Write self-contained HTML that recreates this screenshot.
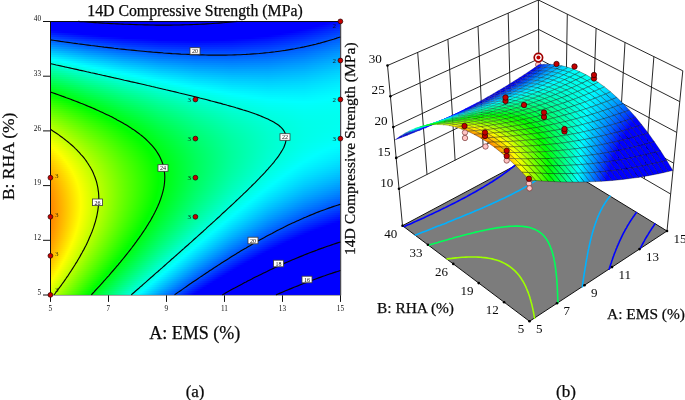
<!DOCTYPE html>
<html><head><meta charset="utf-8"><title>Figure</title>
<style>html,body{margin:0;padding:0;background:#fff}svg{display:block;will-change:transform}text{font-family:"Liberation Serif",serif;fill:#0a0a0a}.b{stroke:#0a0a0a;stroke-width:.25px}</style>
</head><body>
<svg width="685" height="400" viewBox="0 0 685 400">
<defs><linearGradient id="r0" gradientUnits="userSpaceOnUse" x1="50.4" x2="340.4" y1="0" y2="0"><stop offset="0" stop-color="#00f"/><stop offset="0.9675" stop-color="#00f"/><stop offset="1" stop-color="#0010ff"/></linearGradient><linearGradient id="r1" gradientUnits="userSpaceOnUse" x1="50.4" x2="340.4" y1="0" y2="0"><stop offset="0" stop-color="#00f"/><stop offset="0.9442" stop-color="#00f"/><stop offset="1" stop-color="#001aff"/></linearGradient><linearGradient id="r2" gradientUnits="userSpaceOnUse" x1="50.4" x2="340.4" y1="0" y2="0"><stop offset="0" stop-color="#00f"/><stop offset="0.9194" stop-color="#00f"/><stop offset="1" stop-color="#0024ff"/></linearGradient><linearGradient id="r3" gradientUnits="userSpaceOnUse" x1="50.4" x2="340.4" y1="0" y2="0"><stop offset="0" stop-color="#00f"/><stop offset="0.8925" stop-color="#00f"/><stop offset="1" stop-color="#002eff"/></linearGradient><linearGradient id="r4" gradientUnits="userSpaceOnUse" x1="50.4" x2="340.4" y1="0" y2="0"><stop offset="0" stop-color="#00f"/><stop offset="0.863" stop-color="#00f"/><stop offset="0.875" stop-color="#0004ff"/><stop offset="1" stop-color="#0038ff"/></linearGradient><linearGradient id="r5" gradientUnits="userSpaceOnUse" x1="50.4" x2="340.4" y1="0" y2="0"><stop offset="0" stop-color="#000fff"/><stop offset="0.0455" stop-color="#00f"/><stop offset="0.8302" stop-color="#00f"/><stop offset="0.875" stop-color="#000fff"/><stop offset="1" stop-color="#0041ff"/></linearGradient><linearGradient id="r6" gradientUnits="userSpaceOnUse" x1="50.4" x2="340.4" y1="0" y2="0"><stop offset="0" stop-color="#02f"/><stop offset="0.1077" stop-color="#00f"/><stop offset="0.7927" stop-color="#00f"/><stop offset="0.875" stop-color="#0019ff"/><stop offset="1" stop-color="#004aff"/></linearGradient><linearGradient id="r7" gradientUnits="userSpaceOnUse" x1="50.4" x2="340.4" y1="0" y2="0"><stop offset="0" stop-color="#0035ff"/><stop offset="0.125" stop-color="#000dff"/><stop offset="0.177" stop-color="#00f"/><stop offset="0.75" stop-color="#00f"/><stop offset="0.875" stop-color="#0024ff"/><stop offset="1" stop-color="#0053ff"/></linearGradient><linearGradient id="r8" gradientUnits="userSpaceOnUse" x1="50.4" x2="340.4" y1="0" y2="0"><stop offset="0" stop-color="#0048ff"/><stop offset="0.125" stop-color="#001eff"/><stop offset="0.25" stop-color="#0002ff"/><stop offset="0.2592" stop-color="#00f"/><stop offset="0.6905" stop-color="#00f"/><stop offset="0.75" stop-color="#000cff"/><stop offset="0.875" stop-color="#002eff"/><stop offset="1" stop-color="#005cff"/></linearGradient><linearGradient id="r9" gradientUnits="userSpaceOnUse" x1="50.4" x2="340.4" y1="0" y2="0"><stop offset="0" stop-color="#005aff"/><stop offset="0.125" stop-color="#0030ff"/><stop offset="0.25" stop-color="#0012ff"/><stop offset="0.375" stop-color="#00f"/><stop offset="0.5983" stop-color="#00f"/><stop offset="0.625" stop-color="#0003ff"/><stop offset="0.75" stop-color="#0017ff"/><stop offset="0.875" stop-color="#0037ff"/><stop offset="1" stop-color="#0065ff"/></linearGradient><linearGradient id="r10" gradientUnits="userSpaceOnUse" x1="50.4" x2="340.4" y1="0" y2="0"><stop offset="0" stop-color="#006cff"/><stop offset="0.125" stop-color="#0041ff"/><stop offset="0.25" stop-color="#0021ff"/><stop offset="0.375" stop-color="#000fff"/><stop offset="0.5" stop-color="#0008ff"/><stop offset="0.625" stop-color="#000fff"/><stop offset="0.75" stop-color="#02f"/><stop offset="0.875" stop-color="#0041ff"/><stop offset="1" stop-color="#006dff"/></linearGradient><linearGradient id="r11" gradientUnits="userSpaceOnUse" x1="50.4" x2="340.4" y1="0" y2="0"><stop offset="0" stop-color="#007fff"/><stop offset="0.125" stop-color="#0051ff"/><stop offset="0.25" stop-color="#0031ff"/><stop offset="0.375" stop-color="#001dff"/><stop offset="0.5" stop-color="#0016ff"/><stop offset="0.625" stop-color="#001bff"/><stop offset="0.75" stop-color="#002cff"/><stop offset="0.875" stop-color="#004aff"/><stop offset="1" stop-color="#0075ff"/></linearGradient><linearGradient id="r12" gradientUnits="userSpaceOnUse" x1="50.4" x2="340.4" y1="0" y2="0"><stop offset="0" stop-color="#0090ff"/><stop offset="0.125" stop-color="#0062ff"/><stop offset="0.25" stop-color="#0040ff"/><stop offset="0.375" stop-color="#002bff"/><stop offset="0.5" stop-color="#02f"/><stop offset="0.625" stop-color="#0026ff"/><stop offset="0.75" stop-color="#0037ff"/><stop offset="0.875" stop-color="#0054ff"/><stop offset="1" stop-color="#007dff"/></linearGradient><linearGradient id="r13" gradientUnits="userSpaceOnUse" x1="50.4" x2="340.4" y1="0" y2="0"><stop offset="0" stop-color="#00a2ff"/><stop offset="0.125" stop-color="#0072ff"/><stop offset="0.25" stop-color="#004fff"/><stop offset="0.375" stop-color="#0039ff"/><stop offset="0.5" stop-color="#002fff"/><stop offset="0.625" stop-color="#0032ff"/><stop offset="0.75" stop-color="#0041ff"/><stop offset="0.875" stop-color="#005cff"/><stop offset="1" stop-color="#0085ff"/></linearGradient><linearGradient id="r14" gradientUnits="userSpaceOnUse" x1="50.4" x2="340.4" y1="0" y2="0"><stop offset="0" stop-color="#00b3ff"/><stop offset="0.125" stop-color="#0083ff"/><stop offset="0.25" stop-color="#005eff"/><stop offset="0.375" stop-color="#0047ff"/><stop offset="0.5" stop-color="#003cff"/><stop offset="0.625" stop-color="#003dff"/><stop offset="0.75" stop-color="#004bff"/><stop offset="0.875" stop-color="#0065ff"/><stop offset="1" stop-color="#008cff"/></linearGradient><linearGradient id="r15" gradientUnits="userSpaceOnUse" x1="50.4" x2="340.4" y1="0" y2="0"><stop offset="0" stop-color="#00c5ff"/><stop offset="0.125" stop-color="#0093ff"/><stop offset="0.25" stop-color="#006dff"/><stop offset="0.375" stop-color="#0054ff"/><stop offset="0.5" stop-color="#0048ff"/><stop offset="0.625" stop-color="#0048ff"/><stop offset="0.75" stop-color="#05f"/><stop offset="0.875" stop-color="#006eff"/><stop offset="1" stop-color="#0094ff"/></linearGradient><linearGradient id="r16" gradientUnits="userSpaceOnUse" x1="50.4" x2="340.4" y1="0" y2="0"><stop offset="0" stop-color="#00d6ff"/><stop offset="0.125" stop-color="#00a2ff"/><stop offset="0.25" stop-color="#007cff"/><stop offset="0.375" stop-color="#0061ff"/><stop offset="0.5" stop-color="#0054ff"/><stop offset="0.625" stop-color="#0053ff"/><stop offset="0.75" stop-color="#005eff"/><stop offset="0.875" stop-color="#0076ff"/><stop offset="1" stop-color="#009bff"/></linearGradient><linearGradient id="r17" gradientUnits="userSpaceOnUse" x1="50.4" x2="340.4" y1="0" y2="0"><stop offset="0" stop-color="#00e6ff"/><stop offset="0.125" stop-color="#00b2ff"/><stop offset="0.25" stop-color="#008aff"/><stop offset="0.375" stop-color="#006fff"/><stop offset="0.5" stop-color="#0060ff"/><stop offset="0.625" stop-color="#005dff"/><stop offset="0.75" stop-color="#0067ff"/><stop offset="0.875" stop-color="#007eff"/><stop offset="1" stop-color="#00a1ff"/></linearGradient><linearGradient id="r18" gradientUnits="userSpaceOnUse" x1="50.4" x2="340.4" y1="0" y2="0"><stop offset="0" stop-color="#00f7ff"/><stop offset="0.125" stop-color="#00c1ff"/><stop offset="0.25" stop-color="#0098ff"/><stop offset="0.375" stop-color="#007bff"/><stop offset="0.5" stop-color="#006bff"/><stop offset="0.625" stop-color="#0068ff"/><stop offset="0.75" stop-color="#0071ff"/><stop offset="0.875" stop-color="#0086ff"/><stop offset="1" stop-color="#00a8ff"/></linearGradient><linearGradient id="r19" gradientUnits="userSpaceOnUse" x1="50.4" x2="340.4" y1="0" y2="0"><stop offset="0" stop-color="#00fff7"/><stop offset="0.0171" stop-color="#0ff"/><stop offset="0.125" stop-color="#00d0ff"/><stop offset="0.25" stop-color="#00a6ff"/><stop offset="0.375" stop-color="#08f"/><stop offset="0.5" stop-color="#07f"/><stop offset="0.625" stop-color="#0072ff"/><stop offset="0.75" stop-color="#007aff"/><stop offset="0.875" stop-color="#008eff"/><stop offset="1" stop-color="#00afff"/></linearGradient><linearGradient id="r20" gradientUnits="userSpaceOnUse" x1="50.4" x2="340.4" y1="0" y2="0"><stop offset="0" stop-color="#00ffe7"/><stop offset="0.0509" stop-color="#0ff"/><stop offset="0.125" stop-color="#00dfff"/><stop offset="0.25" stop-color="#00b4ff"/><stop offset="0.375" stop-color="#0094ff"/><stop offset="0.5" stop-color="#0082ff"/><stop offset="0.625" stop-color="#007cff"/><stop offset="0.75" stop-color="#0082ff"/><stop offset="0.875" stop-color="#0095ff"/><stop offset="1" stop-color="#00b5ff"/></linearGradient><linearGradient id="r21" gradientUnits="userSpaceOnUse" x1="50.4" x2="340.4" y1="0" y2="0"><stop offset="0" stop-color="#00ffd7"/><stop offset="0.0848" stop-color="#0ff"/><stop offset="0.125" stop-color="#0ef"/><stop offset="0.25" stop-color="#00c1ff"/><stop offset="0.375" stop-color="#00a1ff"/><stop offset="0.5" stop-color="#008dff"/><stop offset="0.625" stop-color="#0086ff"/><stop offset="0.75" stop-color="#008bff"/><stop offset="0.875" stop-color="#009dff"/><stop offset="1" stop-color="#0bf"/></linearGradient><linearGradient id="r22" gradientUnits="userSpaceOnUse" x1="50.4" x2="340.4" y1="0" y2="0"><stop offset="0" stop-color="#00ffc7"/><stop offset="0.1188" stop-color="#0ff"/><stop offset="0.125" stop-color="#00fcff"/><stop offset="0.25" stop-color="#00ceff"/><stop offset="0.375" stop-color="#00adff"/><stop offset="0.5" stop-color="#0098ff"/><stop offset="0.625" stop-color="#008fff"/><stop offset="0.75" stop-color="#0093ff"/><stop offset="0.875" stop-color="#00a4ff"/><stop offset="1" stop-color="#00c1ff"/></linearGradient><linearGradient id="r23" gradientUnits="userSpaceOnUse" x1="50.4" x2="340.4" y1="0" y2="0"><stop offset="0" stop-color="#00ffb7"/><stop offset="0.125" stop-color="#00fff3"/><stop offset="0.1529" stop-color="#0ff"/><stop offset="0.25" stop-color="#00dbff"/><stop offset="0.375" stop-color="#00b8ff"/><stop offset="0.5" stop-color="#00a2ff"/><stop offset="0.625" stop-color="#0098ff"/><stop offset="0.75" stop-color="#009bff"/><stop offset="0.875" stop-color="#0af"/><stop offset="1" stop-color="#00c6ff"/></linearGradient><linearGradient id="r24" gradientUnits="userSpaceOnUse" x1="50.4" x2="340.4" y1="0" y2="0"><stop offset="0" stop-color="#00ffa8"/><stop offset="0.125" stop-color="#00ffe5"/><stop offset="0.1871" stop-color="#0ff"/><stop offset="0.25" stop-color="#00e8ff"/><stop offset="0.375" stop-color="#00c4ff"/><stop offset="0.5" stop-color="#00acff"/><stop offset="0.625" stop-color="#00a2ff"/><stop offset="0.75" stop-color="#00a3ff"/><stop offset="0.875" stop-color="#00b1ff"/><stop offset="1" stop-color="#0cf"/></linearGradient><linearGradient id="r25" gradientUnits="userSpaceOnUse" x1="50.4" x2="340.4" y1="0" y2="0"><stop offset="0" stop-color="#0f9"/><stop offset="0.125" stop-color="#00ffd7"/><stop offset="0.2214" stop-color="#0ff"/><stop offset="0.25" stop-color="#00f5ff"/><stop offset="0.375" stop-color="#00cfff"/><stop offset="0.5" stop-color="#00b7ff"/><stop offset="0.625" stop-color="#0af"/><stop offset="0.75" stop-color="#00abff"/><stop offset="0.875" stop-color="#00b8ff"/><stop offset="1" stop-color="#00d1ff"/></linearGradient><linearGradient id="r26" gradientUnits="userSpaceOnUse" x1="50.4" x2="340.4" y1="0" y2="0"><stop offset="0" stop-color="#00ff8a"/><stop offset="0.125" stop-color="#00ffca"/><stop offset="0.25" stop-color="#00fffd"/><stop offset="0.256" stop-color="#0ff"/><stop offset="0.375" stop-color="#00dbff"/><stop offset="0.5" stop-color="#00c1ff"/><stop offset="0.625" stop-color="#00b3ff"/><stop offset="0.75" stop-color="#00b2ff"/><stop offset="0.875" stop-color="#00beff"/><stop offset="1" stop-color="#00d6ff"/></linearGradient><linearGradient id="r27" gradientUnits="userSpaceOnUse" x1="50.4" x2="340.4" y1="0" y2="0"><stop offset="0" stop-color="#00ff7c"/><stop offset="0.125" stop-color="#00ffbc"/><stop offset="0.25" stop-color="#00fff1"/><stop offset="0.2906" stop-color="#0ff"/><stop offset="0.375" stop-color="#00e6ff"/><stop offset="0.5" stop-color="#00caff"/><stop offset="0.625" stop-color="#00bcff"/><stop offset="0.75" stop-color="#00b9ff"/><stop offset="0.875" stop-color="#00c4ff"/><stop offset="1" stop-color="#00dbff"/></linearGradient><linearGradient id="r28" gradientUnits="userSpaceOnUse" x1="50.4" x2="340.4" y1="0" y2="0"><stop offset="0" stop-color="#00ff6d"/><stop offset="0.125" stop-color="#00ffaf"/><stop offset="0.25" stop-color="#00ffe5"/><stop offset="0.3256" stop-color="#0ff"/><stop offset="0.375" stop-color="#00f0ff"/><stop offset="0.5" stop-color="#00d4ff"/><stop offset="0.625" stop-color="#00c4ff"/><stop offset="0.75" stop-color="#00c0ff"/><stop offset="0.875" stop-color="#00caff"/><stop offset="1" stop-color="#00dfff"/></linearGradient><linearGradient id="r29" gradientUnits="userSpaceOnUse" x1="50.4" x2="340.4" y1="0" y2="0"><stop offset="0" stop-color="#00ff5f"/><stop offset="0.125" stop-color="#00ffa2"/><stop offset="0.25" stop-color="#00ffd9"/><stop offset="0.3607" stop-color="#0ff"/><stop offset="0.375" stop-color="#00fbff"/><stop offset="0.5" stop-color="#0df"/><stop offset="0.625" stop-color="#0cf"/><stop offset="0.75" stop-color="#00c7ff"/><stop offset="0.875" stop-color="#00cfff"/><stop offset="1" stop-color="#00e4ff"/></linearGradient><linearGradient id="r30" gradientUnits="userSpaceOnUse" x1="50.4" x2="340.4" y1="0" y2="0"><stop offset="0" stop-color="#00ff51"/><stop offset="0.125" stop-color="#00ff95"/><stop offset="0.25" stop-color="#00ffcd"/><stop offset="0.375" stop-color="#00fff9"/><stop offset="0.3962" stop-color="#0ff"/><stop offset="0.5" stop-color="#00e6ff"/><stop offset="0.625" stop-color="#00d4ff"/><stop offset="0.75" stop-color="#00ceff"/><stop offset="0.875" stop-color="#00d5ff"/><stop offset="1" stop-color="#00e8ff"/></linearGradient><linearGradient id="r31" gradientUnits="userSpaceOnUse" x1="50.4" x2="340.4" y1="0" y2="0"><stop offset="0" stop-color="#00ff43"/><stop offset="0.125" stop-color="#00ff89"/><stop offset="0.25" stop-color="#00ffc2"/><stop offset="0.375" stop-color="#00ffef"/><stop offset="0.432" stop-color="#0ff"/><stop offset="0.5" stop-color="#00efff"/><stop offset="0.625" stop-color="#00dbff"/><stop offset="0.75" stop-color="#00d4ff"/><stop offset="0.875" stop-color="#00daff"/><stop offset="1" stop-color="#00ecff"/></linearGradient><linearGradient id="r32" gradientUnits="userSpaceOnUse" x1="50.4" x2="340.4" y1="0" y2="0"><stop offset="0" stop-color="#00ff35"/><stop offset="0.125" stop-color="#00ff7c"/><stop offset="0.25" stop-color="#00ffb7"/><stop offset="0.375" stop-color="#00ffe5"/><stop offset="0.4683" stop-color="#0ff"/><stop offset="0.5" stop-color="#00f8ff"/><stop offset="0.625" stop-color="#00e3ff"/><stop offset="0.75" stop-color="#00daff"/><stop offset="0.875" stop-color="#00dfff"/><stop offset="1" stop-color="#00efff"/></linearGradient><linearGradient id="r33" gradientUnits="userSpaceOnUse" x1="50.4" x2="340.4" y1="0" y2="0"><stop offset="0" stop-color="#00ff28"/><stop offset="0.125" stop-color="#00ff70"/><stop offset="0.25" stop-color="#00ffac"/><stop offset="0.375" stop-color="#00ffdb"/><stop offset="0.5" stop-color="#00fffe"/><stop offset="0.5051" stop-color="#0ff"/><stop offset="0.625" stop-color="#00eaff"/><stop offset="0.75" stop-color="#00e0ff"/><stop offset="0.875" stop-color="#00e3ff"/><stop offset="1" stop-color="#00f3ff"/></linearGradient><linearGradient id="r34" gradientUnits="userSpaceOnUse" x1="50.4" x2="340.4" y1="0" y2="0"><stop offset="0" stop-color="#00ff1b"/><stop offset="0.125" stop-color="#00ff64"/><stop offset="0.25" stop-color="#00ffa1"/><stop offset="0.375" stop-color="#00ffd2"/><stop offset="0.5" stop-color="#00fff6"/><stop offset="0.5427" stop-color="#0ff"/><stop offset="0.625" stop-color="#00f1ff"/><stop offset="0.75" stop-color="#00e6ff"/><stop offset="0.875" stop-color="#00e8ff"/><stop offset="1" stop-color="#00f6ff"/></linearGradient><linearGradient id="r35" gradientUnits="userSpaceOnUse" x1="50.4" x2="340.4" y1="0" y2="0"><stop offset="0" stop-color="#00ff0e"/><stop offset="0.125" stop-color="#00ff59"/><stop offset="0.25" stop-color="#00ff97"/><stop offset="0.375" stop-color="#00ffc8"/><stop offset="0.5" stop-color="#0fe"/><stop offset="0.5813" stop-color="#0ff"/><stop offset="0.625" stop-color="#00f8ff"/><stop offset="0.75" stop-color="#00ecff"/><stop offset="0.875" stop-color="#00ecff"/><stop offset="1" stop-color="#00f9ff"/></linearGradient><linearGradient id="r36" gradientUnits="userSpaceOnUse" x1="50.4" x2="340.4" y1="0" y2="0"><stop offset="0" stop-color="#00ff01"/><stop offset="0.125" stop-color="#00ff4d"/><stop offset="0.25" stop-color="#00ff8c"/><stop offset="0.375" stop-color="#00ffbf"/><stop offset="0.5" stop-color="#00ffe6"/><stop offset="0.6212" stop-color="#0ff"/><stop offset="0.625" stop-color="#00feff"/><stop offset="0.75" stop-color="#00f1ff"/><stop offset="0.875" stop-color="#00f0ff"/><stop offset="1" stop-color="#00fcff"/></linearGradient><linearGradient id="r37" gradientUnits="userSpaceOnUse" x1="50.4" x2="340.4" y1="0" y2="0"><stop offset="0" stop-color="#0cff00"/><stop offset="0.0174" stop-color="#0f0"/><stop offset="0.125" stop-color="#00ff42"/><stop offset="0.25" stop-color="#00ff82"/><stop offset="0.375" stop-color="#00ffb7"/><stop offset="0.5" stop-color="#00ffde"/><stop offset="0.625" stop-color="#00fff9"/><stop offset="0.6632" stop-color="#0ff"/><stop offset="0.75" stop-color="#00f6ff"/><stop offset="0.875" stop-color="#00f4ff"/><stop offset="1" stop-color="#0ff"/></linearGradient><linearGradient id="r38" gradientUnits="userSpaceOnUse" x1="50.4" x2="340.4" y1="0" y2="0"><stop offset="0" stop-color="#18ff00"/><stop offset="0.036" stop-color="#0f0"/><stop offset="0.125" stop-color="#00ff37"/><stop offset="0.25" stop-color="#00ff79"/><stop offset="0.375" stop-color="#00ffae"/><stop offset="0.5" stop-color="#00ffd7"/><stop offset="0.625" stop-color="#00fff3"/><stop offset="0.7085" stop-color="#0ff"/><stop offset="0.75" stop-color="#00fbff"/><stop offset="0.875" stop-color="#00f8ff"/><stop offset="0.9812" stop-color="#0ff"/><stop offset="1" stop-color="#00fffd"/></linearGradient><linearGradient id="r39" gradientUnits="userSpaceOnUse" x1="50.4" x2="340.4" y1="0" y2="0"><stop offset="0" stop-color="#24ff00"/><stop offset="0.0541" stop-color="#0f0"/><stop offset="0.125" stop-color="#00ff2c"/><stop offset="0.25" stop-color="#00ff6f"/><stop offset="0.375" stop-color="#00ffa5"/><stop offset="0.5" stop-color="#00ffd0"/><stop offset="0.625" stop-color="#00ffed"/><stop offset="0.75" stop-color="#00fffe"/><stop offset="0.7606" stop-color="#0ff"/><stop offset="0.875" stop-color="#00fbff"/><stop offset="0.9538" stop-color="#0ff"/><stop offset="1" stop-color="#00fffb"/></linearGradient><linearGradient id="r40" gradientUnits="userSpaceOnUse" x1="50.4" x2="340.4" y1="0" y2="0"><stop offset="0" stop-color="#30ff00"/><stop offset="0.0717" stop-color="#0f0"/><stop offset="0.125" stop-color="#00ff21"/><stop offset="0.25" stop-color="#00ff65"/><stop offset="0.375" stop-color="#00ff9d"/><stop offset="0.5" stop-color="#00ffc9"/><stop offset="0.625" stop-color="#00ffe7"/><stop offset="0.75" stop-color="#00fffa"/><stop offset="0.8394" stop-color="#0ff"/><stop offset="0.8997" stop-color="#0ff"/><stop offset="1" stop-color="#00fff9"/></linearGradient><linearGradient id="r41" gradientUnits="userSpaceOnUse" x1="50.4" x2="340.4" y1="0" y2="0"><stop offset="0" stop-color="#3cff00"/><stop offset="0.0888" stop-color="#0f0"/><stop offset="0.125" stop-color="#00ff17"/><stop offset="0.25" stop-color="#00ff5c"/><stop offset="0.375" stop-color="#00ff95"/><stop offset="0.5" stop-color="#00ffc2"/><stop offset="0.625" stop-color="#00ffe2"/><stop offset="0.75" stop-color="#00fff5"/><stop offset="0.875" stop-color="#00fffc"/><stop offset="1" stop-color="#00fff7"/></linearGradient><linearGradient id="r42" gradientUnits="userSpaceOnUse" x1="50.4" x2="340.4" y1="0" y2="0"><stop offset="0" stop-color="#47ff00"/><stop offset="0.1054" stop-color="#0f0"/><stop offset="0.125" stop-color="#00ff0c"/><stop offset="0.25" stop-color="#00ff53"/><stop offset="0.375" stop-color="#00ff8d"/><stop offset="0.5" stop-color="#0fb"/><stop offset="0.625" stop-color="#0fd"/><stop offset="0.75" stop-color="#00fff1"/><stop offset="0.875" stop-color="#00fff9"/><stop offset="1" stop-color="#00fff5"/></linearGradient><linearGradient id="r43" gradientUnits="userSpaceOnUse" x1="50.4" x2="340.4" y1="0" y2="0"><stop offset="0" stop-color="#52ff00"/><stop offset="0.1215" stop-color="#0f0"/><stop offset="0.125" stop-color="#00ff02"/><stop offset="0.25" stop-color="#00ff4a"/><stop offset="0.375" stop-color="#00ff86"/><stop offset="0.5" stop-color="#00ffb5"/><stop offset="0.625" stop-color="#00ffd7"/><stop offset="0.75" stop-color="#00ffed"/><stop offset="0.875" stop-color="#00fff7"/><stop offset="1" stop-color="#00fff4"/></linearGradient><linearGradient id="r44" gradientUnits="userSpaceOnUse" x1="50.4" x2="340.4" y1="0" y2="0"><stop offset="0" stop-color="#5eff00"/><stop offset="0.125" stop-color="#08ff00"/><stop offset="0.1371" stop-color="#0f0"/><stop offset="0.25" stop-color="#00ff42"/><stop offset="0.375" stop-color="#00ff7f"/><stop offset="0.5" stop-color="#00ffaf"/><stop offset="0.625" stop-color="#00ffd3"/><stop offset="0.75" stop-color="#00ffea"/><stop offset="0.875" stop-color="#00fff4"/><stop offset="1" stop-color="#00fff3"/></linearGradient><linearGradient id="r45" gradientUnits="userSpaceOnUse" x1="50.4" x2="340.4" y1="0" y2="0"><stop offset="0" stop-color="#68ff00"/><stop offset="0.125" stop-color="#1f0"/><stop offset="0.1521" stop-color="#0f0"/><stop offset="0.25" stop-color="#00ff39"/><stop offset="0.375" stop-color="#0f7"/><stop offset="0.5" stop-color="#00ffa9"/><stop offset="0.625" stop-color="#00ffce"/><stop offset="0.75" stop-color="#00ffe6"/><stop offset="0.875" stop-color="#00fff2"/><stop offset="1" stop-color="#00fff2"/></linearGradient><linearGradient id="r46" gradientUnits="userSpaceOnUse" x1="50.4" x2="340.4" y1="0" y2="0"><stop offset="0" stop-color="#73ff00"/><stop offset="0.125" stop-color="#1bff00"/><stop offset="0.1667" stop-color="#0f0"/><stop offset="0.25" stop-color="#00ff31"/><stop offset="0.375" stop-color="#00ff70"/><stop offset="0.5" stop-color="#00ffa3"/><stop offset="0.625" stop-color="#00ffc9"/><stop offset="0.75" stop-color="#00ffe3"/><stop offset="0.875" stop-color="#00fff0"/><stop offset="1" stop-color="#00fff1"/></linearGradient><linearGradient id="r47" gradientUnits="userSpaceOnUse" x1="50.4" x2="340.4" y1="0" y2="0"><stop offset="0" stop-color="#7dff00"/><stop offset="0.125" stop-color="#24ff00"/><stop offset="0.1807" stop-color="#0f0"/><stop offset="0.25" stop-color="#00ff29"/><stop offset="0.375" stop-color="#00ff6a"/><stop offset="0.5" stop-color="#00ff9e"/><stop offset="0.625" stop-color="#00ffc5"/><stop offset="0.75" stop-color="#00ffe0"/><stop offset="0.875" stop-color="#0fe"/><stop offset="1" stop-color="#00fff0"/></linearGradient><linearGradient id="r48" gradientUnits="userSpaceOnUse" x1="50.4" x2="340.4" y1="0" y2="0"><stop offset="0" stop-color="#8f0"/><stop offset="0.125" stop-color="#2dff00"/><stop offset="0.1942" stop-color="#0f0"/><stop offset="0.25" stop-color="#00ff21"/><stop offset="0.375" stop-color="#00ff63"/><stop offset="0.5" stop-color="#00ff98"/><stop offset="0.625" stop-color="#00ffc1"/><stop offset="0.75" stop-color="#0fd"/><stop offset="0.875" stop-color="#00ffed"/><stop offset="1" stop-color="#00fff0"/></linearGradient><linearGradient id="r49" gradientUnits="userSpaceOnUse" x1="50.4" x2="340.4" y1="0" y2="0"><stop offset="0" stop-color="#92ff00"/><stop offset="0.125" stop-color="#36ff00"/><stop offset="0.2071" stop-color="#0f0"/><stop offset="0.25" stop-color="#00ff1a"/><stop offset="0.375" stop-color="#00ff5d"/><stop offset="0.5" stop-color="#00ff93"/><stop offset="0.625" stop-color="#00ffbd"/><stop offset="0.75" stop-color="#00ffdb"/><stop offset="0.875" stop-color="#00ffeb"/><stop offset="1" stop-color="#00fff0"/></linearGradient><linearGradient id="r50" gradientUnits="userSpaceOnUse" x1="50.4" x2="340.4" y1="0" y2="0"><stop offset="0" stop-color="#9cff00"/><stop offset="0.125" stop-color="#3eff00"/><stop offset="0.2196" stop-color="#0f0"/><stop offset="0.25" stop-color="#00ff13"/><stop offset="0.375" stop-color="#00ff57"/><stop offset="0.5" stop-color="#00ff8e"/><stop offset="0.625" stop-color="#00ffba"/><stop offset="0.75" stop-color="#00ffd8"/><stop offset="0.875" stop-color="#00ffea"/><stop offset="1" stop-color="#00fff0"/></linearGradient><linearGradient id="r51" gradientUnits="userSpaceOnUse" x1="50.4" x2="340.4" y1="0" y2="0"><stop offset="0" stop-color="#a5ff00"/><stop offset="0.125" stop-color="#47ff00"/><stop offset="0.2314" stop-color="#0f0"/><stop offset="0.25" stop-color="#00ff0b"/><stop offset="0.375" stop-color="#00ff51"/><stop offset="0.5" stop-color="#00ff8a"/><stop offset="0.625" stop-color="#00ffb6"/><stop offset="0.75" stop-color="#00ffd6"/><stop offset="0.875" stop-color="#00ffe9"/><stop offset="1" stop-color="#00fff0"/></linearGradient><linearGradient id="r52" gradientUnits="userSpaceOnUse" x1="50.4" x2="340.4" y1="0" y2="0"><stop offset="0" stop-color="#afff00"/><stop offset="0.125" stop-color="#4fff00"/><stop offset="0.2428" stop-color="#0f0"/><stop offset="0.25" stop-color="#00ff04"/><stop offset="0.375" stop-color="#00ff4b"/><stop offset="0.5" stop-color="#00ff85"/><stop offset="0.625" stop-color="#00ffb3"/><stop offset="0.75" stop-color="#00ffd4"/><stop offset="0.875" stop-color="#00ffe9"/><stop offset="1" stop-color="#00fff1"/></linearGradient><linearGradient id="r53" gradientUnits="userSpaceOnUse" x1="50.4" x2="340.4" y1="0" y2="0"><stop offset="0" stop-color="#b8ff00"/><stop offset="0.125" stop-color="#57ff00"/><stop offset="0.25" stop-color="#02ff00"/><stop offset="0.2536" stop-color="#0f0"/><stop offset="0.375" stop-color="#00ff46"/><stop offset="0.5" stop-color="#00ff81"/><stop offset="0.625" stop-color="#00ffb0"/><stop offset="0.75" stop-color="#00ffd2"/><stop offset="0.875" stop-color="#00ffe8"/><stop offset="1" stop-color="#00fff1"/></linearGradient><linearGradient id="r54" gradientUnits="userSpaceOnUse" x1="50.4" x2="340.4" y1="0" y2="0"><stop offset="0" stop-color="#c1ff00"/><stop offset="0.125" stop-color="#5eff00"/><stop offset="0.25" stop-color="#09ff00"/><stop offset="0.2639" stop-color="#0f0"/><stop offset="0.375" stop-color="#00ff40"/><stop offset="0.5" stop-color="#00ff7d"/><stop offset="0.625" stop-color="#00ffad"/><stop offset="0.75" stop-color="#00ffd1"/><stop offset="0.875" stop-color="#00ffe8"/><stop offset="1" stop-color="#00fff2"/></linearGradient><linearGradient id="r55" gradientUnits="userSpaceOnUse" x1="50.4" x2="340.4" y1="0" y2="0"><stop offset="0" stop-color="#c9ff00"/><stop offset="0.125" stop-color="#6f0"/><stop offset="0.25" stop-color="#0fff00"/><stop offset="0.2736" stop-color="#0f0"/><stop offset="0.375" stop-color="#00ff3b"/><stop offset="0.5" stop-color="#00ff79"/><stop offset="0.625" stop-color="#00ffab"/><stop offset="0.75" stop-color="#00ffcf"/><stop offset="0.875" stop-color="#00ffe8"/><stop offset="1" stop-color="#00fff3"/></linearGradient><linearGradient id="r56" gradientUnits="userSpaceOnUse" x1="50.4" x2="340.4" y1="0" y2="0"><stop offset="0" stop-color="#d2ff00"/><stop offset="0.125" stop-color="#6dff00"/><stop offset="0.25" stop-color="#15ff00"/><stop offset="0.2828" stop-color="#0f0"/><stop offset="0.375" stop-color="#00ff37"/><stop offset="0.5" stop-color="#00ff76"/><stop offset="0.625" stop-color="#00ffa8"/><stop offset="0.75" stop-color="#00ffce"/><stop offset="0.875" stop-color="#00ffe8"/><stop offset="1" stop-color="#00fff5"/></linearGradient><linearGradient id="r57" gradientUnits="userSpaceOnUse" x1="50.4" x2="340.4" y1="0" y2="0"><stop offset="0" stop-color="#daff00"/><stop offset="0.125" stop-color="#74ff00"/><stop offset="0.25" stop-color="#1bff00"/><stop offset="0.2916" stop-color="#0f0"/><stop offset="0.375" stop-color="#00ff32"/><stop offset="0.5" stop-color="#00ff72"/><stop offset="0.625" stop-color="#00ffa6"/><stop offset="0.75" stop-color="#00ffcd"/><stop offset="0.875" stop-color="#00ffe8"/><stop offset="1" stop-color="#00fff6"/></linearGradient><linearGradient id="r58" gradientUnits="userSpaceOnUse" x1="50.4" x2="340.4" y1="0" y2="0"><stop offset="0" stop-color="#e2ff00"/><stop offset="0.125" stop-color="#7bff00"/><stop offset="0.25" stop-color="#21ff00"/><stop offset="0.2998" stop-color="#0f0"/><stop offset="0.375" stop-color="#00ff2e"/><stop offset="0.5" stop-color="#00ff6f"/><stop offset="0.625" stop-color="#00ffa4"/><stop offset="0.75" stop-color="#00ffcd"/><stop offset="0.875" stop-color="#00ffe9"/><stop offset="1" stop-color="#00fff8"/></linearGradient><linearGradient id="r59" gradientUnits="userSpaceOnUse" x1="50.4" x2="340.4" y1="0" y2="0"><stop offset="0" stop-color="#eaff00"/><stop offset="0.125" stop-color="#82ff00"/><stop offset="0.25" stop-color="#26ff00"/><stop offset="0.3075" stop-color="#0f0"/><stop offset="0.375" stop-color="#00ff29"/><stop offset="0.5" stop-color="#00ff6c"/><stop offset="0.625" stop-color="#00ffa2"/><stop offset="0.75" stop-color="#0fc"/><stop offset="0.875" stop-color="#00ffe9"/><stop offset="1" stop-color="#00fffa"/></linearGradient><linearGradient id="r60" gradientUnits="userSpaceOnUse" x1="50.4" x2="340.4" y1="0" y2="0"><stop offset="0" stop-color="#f2ff00"/><stop offset="0.125" stop-color="#8f0"/><stop offset="0.25" stop-color="#2bff00"/><stop offset="0.3147" stop-color="#0f0"/><stop offset="0.375" stop-color="#00ff25"/><stop offset="0.5" stop-color="#00ff69"/><stop offset="0.625" stop-color="#00ffa1"/><stop offset="0.75" stop-color="#0fc"/><stop offset="0.875" stop-color="#00ffea"/><stop offset="1" stop-color="#00fffc"/></linearGradient><linearGradient id="r61" gradientUnits="userSpaceOnUse" x1="50.4" x2="340.4" y1="0" y2="0"><stop offset="0" stop-color="#faff00"/><stop offset="0.125" stop-color="#8fff00"/><stop offset="0.25" stop-color="#30ff00"/><stop offset="0.3214" stop-color="#0f0"/><stop offset="0.375" stop-color="#0f2"/><stop offset="0.5" stop-color="#00ff67"/><stop offset="0.625" stop-color="#00ffa0"/><stop offset="0.75" stop-color="#0fc"/><stop offset="0.875" stop-color="#00ffec"/><stop offset="1" stop-color="#0ff"/></linearGradient><linearGradient id="r62" gradientUnits="userSpaceOnUse" x1="50.4" x2="340.4" y1="0" y2="0"><stop offset="0" stop-color="#fffd00"/><stop offset="0.002" stop-color="#ff0"/><stop offset="0.125" stop-color="#95ff00"/><stop offset="0.25" stop-color="#35ff00"/><stop offset="0.3277" stop-color="#0f0"/><stop offset="0.375" stop-color="#00ff1e"/><stop offset="0.5" stop-color="#00ff65"/><stop offset="0.625" stop-color="#00ff9f"/><stop offset="0.75" stop-color="#0fc"/><stop offset="0.875" stop-color="#00ffed"/><stop offset="0.981" stop-color="#0ff"/><stop offset="1" stop-color="#00fdff"/></linearGradient><linearGradient id="r63" gradientUnits="userSpaceOnUse" x1="50.4" x2="340.4" y1="0" y2="0"><stop offset="0" stop-color="#fff600"/><stop offset="0.0097" stop-color="#ff0"/><stop offset="0.125" stop-color="#9bff00"/><stop offset="0.25" stop-color="#3aff00"/><stop offset="0.3335" stop-color="#0f0"/><stop offset="0.375" stop-color="#00ff1b"/><stop offset="0.5" stop-color="#00ff62"/><stop offset="0.625" stop-color="#00ff9e"/><stop offset="0.75" stop-color="#0fc"/><stop offset="0.875" stop-color="#0fe"/><stop offset="0.9629" stop-color="#0ff"/><stop offset="1" stop-color="#00faff"/></linearGradient><linearGradient id="r64" gradientUnits="userSpaceOnUse" x1="50.4" x2="340.4" y1="0" y2="0"><stop offset="0" stop-color="#ffef00"/><stop offset="0.017" stop-color="#ff0"/><stop offset="0.125" stop-color="#a0ff00"/><stop offset="0.25" stop-color="#3eff00"/><stop offset="0.3388" stop-color="#0f0"/><stop offset="0.375" stop-color="#00ff17"/><stop offset="0.5" stop-color="#00ff60"/><stop offset="0.625" stop-color="#00ff9d"/><stop offset="0.75" stop-color="#00ffcd"/><stop offset="0.875" stop-color="#00fff0"/><stop offset="0.9471" stop-color="#0ff"/><stop offset="1" stop-color="#00f7ff"/></linearGradient><linearGradient id="r65" gradientUnits="userSpaceOnUse" x1="50.4" x2="340.4" y1="0" y2="0"><stop offset="0" stop-color="#ffe900"/><stop offset="0.024" stop-color="#ff0"/><stop offset="0.125" stop-color="#a6ff00"/><stop offset="0.25" stop-color="#42ff00"/><stop offset="0.3438" stop-color="#0f0"/><stop offset="0.375" stop-color="#00ff15"/><stop offset="0.5" stop-color="#00ff5f"/><stop offset="0.625" stop-color="#00ff9c"/><stop offset="0.75" stop-color="#00ffce"/><stop offset="0.875" stop-color="#00fff2"/><stop offset="0.9328" stop-color="#0ff"/><stop offset="1" stop-color="#00f4ff"/></linearGradient><linearGradient id="r66" gradientUnits="userSpaceOnUse" x1="50.4" x2="340.4" y1="0" y2="0"><stop offset="0" stop-color="#ffe200"/><stop offset="0.0306" stop-color="#ff0"/><stop offset="0.125" stop-color="#abff00"/><stop offset="0.25" stop-color="#46ff00"/><stop offset="0.3482" stop-color="#0f0"/><stop offset="0.375" stop-color="#00ff12"/><stop offset="0.5" stop-color="#00ff5d"/><stop offset="0.625" stop-color="#00ff9c"/><stop offset="0.75" stop-color="#00ffcf"/><stop offset="0.875" stop-color="#00fff5"/><stop offset="0.9196" stop-color="#0ff"/><stop offset="1" stop-color="#00f0ff"/></linearGradient><linearGradient id="r67" gradientUnits="userSpaceOnUse" x1="50.4" x2="340.4" y1="0" y2="0"><stop offset="0" stop-color="#ffdc00"/><stop offset="0.037" stop-color="#ff0"/><stop offset="0.125" stop-color="#b0ff00"/><stop offset="0.25" stop-color="#4aff00"/><stop offset="0.3523" stop-color="#0f0"/><stop offset="0.375" stop-color="#00ff0f"/><stop offset="0.5" stop-color="#00ff5c"/><stop offset="0.625" stop-color="#00ff9c"/><stop offset="0.75" stop-color="#00ffd0"/><stop offset="0.875" stop-color="#00fff7"/><stop offset="0.9072" stop-color="#0ff"/><stop offset="1" stop-color="#00ecff"/></linearGradient><linearGradient id="r68" gradientUnits="userSpaceOnUse" x1="50.4" x2="340.4" y1="0" y2="0"><stop offset="0" stop-color="#ffd600"/><stop offset="0.043" stop-color="#ff0"/><stop offset="0.125" stop-color="#b5ff00"/><stop offset="0.25" stop-color="#4eff00"/><stop offset="0.356" stop-color="#0f0"/><stop offset="0.375" stop-color="#00ff0d"/><stop offset="0.5" stop-color="#00ff5b"/><stop offset="0.625" stop-color="#00ff9c"/><stop offset="0.75" stop-color="#00ffd1"/><stop offset="0.875" stop-color="#00fffa"/><stop offset="0.8955" stop-color="#0ff"/><stop offset="1" stop-color="#00e9ff"/></linearGradient><linearGradient id="r69" gradientUnits="userSpaceOnUse" x1="50.4" x2="340.4" y1="0" y2="0"><stop offset="0" stop-color="#ffd000"/><stop offset="0.0486" stop-color="#ff0"/><stop offset="0.125" stop-color="#b9ff00"/><stop offset="0.25" stop-color="#51ff00"/><stop offset="0.3592" stop-color="#0f0"/><stop offset="0.375" stop-color="#00ff0b"/><stop offset="0.5" stop-color="#00ff5a"/><stop offset="0.625" stop-color="#00ff9d"/><stop offset="0.75" stop-color="#00ffd3"/><stop offset="0.875" stop-color="#00fffc"/><stop offset="0.8842" stop-color="#0ff"/><stop offset="1" stop-color="#00e5ff"/></linearGradient><linearGradient id="r70" gradientUnits="userSpaceOnUse" x1="50.4" x2="340.4" y1="0" y2="0"><stop offset="0" stop-color="#ffca00"/><stop offset="0.054" stop-color="#ff0"/><stop offset="0.125" stop-color="#bdff00"/><stop offset="0.25" stop-color="#54ff00"/><stop offset="0.3621" stop-color="#0f0"/><stop offset="0.375" stop-color="#00ff09"/><stop offset="0.5" stop-color="#00ff59"/><stop offset="0.625" stop-color="#00ff9d"/><stop offset="0.75" stop-color="#00ffd5"/><stop offset="0.8733" stop-color="#0ff"/><stop offset="0.875" stop-color="#0ff"/><stop offset="1" stop-color="#00e0ff"/></linearGradient><linearGradient id="r71" gradientUnits="userSpaceOnUse" x1="50.4" x2="340.4" y1="0" y2="0"><stop offset="0" stop-color="#ffc500"/><stop offset="0.0591" stop-color="#ff0"/><stop offset="0.125" stop-color="#c2ff00"/><stop offset="0.25" stop-color="#57ff00"/><stop offset="0.3647" stop-color="#0f0"/><stop offset="0.375" stop-color="#00ff07"/><stop offset="0.5" stop-color="#00ff59"/><stop offset="0.625" stop-color="#00ff9e"/><stop offset="0.75" stop-color="#00ffd7"/><stop offset="0.8627" stop-color="#0ff"/><stop offset="0.875" stop-color="#00fbff"/><stop offset="1" stop-color="#00dcff"/></linearGradient><linearGradient id="r72" gradientUnits="userSpaceOnUse" x1="50.4" x2="340.4" y1="0" y2="0"><stop offset="0" stop-color="#ffc000"/><stop offset="0.0638" stop-color="#ff0"/><stop offset="0.125" stop-color="#c6ff00"/><stop offset="0.25" stop-color="#5aff00"/><stop offset="0.3668" stop-color="#0f0"/><stop offset="0.375" stop-color="#00ff06"/><stop offset="0.5" stop-color="#00ff59"/><stop offset="0.625" stop-color="#00ff9f"/><stop offset="0.75" stop-color="#00ffd9"/><stop offset="0.8524" stop-color="#0ff"/><stop offset="0.875" stop-color="#00f8ff"/><stop offset="1" stop-color="#00d7ff"/></linearGradient><linearGradient id="r73" gradientUnits="userSpaceOnUse" x1="50.4" x2="340.4" y1="0" y2="0"><stop offset="0" stop-color="#fb0"/><stop offset="0.0683" stop-color="#ff0"/><stop offset="0.125" stop-color="#c9ff00"/><stop offset="0.25" stop-color="#5cff00"/><stop offset="0.3687" stop-color="#0f0"/><stop offset="0.375" stop-color="#00ff05"/><stop offset="0.5" stop-color="#00ff59"/><stop offset="0.625" stop-color="#00ffa0"/><stop offset="0.75" stop-color="#00ffdb"/><stop offset="0.8423" stop-color="#0ff"/><stop offset="0.875" stop-color="#00f4ff"/><stop offset="1" stop-color="#00d2ff"/></linearGradient><linearGradient id="r74" gradientUnits="userSpaceOnUse" x1="50.4" x2="340.4" y1="0" y2="0"><stop offset="0" stop-color="#ffb600"/><stop offset="0.0724" stop-color="#ff0"/><stop offset="0.125" stop-color="#cdff00"/><stop offset="0.25" stop-color="#5eff00"/><stop offset="0.3702" stop-color="#0f0"/><stop offset="0.375" stop-color="#00ff04"/><stop offset="0.5" stop-color="#00ff59"/><stop offset="0.625" stop-color="#00ffa2"/><stop offset="0.75" stop-color="#00ffde"/><stop offset="0.8324" stop-color="#0ff"/><stop offset="0.875" stop-color="#00f0ff"/><stop offset="1" stop-color="#00cdff"/></linearGradient><linearGradient id="r75" gradientUnits="userSpaceOnUse" x1="50.4" x2="340.4" y1="0" y2="0"><stop offset="0" stop-color="#ffb200"/><stop offset="0.0763" stop-color="#ff0"/><stop offset="0.125" stop-color="#d0ff00"/><stop offset="0.25" stop-color="#60ff00"/><stop offset="0.3713" stop-color="#0f0"/><stop offset="0.375" stop-color="#00ff03"/><stop offset="0.5" stop-color="#00ff59"/><stop offset="0.625" stop-color="#00ffa3"/><stop offset="0.75" stop-color="#00ffe1"/><stop offset="0.8227" stop-color="#0ff"/><stop offset="0.875" stop-color="#00ecff"/><stop offset="1" stop-color="#00c8ff"/></linearGradient><linearGradient id="r76" gradientUnits="userSpaceOnUse" x1="50.4" x2="340.4" y1="0" y2="0"><stop offset="0" stop-color="#ffad00"/><stop offset="0.0799" stop-color="#ff0"/><stop offset="0.125" stop-color="#d3ff00"/><stop offset="0.25" stop-color="#62ff00"/><stop offset="0.3722" stop-color="#0f0"/><stop offset="0.375" stop-color="#00ff02"/><stop offset="0.5" stop-color="#00ff5a"/><stop offset="0.625" stop-color="#00ffa5"/><stop offset="0.75" stop-color="#00ffe4"/><stop offset="0.8131" stop-color="#0ff"/><stop offset="0.875" stop-color="#00e8ff"/><stop offset="1" stop-color="#00c2ff"/></linearGradient><linearGradient id="r77" gradientUnits="userSpaceOnUse" x1="50.4" x2="340.4" y1="0" y2="0"><stop offset="0" stop-color="#ffa900"/><stop offset="0.0833" stop-color="#ff0"/><stop offset="0.125" stop-color="#d6ff00"/><stop offset="0.25" stop-color="#64ff00"/><stop offset="0.3728" stop-color="#0f0"/><stop offset="0.375" stop-color="#00ff02"/><stop offset="0.5" stop-color="#00ff5b"/><stop offset="0.625" stop-color="#00ffa7"/><stop offset="0.75" stop-color="#00ffe7"/><stop offset="0.8037" stop-color="#0ff"/><stop offset="0.875" stop-color="#00e3ff"/><stop offset="1" stop-color="#00bcff"/></linearGradient><linearGradient id="r78" gradientUnits="userSpaceOnUse" x1="50.4" x2="340.4" y1="0" y2="0"><stop offset="0" stop-color="#ffa500"/><stop offset="0.0863" stop-color="#ff0"/><stop offset="0.125" stop-color="#d9ff00"/><stop offset="0.25" stop-color="#65ff00"/><stop offset="0.3731" stop-color="#0f0"/><stop offset="0.375" stop-color="#00ff02"/><stop offset="0.5" stop-color="#00ff5c"/><stop offset="0.625" stop-color="#0fa"/><stop offset="0.75" stop-color="#00ffeb"/><stop offset="0.7943" stop-color="#0ff"/><stop offset="0.875" stop-color="#00deff"/><stop offset="1" stop-color="#00b6ff"/></linearGradient><linearGradient id="r79" gradientUnits="userSpaceOnUse" x1="50.4" x2="340.4" y1="0" y2="0"><stop offset="0" stop-color="#ffa200"/><stop offset="0.0891" stop-color="#ff0"/><stop offset="0.125" stop-color="#dbff00"/><stop offset="0.25" stop-color="#67ff00"/><stop offset="0.3731" stop-color="#0f0"/><stop offset="0.375" stop-color="#00ff02"/><stop offset="0.5" stop-color="#00ff5d"/><stop offset="0.625" stop-color="#00ffac"/><stop offset="0.75" stop-color="#00ffef"/><stop offset="0.7851" stop-color="#0ff"/><stop offset="0.875" stop-color="#00d9ff"/><stop offset="1" stop-color="#00b0ff"/></linearGradient><linearGradient id="r80" gradientUnits="userSpaceOnUse" x1="50.4" x2="340.4" y1="0" y2="0"><stop offset="0" stop-color="#ff9e00"/><stop offset="0.0917" stop-color="#ff0"/><stop offset="0.125" stop-color="#df0"/><stop offset="0.25" stop-color="#68ff00"/><stop offset="0.3728" stop-color="#0f0"/><stop offset="0.375" stop-color="#00ff02"/><stop offset="0.5" stop-color="#00ff5f"/><stop offset="0.625" stop-color="#00ffaf"/><stop offset="0.75" stop-color="#00fff3"/><stop offset="0.7759" stop-color="#0ff"/><stop offset="0.875" stop-color="#00d4ff"/><stop offset="1" stop-color="#0af"/></linearGradient><linearGradient id="r81" gradientUnits="userSpaceOnUse" x1="50.4" x2="340.4" y1="0" y2="0"><stop offset="0" stop-color="#ff9b00"/><stop offset="0.094" stop-color="#ff0"/><stop offset="0.125" stop-color="#e0ff00"/><stop offset="0.25" stop-color="#68ff00"/><stop offset="0.3723" stop-color="#0f0"/><stop offset="0.375" stop-color="#00ff02"/><stop offset="0.5" stop-color="#00ff60"/><stop offset="0.625" stop-color="#00ffb2"/><stop offset="0.75" stop-color="#00fff7"/><stop offset="0.7668" stop-color="#0ff"/><stop offset="0.875" stop-color="#00cfff"/><stop offset="1" stop-color="#00a3ff"/></linearGradient><linearGradient id="r82" gradientUnits="userSpaceOnUse" x1="50.4" x2="340.4" y1="0" y2="0"><stop offset="0" stop-color="#ff9800"/><stop offset="0.096" stop-color="#ff0"/><stop offset="0.125" stop-color="#e1ff00"/><stop offset="0.25" stop-color="#69ff00"/><stop offset="0.3715" stop-color="#0f0"/><stop offset="0.375" stop-color="#00ff03"/><stop offset="0.5" stop-color="#00ff62"/><stop offset="0.625" stop-color="#00ffb5"/><stop offset="0.75" stop-color="#00fffb"/><stop offset="0.7578" stop-color="#0ff"/><stop offset="0.875" stop-color="#00c9ff"/><stop offset="1" stop-color="#009cff"/></linearGradient><linearGradient id="r83" gradientUnits="userSpaceOnUse" x1="50.4" x2="340.4" y1="0" y2="0"><stop offset="0" stop-color="#ff9500"/><stop offset="0.0979" stop-color="#ff0"/><stop offset="0.125" stop-color="#e3ff00"/><stop offset="0.25" stop-color="#69ff00"/><stop offset="0.3705" stop-color="#0f0"/><stop offset="0.375" stop-color="#00ff04"/><stop offset="0.5" stop-color="#00ff64"/><stop offset="0.625" stop-color="#00ffb8"/><stop offset="0.7488" stop-color="#0ff"/><stop offset="0.75" stop-color="#00feff"/><stop offset="0.875" stop-color="#00c3ff"/><stop offset="1" stop-color="#0095ff"/></linearGradient><linearGradient id="r84" gradientUnits="userSpaceOnUse" x1="50.4" x2="340.4" y1="0" y2="0"><stop offset="0" stop-color="#ff9200"/><stop offset="0.0995" stop-color="#ff0"/><stop offset="0.125" stop-color="#e4ff00"/><stop offset="0.25" stop-color="#6aff00"/><stop offset="0.3693" stop-color="#0f0"/><stop offset="0.375" stop-color="#00ff05"/><stop offset="0.5" stop-color="#0f6"/><stop offset="0.625" stop-color="#00ffbc"/><stop offset="0.7399" stop-color="#0ff"/><stop offset="0.75" stop-color="#00faff"/><stop offset="0.875" stop-color="#00bdff"/><stop offset="1" stop-color="#008eff"/></linearGradient><linearGradient id="r85" gradientUnits="userSpaceOnUse" x1="50.4" x2="340.4" y1="0" y2="0"><stop offset="0" stop-color="#ff9000"/><stop offset="0.1008" stop-color="#ff0"/><stop offset="0.125" stop-color="#e6ff00"/><stop offset="0.25" stop-color="#69ff00"/><stop offset="0.3679" stop-color="#0f0"/><stop offset="0.375" stop-color="#00ff06"/><stop offset="0.5" stop-color="#00ff69"/><stop offset="0.625" stop-color="#00ffbf"/><stop offset="0.7311" stop-color="#0ff"/><stop offset="0.75" stop-color="#00f5ff"/><stop offset="0.875" stop-color="#00b7ff"/><stop offset="1" stop-color="#0086ff"/></linearGradient><linearGradient id="r86" gradientUnits="userSpaceOnUse" x1="50.4" x2="340.4" y1="0" y2="0"><stop offset="0" stop-color="#ff8e00"/><stop offset="0.102" stop-color="#ff0"/><stop offset="0.125" stop-color="#e7ff00"/><stop offset="0.25" stop-color="#69ff00"/><stop offset="0.3662" stop-color="#0f0"/><stop offset="0.375" stop-color="#00ff08"/><stop offset="0.5" stop-color="#00ff6c"/><stop offset="0.625" stop-color="#00ffc3"/><stop offset="0.7223" stop-color="#0ff"/><stop offset="0.75" stop-color="#00efff"/><stop offset="0.875" stop-color="#00b1ff"/><stop offset="1" stop-color="#007fff"/></linearGradient><linearGradient id="r87" gradientUnits="userSpaceOnUse" x1="50.4" x2="340.4" y1="0" y2="0"><stop offset="0" stop-color="#ff8c00"/><stop offset="0.1029" stop-color="#ff0"/><stop offset="0.125" stop-color="#e7ff00"/><stop offset="0.25" stop-color="#69ff00"/><stop offset="0.3644" stop-color="#0f0"/><stop offset="0.375" stop-color="#00ff09"/><stop offset="0.5" stop-color="#00ff6f"/><stop offset="0.625" stop-color="#00ffc8"/><stop offset="0.7135" stop-color="#0ff"/><stop offset="0.75" stop-color="#00eaff"/><stop offset="0.875" stop-color="#0af"/><stop offset="1" stop-color="#07f"/></linearGradient><linearGradient id="r88" gradientUnits="userSpaceOnUse" x1="50.4" x2="340.4" y1="0" y2="0"><stop offset="0" stop-color="#ff8a00"/><stop offset="0.1036" stop-color="#ff0"/><stop offset="0.125" stop-color="#e8ff00"/><stop offset="0.25" stop-color="#68ff00"/><stop offset="0.3623" stop-color="#0f0"/><stop offset="0.375" stop-color="#00ff0b"/><stop offset="0.5" stop-color="#00ff72"/><stop offset="0.625" stop-color="#0fc"/><stop offset="0.7048" stop-color="#0ff"/><stop offset="0.75" stop-color="#00e4ff"/><stop offset="0.875" stop-color="#00a3ff"/><stop offset="1" stop-color="#006fff"/></linearGradient><linearGradient id="r89" gradientUnits="userSpaceOnUse" x1="50.4" x2="340.4" y1="0" y2="0"><stop offset="0" stop-color="#f80"/><stop offset="0.1041" stop-color="#ff0"/><stop offset="0.125" stop-color="#e8ff00"/><stop offset="0.25" stop-color="#67ff00"/><stop offset="0.3601" stop-color="#0f0"/><stop offset="0.375" stop-color="#00ff0d"/><stop offset="0.5" stop-color="#00ff75"/><stop offset="0.625" stop-color="#00ffd1"/><stop offset="0.6961" stop-color="#0ff"/><stop offset="0.75" stop-color="#00dfff"/><stop offset="0.875" stop-color="#009cff"/><stop offset="1" stop-color="#06f"/></linearGradient><linearGradient id="r90" gradientUnits="userSpaceOnUse" x1="50.4" x2="340.4" y1="0" y2="0"><stop offset="0" stop-color="#ff8700"/><stop offset="0.1044" stop-color="#ff0"/><stop offset="0.125" stop-color="#e8ff00"/><stop offset="0.25" stop-color="#6f0"/><stop offset="0.3577" stop-color="#0f0"/><stop offset="0.375" stop-color="#00ff10"/><stop offset="0.5" stop-color="#00ff79"/><stop offset="0.625" stop-color="#00ffd5"/><stop offset="0.6875" stop-color="#0ff"/><stop offset="0.75" stop-color="#00d9ff"/><stop offset="0.875" stop-color="#0095ff"/><stop offset="1" stop-color="#005eff"/></linearGradient><linearGradient id="r91" gradientUnits="userSpaceOnUse" x1="50.4" x2="340.4" y1="0" y2="0"><stop offset="0" stop-color="#ff8600"/><stop offset="0.1045" stop-color="#ff0"/><stop offset="0.125" stop-color="#e8ff00"/><stop offset="0.25" stop-color="#65ff00"/><stop offset="0.3551" stop-color="#0f0"/><stop offset="0.375" stop-color="#00ff12"/><stop offset="0.5" stop-color="#00ff7d"/><stop offset="0.625" stop-color="#00ffda"/><stop offset="0.6789" stop-color="#0ff"/><stop offset="0.75" stop-color="#00d2ff"/><stop offset="0.875" stop-color="#008dff"/><stop offset="1" stop-color="#05f"/></linearGradient><linearGradient id="r92" gradientUnits="userSpaceOnUse" x1="50.4" x2="340.4" y1="0" y2="0"><stop offset="0" stop-color="#ff8500"/><stop offset="0.1045" stop-color="#ff0"/><stop offset="0.125" stop-color="#e8ff00"/><stop offset="0.25" stop-color="#63ff00"/><stop offset="0.3523" stop-color="#0f0"/><stop offset="0.375" stop-color="#00ff15"/><stop offset="0.5" stop-color="#00ff81"/><stop offset="0.625" stop-color="#00ffe0"/><stop offset="0.6703" stop-color="#0ff"/><stop offset="0.75" stop-color="#0cf"/><stop offset="0.875" stop-color="#0086ff"/><stop offset="1" stop-color="#004cff"/></linearGradient><linearGradient id="r93" gradientUnits="userSpaceOnUse" x1="50.4" x2="340.4" y1="0" y2="0"><stop offset="0" stop-color="#ff8400"/><stop offset="0.1042" stop-color="#ff0"/><stop offset="0.125" stop-color="#e8ff00"/><stop offset="0.25" stop-color="#62ff00"/><stop offset="0.3494" stop-color="#0f0"/><stop offset="0.375" stop-color="#00ff18"/><stop offset="0.5" stop-color="#00ff85"/><stop offset="0.625" stop-color="#00ffe5"/><stop offset="0.6617" stop-color="#0ff"/><stop offset="0.75" stop-color="#00c5ff"/><stop offset="0.875" stop-color="#007eff"/><stop offset="1" stop-color="#0043ff"/></linearGradient><linearGradient id="r94" gradientUnits="userSpaceOnUse" x1="50.4" x2="340.4" y1="0" y2="0"><stop offset="0" stop-color="#ff8300"/><stop offset="0.1038" stop-color="#ff0"/><stop offset="0.125" stop-color="#e7ff00"/><stop offset="0.25" stop-color="#60ff00"/><stop offset="0.3463" stop-color="#0f0"/><stop offset="0.375" stop-color="#00ff1b"/><stop offset="0.5" stop-color="#00ff89"/><stop offset="0.625" stop-color="#00ffeb"/><stop offset="0.6532" stop-color="#0ff"/><stop offset="0.75" stop-color="#00beff"/><stop offset="0.875" stop-color="#0076ff"/><stop offset="1" stop-color="#003aff"/></linearGradient><linearGradient id="r95" gradientUnits="userSpaceOnUse" x1="50.4" x2="340.4" y1="0" y2="0"><stop offset="0" stop-color="#ff8300"/><stop offset="0.1032" stop-color="#ff0"/><stop offset="0.125" stop-color="#e6ff00"/><stop offset="0.25" stop-color="#5dff00"/><stop offset="0.3431" stop-color="#0f0"/><stop offset="0.375" stop-color="#00ff1e"/><stop offset="0.5" stop-color="#00ff8e"/><stop offset="0.625" stop-color="#00fff1"/><stop offset="0.6447" stop-color="#0ff"/><stop offset="0.75" stop-color="#00b7ff"/><stop offset="0.875" stop-color="#006dff"/><stop offset="1" stop-color="#0030ff"/></linearGradient><linearGradient id="r96" gradientUnits="userSpaceOnUse" x1="50.4" x2="340.4" y1="0" y2="0"><stop offset="0" stop-color="#ff8300"/><stop offset="0.1024" stop-color="#ff0"/><stop offset="0.125" stop-color="#e5ff00"/><stop offset="0.25" stop-color="#5bff00"/><stop offset="0.3397" stop-color="#0f0"/><stop offset="0.375" stop-color="#0f2"/><stop offset="0.5" stop-color="#00ff93"/><stop offset="0.625" stop-color="#00fff7"/><stop offset="0.6362" stop-color="#0ff"/><stop offset="0.75" stop-color="#00b0ff"/><stop offset="0.875" stop-color="#0065ff"/><stop offset="1" stop-color="#0026ff"/></linearGradient><linearGradient id="r97" gradientUnits="userSpaceOnUse" x1="50.4" x2="340.4" y1="0" y2="0"><stop offset="0" stop-color="#ff8300"/><stop offset="0.1015" stop-color="#ff0"/><stop offset="0.125" stop-color="#e3ff00"/><stop offset="0.25" stop-color="#59ff00"/><stop offset="0.3363" stop-color="#0f0"/><stop offset="0.375" stop-color="#00ff26"/><stop offset="0.5" stop-color="#00ff98"/><stop offset="0.625" stop-color="#00fffd"/><stop offset="0.6277" stop-color="#0ff"/><stop offset="0.75" stop-color="#00a8ff"/><stop offset="0.875" stop-color="#005cff"/><stop offset="1" stop-color="#001cff"/></linearGradient><linearGradient id="r98" gradientUnits="userSpaceOnUse" x1="50.4" x2="340.4" y1="0" y2="0"><stop offset="0" stop-color="#ff8300"/><stop offset="0.1004" stop-color="#ff0"/><stop offset="0.125" stop-color="#e2ff00"/><stop offset="0.25" stop-color="#56ff00"/><stop offset="0.3326" stop-color="#0f0"/><stop offset="0.375" stop-color="#00ff2a"/><stop offset="0.5" stop-color="#00ff9d"/><stop offset="0.6192" stop-color="#0ff"/><stop offset="0.625" stop-color="#00fbff"/><stop offset="0.75" stop-color="#00a1ff"/><stop offset="0.875" stop-color="#0053ff"/><stop offset="1" stop-color="#0012ff"/></linearGradient><linearGradient id="r99" gradientUnits="userSpaceOnUse" x1="50.4" x2="340.4" y1="0" y2="0"><stop offset="0" stop-color="#ff8400"/><stop offset="0.0991" stop-color="#ff0"/><stop offset="0.125" stop-color="#e0ff00"/><stop offset="0.25" stop-color="#53ff00"/><stop offset="0.3289" stop-color="#0f0"/><stop offset="0.375" stop-color="#00ff2e"/><stop offset="0.5" stop-color="#00ffa2"/><stop offset="0.6108" stop-color="#0ff"/><stop offset="0.625" stop-color="#00f4ff"/><stop offset="0.75" stop-color="#09f"/><stop offset="0.875" stop-color="#004aff"/><stop offset="1" stop-color="#0008ff"/></linearGradient><linearGradient id="r100" gradientUnits="userSpaceOnUse" x1="50.4" x2="340.4" y1="0" y2="0"><stop offset="0" stop-color="#ff8500"/><stop offset="0.0977" stop-color="#ff0"/><stop offset="0.125" stop-color="#deff00"/><stop offset="0.25" stop-color="#50ff00"/><stop offset="0.325" stop-color="#0f0"/><stop offset="0.375" stop-color="#0f3"/><stop offset="0.5" stop-color="#00ffa8"/><stop offset="0.6024" stop-color="#0ff"/><stop offset="0.625" stop-color="#00edff"/><stop offset="0.75" stop-color="#0090ff"/><stop offset="0.875" stop-color="#0041ff"/><stop offset="0.9942" stop-color="#00f"/><stop offset="1" stop-color="#00f"/></linearGradient><linearGradient id="r101" gradientUnits="userSpaceOnUse" x1="50.4" x2="340.4" y1="0" y2="0"><stop offset="0" stop-color="#ff8600"/><stop offset="0.0961" stop-color="#ff0"/><stop offset="0.125" stop-color="#dcff00"/><stop offset="0.25" stop-color="#4cff00"/><stop offset="0.321" stop-color="#0f0"/><stop offset="0.375" stop-color="#00ff37"/><stop offset="0.5" stop-color="#00ffae"/><stop offset="0.594" stop-color="#0ff"/><stop offset="0.625" stop-color="#00e6ff"/><stop offset="0.75" stop-color="#08f"/><stop offset="0.875" stop-color="#0037ff"/><stop offset="0.9731" stop-color="#00f"/><stop offset="1" stop-color="#00f"/></linearGradient><linearGradient id="r102" gradientUnits="userSpaceOnUse" x1="50.4" x2="340.4" y1="0" y2="0"><stop offset="0" stop-color="#ff8700"/><stop offset="0.0944" stop-color="#ff0"/><stop offset="0.125" stop-color="#daff00"/><stop offset="0.25" stop-color="#49ff00"/><stop offset="0.3169" stop-color="#0f0"/><stop offset="0.375" stop-color="#00ff3c"/><stop offset="0.5" stop-color="#00ffb4"/><stop offset="0.5856" stop-color="#0ff"/><stop offset="0.625" stop-color="#00deff"/><stop offset="0.75" stop-color="#0080ff"/><stop offset="0.875" stop-color="#002dff"/><stop offset="0.9531" stop-color="#00f"/><stop offset="1" stop-color="#00f"/></linearGradient><linearGradient id="r103" gradientUnits="userSpaceOnUse" x1="50.4" x2="340.4" y1="0" y2="0"><stop offset="0" stop-color="#f80"/><stop offset="0.0926" stop-color="#ff0"/><stop offset="0.125" stop-color="#d7ff00"/><stop offset="0.25" stop-color="#45ff00"/><stop offset="0.3127" stop-color="#0f0"/><stop offset="0.375" stop-color="#00ff41"/><stop offset="0.5" stop-color="#00ffba"/><stop offset="0.5772" stop-color="#0ff"/><stop offset="0.625" stop-color="#00d7ff"/><stop offset="0.75" stop-color="#07f"/><stop offset="0.875" stop-color="#0023ff"/><stop offset="0.9339" stop-color="#00f"/><stop offset="1" stop-color="#00f"/></linearGradient><linearGradient id="r104" gradientUnits="userSpaceOnUse" x1="50.4" x2="340.4" y1="0" y2="0"><stop offset="0" stop-color="#ff8a00"/><stop offset="0.0906" stop-color="#ff0"/><stop offset="0.125" stop-color="#d4ff00"/><stop offset="0.25" stop-color="#41ff00"/><stop offset="0.3084" stop-color="#0f0"/><stop offset="0.375" stop-color="#00ff46"/><stop offset="0.5" stop-color="#00ffc1"/><stop offset="0.5688" stop-color="#0ff"/><stop offset="0.625" stop-color="#00cfff"/><stop offset="0.75" stop-color="#006eff"/><stop offset="0.875" stop-color="#0019ff"/><stop offset="0.9156" stop-color="#00f"/><stop offset="1" stop-color="#00f"/></linearGradient><linearGradient id="r105" gradientUnits="userSpaceOnUse" x1="50.4" x2="340.4" y1="0" y2="0"><stop offset="0" stop-color="#ff8c00"/><stop offset="0.0885" stop-color="#ff0"/><stop offset="0.125" stop-color="#d1ff00"/><stop offset="0.25" stop-color="#3cff00"/><stop offset="0.304" stop-color="#0f0"/><stop offset="0.375" stop-color="#00ff4c"/><stop offset="0.5" stop-color="#00ffc8"/><stop offset="0.5605" stop-color="#0ff"/><stop offset="0.625" stop-color="#00c7ff"/><stop offset="0.75" stop-color="#0065ff"/><stop offset="0.875" stop-color="#000eff"/><stop offset="0.8979" stop-color="#00f"/><stop offset="1" stop-color="#00f"/></linearGradient><linearGradient id="r106" gradientUnits="userSpaceOnUse" x1="50.4" x2="340.4" y1="0" y2="0"><stop offset="0" stop-color="#ff8e00"/><stop offset="0.0862" stop-color="#ff0"/><stop offset="0.125" stop-color="#ceff00"/><stop offset="0.25" stop-color="#38ff00"/><stop offset="0.2994" stop-color="#0f0"/><stop offset="0.375" stop-color="#00ff52"/><stop offset="0.5" stop-color="#00ffcf"/><stop offset="0.5521" stop-color="#0ff"/><stop offset="0.625" stop-color="#00bfff"/><stop offset="0.75" stop-color="#005bff"/><stop offset="0.875" stop-color="#0004ff"/><stop offset="0.8808" stop-color="#00f"/><stop offset="1" stop-color="#00f"/></linearGradient><linearGradient id="r107" gradientUnits="userSpaceOnUse" x1="50.4" x2="340.4" y1="0" y2="0"><stop offset="0" stop-color="#ff9000"/><stop offset="0.0839" stop-color="#ff0"/><stop offset="0.125" stop-color="#caff00"/><stop offset="0.25" stop-color="#3f0"/><stop offset="0.2948" stop-color="#0f0"/><stop offset="0.375" stop-color="#00ff58"/><stop offset="0.5" stop-color="#00ffd6"/><stop offset="0.5438" stop-color="#0ff"/><stop offset="0.625" stop-color="#00b7ff"/><stop offset="0.75" stop-color="#0051ff"/><stop offset="0.8643" stop-color="#00f"/><stop offset="1" stop-color="#00f"/></linearGradient><linearGradient id="r108" gradientUnits="userSpaceOnUse" x1="50.4" x2="340.4" y1="0" y2="0"><stop offset="0" stop-color="#ff9200"/><stop offset="0.0814" stop-color="#ff0"/><stop offset="0.125" stop-color="#c7ff00"/><stop offset="0.25" stop-color="#2eff00"/><stop offset="0.2901" stop-color="#0f0"/><stop offset="0.375" stop-color="#00ff5e"/><stop offset="0.5" stop-color="#0fd"/><stop offset="0.5355" stop-color="#0ff"/><stop offset="0.625" stop-color="#00aeff"/><stop offset="0.75" stop-color="#0048ff"/><stop offset="0.8482" stop-color="#00f"/><stop offset="1" stop-color="#00f"/></linearGradient><linearGradient id="r109" gradientUnits="userSpaceOnUse" x1="50.4" x2="340.4" y1="0" y2="0"><stop offset="0" stop-color="#ff9500"/><stop offset="0.0788" stop-color="#ff0"/><stop offset="0.125" stop-color="#c3ff00"/><stop offset="0.25" stop-color="#29ff00"/><stop offset="0.2853" stop-color="#0f0"/><stop offset="0.375" stop-color="#00ff64"/><stop offset="0.5" stop-color="#00ffe5"/><stop offset="0.5272" stop-color="#0ff"/><stop offset="0.625" stop-color="#00a5ff"/><stop offset="0.75" stop-color="#003eff"/><stop offset="0.8326" stop-color="#00f"/><stop offset="1" stop-color="#00f"/></linearGradient><linearGradient id="r110" gradientUnits="userSpaceOnUse" x1="50.4" x2="340.4" y1="0" y2="0"><stop offset="0" stop-color="#ff9800"/><stop offset="0.076" stop-color="#ff0"/><stop offset="0.125" stop-color="#bfff00"/><stop offset="0.25" stop-color="#24ff00"/><stop offset="0.2805" stop-color="#0f0"/><stop offset="0.375" stop-color="#00ff6b"/><stop offset="0.5" stop-color="#00ffec"/><stop offset="0.5189" stop-color="#0ff"/><stop offset="0.625" stop-color="#009cff"/><stop offset="0.75" stop-color="#03f"/><stop offset="0.8174" stop-color="#00f"/><stop offset="1" stop-color="#00f"/></linearGradient><linearGradient id="r111" gradientUnits="userSpaceOnUse" x1="50.4" x2="340.4" y1="0" y2="0"><stop offset="0" stop-color="#ff9b00"/><stop offset="0.0732" stop-color="#ff0"/><stop offset="0.125" stop-color="#bf0"/><stop offset="0.25" stop-color="#1eff00"/><stop offset="0.2755" stop-color="#0f0"/><stop offset="0.375" stop-color="#00ff71"/><stop offset="0.5" stop-color="#00fff4"/><stop offset="0.5106" stop-color="#0ff"/><stop offset="0.625" stop-color="#0093ff"/><stop offset="0.75" stop-color="#0029ff"/><stop offset="0.8025" stop-color="#00f"/><stop offset="1" stop-color="#00f"/></linearGradient><linearGradient id="r112" gradientUnits="userSpaceOnUse" x1="50.4" x2="340.4" y1="0" y2="0"><stop offset="0" stop-color="#ff9e00"/><stop offset="0.0702" stop-color="#ff0"/><stop offset="0.125" stop-color="#b6ff00"/><stop offset="0.25" stop-color="#19ff00"/><stop offset="0.2705" stop-color="#0f0"/><stop offset="0.375" stop-color="#00ff78"/><stop offset="0.5" stop-color="#00fffd"/><stop offset="0.5023" stop-color="#0ff"/><stop offset="0.625" stop-color="#0089ff"/><stop offset="0.75" stop-color="#001eff"/><stop offset="0.788" stop-color="#00f"/><stop offset="1" stop-color="#00f"/></linearGradient><linearGradient id="r113" gradientUnits="userSpaceOnUse" x1="50.4" x2="340.4" y1="0" y2="0"><stop offset="0" stop-color="#ffa100"/><stop offset="0.0672" stop-color="#ff0"/><stop offset="0.125" stop-color="#b1ff00"/><stop offset="0.25" stop-color="#13ff00"/><stop offset="0.2654" stop-color="#0f0"/><stop offset="0.375" stop-color="#00ff7f"/><stop offset="0.494" stop-color="#0ff"/><stop offset="0.5" stop-color="#00f9ff"/><stop offset="0.625" stop-color="#0080ff"/><stop offset="0.75" stop-color="#0013ff"/><stop offset="0.7738" stop-color="#00f"/><stop offset="1" stop-color="#00f"/></linearGradient><linearGradient id="r114" gradientUnits="userSpaceOnUse" x1="50.4" x2="340.4" y1="0" y2="0"><stop offset="0" stop-color="#ffa500"/><stop offset="0.064" stop-color="#ff0"/><stop offset="0.125" stop-color="#acff00"/><stop offset="0.25" stop-color="#0dff00"/><stop offset="0.2602" stop-color="#0f0"/><stop offset="0.375" stop-color="#00ff87"/><stop offset="0.4858" stop-color="#0ff"/><stop offset="0.5" stop-color="#00f0ff"/><stop offset="0.625" stop-color="#0076ff"/><stop offset="0.75" stop-color="#0008ff"/><stop offset="0.7599" stop-color="#00f"/><stop offset="1" stop-color="#00f"/></linearGradient><linearGradient id="r115" gradientUnits="userSpaceOnUse" x1="50.4" x2="340.4" y1="0" y2="0"><stop offset="0" stop-color="#ffa900"/><stop offset="0.0608" stop-color="#ff0"/><stop offset="0.125" stop-color="#a7ff00"/><stop offset="0.25" stop-color="#06ff00"/><stop offset="0.255" stop-color="#0f0"/><stop offset="0.375" stop-color="#00ff8e"/><stop offset="0.4775" stop-color="#0ff"/><stop offset="0.5" stop-color="#00e7ff"/><stop offset="0.625" stop-color="#006cff"/><stop offset="0.7462" stop-color="#00f"/><stop offset="1" stop-color="#00f"/></linearGradient><linearGradient id="r116" gradientUnits="userSpaceOnUse" x1="50.4" x2="340.4" y1="0" y2="0"><stop offset="0" stop-color="#ffad00"/><stop offset="0.0574" stop-color="#ff0"/><stop offset="0.125" stop-color="#a2ff00"/><stop offset="0.2497" stop-color="#0f0"/><stop offset="0.25" stop-color="#0f0"/><stop offset="0.375" stop-color="#00ff96"/><stop offset="0.4692" stop-color="#0ff"/><stop offset="0.5" stop-color="#00deff"/><stop offset="0.625" stop-color="#0062ff"/><stop offset="0.7328" stop-color="#00f"/><stop offset="1" stop-color="#00f"/></linearGradient><linearGradient id="r117" gradientUnits="userSpaceOnUse" x1="50.4" x2="340.4" y1="0" y2="0"><stop offset="0" stop-color="#ffb100"/><stop offset="0.054" stop-color="#ff0"/><stop offset="0.125" stop-color="#9cff00"/><stop offset="0.2443" stop-color="#0f0"/><stop offset="0.25" stop-color="#00ff07"/><stop offset="0.375" stop-color="#00ff9e"/><stop offset="0.461" stop-color="#0ff"/><stop offset="0.5" stop-color="#00d5ff"/><stop offset="0.625" stop-color="#0057ff"/><stop offset="0.7196" stop-color="#00f"/><stop offset="1" stop-color="#00f"/></linearGradient><linearGradient id="r118" gradientUnits="userSpaceOnUse" x1="50.4" x2="340.4" y1="0" y2="0"><stop offset="0" stop-color="#ffb600"/><stop offset="0.0504" stop-color="#ff0"/><stop offset="0.125" stop-color="#97ff00"/><stop offset="0.2388" stop-color="#0f0"/><stop offset="0.25" stop-color="#00ff0e"/><stop offset="0.375" stop-color="#00ffa7"/><stop offset="0.4528" stop-color="#0ff"/><stop offset="0.5" stop-color="#0cf"/><stop offset="0.625" stop-color="#004cff"/><stop offset="0.7066" stop-color="#00f"/><stop offset="1" stop-color="#00f"/></linearGradient><linearGradient id="r119" gradientUnits="userSpaceOnUse" x1="50.4" x2="340.4" y1="0" y2="0"><stop offset="0" stop-color="#fb0"/><stop offset="0.0468" stop-color="#ff0"/><stop offset="0.125" stop-color="#91ff00"/><stop offset="0.2333" stop-color="#0f0"/><stop offset="0.25" stop-color="#00ff15"/><stop offset="0.375" stop-color="#00ffaf"/><stop offset="0.4445" stop-color="#0ff"/><stop offset="0.5" stop-color="#00c2ff"/><stop offset="0.625" stop-color="#0041ff"/><stop offset="0.6939" stop-color="#00f"/><stop offset="1" stop-color="#00f"/></linearGradient><linearGradient id="r120" gradientUnits="userSpaceOnUse" x1="50.4" x2="340.4" y1="0" y2="0"><stop offset="0" stop-color="#ffc000"/><stop offset="0.043" stop-color="#ff0"/><stop offset="0.125" stop-color="#8aff00"/><stop offset="0.2278" stop-color="#0f0"/><stop offset="0.25" stop-color="#00ff1d"/><stop offset="0.375" stop-color="#00ffb8"/><stop offset="0.4363" stop-color="#0ff"/><stop offset="0.5" stop-color="#00b8ff"/><stop offset="0.625" stop-color="#0036ff"/><stop offset="0.6813" stop-color="#00f"/><stop offset="1" stop-color="#00f"/></linearGradient><linearGradient id="r121" gradientUnits="userSpaceOnUse" x1="50.4" x2="340.4" y1="0" y2="0"><stop offset="0" stop-color="#ffc500"/><stop offset="0.0392" stop-color="#ff0"/><stop offset="0.125" stop-color="#84ff00"/><stop offset="0.2221" stop-color="#0f0"/><stop offset="0.25" stop-color="#00ff25"/><stop offset="0.375" stop-color="#00ffc1"/><stop offset="0.4281" stop-color="#0ff"/><stop offset="0.5" stop-color="#00aeff"/><stop offset="0.625" stop-color="#002bff"/><stop offset="0.6688" stop-color="#00f"/><stop offset="1" stop-color="#00f"/></linearGradient><linearGradient id="r122" gradientUnits="userSpaceOnUse" x1="50.4" x2="340.4" y1="0" y2="0"><stop offset="0" stop-color="#ffca00"/><stop offset="0.0353" stop-color="#ff0"/><stop offset="0.125" stop-color="#7dff00"/><stop offset="0.2165" stop-color="#0f0"/><stop offset="0.25" stop-color="#00ff2c"/><stop offset="0.375" stop-color="#00ffca"/><stop offset="0.4198" stop-color="#0ff"/><stop offset="0.5" stop-color="#00a4ff"/><stop offset="0.625" stop-color="#001fff"/><stop offset="0.6566" stop-color="#00f"/><stop offset="1" stop-color="#00f"/></linearGradient><linearGradient id="r123" gradientUnits="userSpaceOnUse" x1="50.4" x2="340.4" y1="0" y2="0"><stop offset="0" stop-color="#ffd000"/><stop offset="0.0314" stop-color="#ff0"/><stop offset="0.125" stop-color="#7f0"/><stop offset="0.2107" stop-color="#0f0"/><stop offset="0.25" stop-color="#00ff34"/><stop offset="0.375" stop-color="#00ffd3"/><stop offset="0.4116" stop-color="#0ff"/><stop offset="0.5" stop-color="#09f"/><stop offset="0.625" stop-color="#0014ff"/><stop offset="0.6444" stop-color="#00f"/><stop offset="1" stop-color="#00f"/></linearGradient><linearGradient id="r124" gradientUnits="userSpaceOnUse" x1="50.4" x2="340.4" y1="0" y2="0"><stop offset="0" stop-color="#ffd600"/><stop offset="0.0273" stop-color="#ff0"/><stop offset="0.125" stop-color="#70ff00"/><stop offset="0.2049" stop-color="#0f0"/><stop offset="0.25" stop-color="#00ff3d"/><stop offset="0.375" stop-color="#00ffdc"/><stop offset="0.4034" stop-color="#0ff"/><stop offset="0.5" stop-color="#008eff"/><stop offset="0.625" stop-color="#0008ff"/><stop offset="0.6325" stop-color="#00f"/><stop offset="1" stop-color="#00f"/></linearGradient><linearGradient id="r125" gradientUnits="userSpaceOnUse" x1="50.4" x2="340.4" y1="0" y2="0"><stop offset="0" stop-color="#ffdc00"/><stop offset="0.0232" stop-color="#ff0"/><stop offset="0.125" stop-color="#68ff00"/><stop offset="0.1991" stop-color="#0f0"/><stop offset="0.25" stop-color="#00ff45"/><stop offset="0.375" stop-color="#00ffe6"/><stop offset="0.3952" stop-color="#0ff"/><stop offset="0.5" stop-color="#0083ff"/><stop offset="0.6206" stop-color="#00f"/><stop offset="1" stop-color="#00f"/></linearGradient><linearGradient id="r126" gradientUnits="userSpaceOnUse" x1="50.4" x2="340.4" y1="0" y2="0"><stop offset="0" stop-color="#ffe200"/><stop offset="0.019" stop-color="#ff0"/><stop offset="0.125" stop-color="#61ff00"/><stop offset="0.1932" stop-color="#0f0"/><stop offset="0.25" stop-color="#00ff4e"/><stop offset="0.375" stop-color="#00fff0"/><stop offset="0.387" stop-color="#0ff"/><stop offset="0.5" stop-color="#0078ff"/><stop offset="0.6089" stop-color="#00f"/><stop offset="1" stop-color="#00f"/></linearGradient><linearGradient id="r127" gradientUnits="userSpaceOnUse" x1="50.4" x2="340.4" y1="0" y2="0"><stop offset="0" stop-color="#ffe800"/><stop offset="0.0147" stop-color="#ff0"/><stop offset="0.125" stop-color="#59ff00"/><stop offset="0.1873" stop-color="#0f0"/><stop offset="0.25" stop-color="#00ff57"/><stop offset="0.375" stop-color="#00fffa"/><stop offset="0.3788" stop-color="#0ff"/><stop offset="0.5" stop-color="#006dff"/><stop offset="0.5973" stop-color="#00f"/><stop offset="1" stop-color="#00f"/></linearGradient><linearGradient id="r128" gradientUnits="userSpaceOnUse" x1="50.4" x2="340.4" y1="0" y2="0"><stop offset="0" stop-color="#ffef00"/><stop offset="0.0103" stop-color="#ff0"/><stop offset="0.125" stop-color="#51ff00"/><stop offset="0.1813" stop-color="#0f0"/><stop offset="0.25" stop-color="#00ff60"/><stop offset="0.3706" stop-color="#0ff"/><stop offset="0.375" stop-color="#00f9ff"/><stop offset="0.5" stop-color="#0061ff"/><stop offset="0.5859" stop-color="#00f"/><stop offset="1" stop-color="#00f"/></linearGradient><linearGradient id="r129" gradientUnits="userSpaceOnUse" x1="50.4" x2="340.4" y1="0" y2="0"><stop offset="0" stop-color="#fff600"/><stop offset="0.0059" stop-color="#ff0"/><stop offset="0.125" stop-color="#49ff00"/><stop offset="0.1753" stop-color="#0f0"/><stop offset="0.25" stop-color="#00ff69"/><stop offset="0.3624" stop-color="#0ff"/><stop offset="0.375" stop-color="#00efff"/><stop offset="0.5" stop-color="#05f"/><stop offset="0.5745" stop-color="#00f"/><stop offset="1" stop-color="#00f"/></linearGradient><linearGradient id="r130" gradientUnits="userSpaceOnUse" x1="50.4" x2="340.4" y1="0" y2="0"><stop offset="0" stop-color="#fffd00"/><stop offset="0.0014" stop-color="#ff0"/><stop offset="0.125" stop-color="#41ff00"/><stop offset="0.1692" stop-color="#0f0"/><stop offset="0.25" stop-color="#00ff73"/><stop offset="0.3542" stop-color="#0ff"/><stop offset="0.375" stop-color="#00e4ff"/><stop offset="0.5" stop-color="#0049ff"/><stop offset="0.5632" stop-color="#00f"/><stop offset="1" stop-color="#00f"/></linearGradient><linearGradient id="r131" gradientUnits="userSpaceOnUse" x1="50.4" x2="340.4" y1="0" y2="0"><stop offset="0" stop-color="#faff00"/><stop offset="0.125" stop-color="#38ff00"/><stop offset="0.1631" stop-color="#0f0"/><stop offset="0.25" stop-color="#00ff7c"/><stop offset="0.3461" stop-color="#0ff"/><stop offset="0.375" stop-color="#00d9ff"/><stop offset="0.5" stop-color="#003dff"/><stop offset="0.5521" stop-color="#00f"/><stop offset="1" stop-color="#00f"/></linearGradient><linearGradient id="r132" gradientUnits="userSpaceOnUse" x1="50.4" x2="340.4" y1="0" y2="0"><stop offset="0" stop-color="#f3ff00"/><stop offset="0.125" stop-color="#30ff00"/><stop offset="0.157" stop-color="#0f0"/><stop offset="0.25" stop-color="#00ff86"/><stop offset="0.3379" stop-color="#0ff"/><stop offset="0.375" stop-color="#00ceff"/><stop offset="0.5" stop-color="#0031ff"/><stop offset="0.541" stop-color="#00f"/><stop offset="1" stop-color="#00f"/></linearGradient><linearGradient id="r133" gradientUnits="userSpaceOnUse" x1="50.4" x2="340.4" y1="0" y2="0"><stop offset="0" stop-color="#ebff00"/><stop offset="0.125" stop-color="#27ff00"/><stop offset="0.1508" stop-color="#0f0"/><stop offset="0.25" stop-color="#00ff91"/><stop offset="0.3297" stop-color="#0ff"/><stop offset="0.375" stop-color="#00c3ff"/><stop offset="0.5" stop-color="#0024ff"/><stop offset="0.53" stop-color="#00f"/><stop offset="1" stop-color="#00f"/></linearGradient><linearGradient id="r134" gradientUnits="userSpaceOnUse" x1="50.4" x2="340.4" y1="0" y2="0"><stop offset="0" stop-color="#e3ff00"/><stop offset="0.125" stop-color="#1eff00"/><stop offset="0.1445" stop-color="#0f0"/><stop offset="0.25" stop-color="#00ff9b"/><stop offset="0.3215" stop-color="#0ff"/><stop offset="0.375" stop-color="#00b7ff"/><stop offset="0.5" stop-color="#0017ff"/><stop offset="0.5191" stop-color="#00f"/><stop offset="1" stop-color="#00f"/></linearGradient><linearGradient id="r135" gradientUnits="userSpaceOnUse" x1="50.4" x2="340.4" y1="0" y2="0"><stop offset="0" stop-color="#dbff00"/><stop offset="0.125" stop-color="#14ff00"/><stop offset="0.1383" stop-color="#0f0"/><stop offset="0.25" stop-color="#00ffa6"/><stop offset="0.3134" stop-color="#0ff"/><stop offset="0.375" stop-color="#00abff"/><stop offset="0.5" stop-color="#000aff"/><stop offset="0.5083" stop-color="#00f"/><stop offset="1" stop-color="#00f"/></linearGradient><linearGradient id="r136" gradientUnits="userSpaceOnUse" x1="50.4" x2="340.4" y1="0" y2="0"><stop offset="0" stop-color="#d2ff00"/><stop offset="0.125" stop-color="#0bff00"/><stop offset="0.132" stop-color="#0f0"/><stop offset="0.25" stop-color="#00ffb0"/><stop offset="0.3052" stop-color="#0ff"/><stop offset="0.375" stop-color="#009fff"/><stop offset="0.4976" stop-color="#00f"/><stop offset="1" stop-color="#00f"/></linearGradient><linearGradient id="s0" gradientUnits="userSpaceOnUse" x1="537.7" y1="64.4" x2="540.9" y2="67.7"><stop offset="0" stop-color="#00f"/><stop offset="0.103" stop-color="#00f"/><stop offset="1" stop-color="#0048ff"/></linearGradient><linearGradient id="s1" gradientUnits="userSpaceOnUse" x1="532.8" y1="67.9" x2="535.6" y2="71.0"><stop offset="0" stop-color="#00f"/><stop offset="0.319" stop-color="#00f"/><stop offset="1" stop-color="#0037ff"/></linearGradient><linearGradient id="s2" gradientUnits="userSpaceOnUse" x1="527.9" y1="71.4" x2="530.3" y2="74.3"><stop offset="0" stop-color="#00f"/><stop offset="0.515" stop-color="#00f"/><stop offset="1" stop-color="#0028ff"/></linearGradient><linearGradient id="s3" gradientUnits="userSpaceOnUse" x1="543.2" y1="64.0" x2="546.7" y2="67.7"><stop offset="0" stop-color="#0037ff"/><stop offset="1" stop-color="#007cff"/></linearGradient><linearGradient id="s4" gradientUnits="userSpaceOnUse" x1="522.9" y1="74.8" x2="525.0" y2="77.5"><stop offset="0" stop-color="#00f"/><stop offset="0.691" stop-color="#00f"/><stop offset="1" stop-color="#001aff"/></linearGradient><linearGradient id="s5" gradientUnits="userSpaceOnUse" x1="538.3" y1="67.4" x2="541.4" y2="70.9"><stop offset="0" stop-color="#0028ff"/><stop offset="1" stop-color="#006eff"/></linearGradient><linearGradient id="s6" gradientUnits="userSpaceOnUse" x1="517.9" y1="78.2" x2="519.7" y2="80.6"><stop offset="0" stop-color="#00f"/><stop offset="0.848" stop-color="#00f"/><stop offset="1" stop-color="#000dff"/></linearGradient><linearGradient id="s7" gradientUnits="userSpaceOnUse" x1="533.4" y1="70.8" x2="536.1" y2="74.0"><stop offset="0" stop-color="#001aff"/><stop offset="1" stop-color="#0061ff"/></linearGradient><linearGradient id="s8" gradientUnits="userSpaceOnUse" x1="548.8" y1="64.1" x2="552.7" y2="68.1"><stop offset="0" stop-color="#006eff"/><stop offset="1" stop-color="#00a9ff"/></linearGradient><linearGradient id="s9" gradientUnits="userSpaceOnUse" x1="512.8" y1="81.5" x2="514.3" y2="83.8"><stop offset="0" stop-color="#00f"/><stop offset="0.987" stop-color="#00f"/><stop offset="1" stop-color="#0001ff"/></linearGradient><linearGradient id="s10" gradientUnits="userSpaceOnUse" x1="528.4" y1="74.1" x2="530.7" y2="77.1"><stop offset="0" stop-color="#000dff"/><stop offset="1" stop-color="#0056ff"/></linearGradient><linearGradient id="s11" gradientUnits="userSpaceOnUse" x1="543.9" y1="67.4" x2="547.3" y2="71.2"><stop offset="0" stop-color="#0061ff"/><stop offset="1" stop-color="#009dff"/></linearGradient><linearGradient id="s12" gradientUnits="userSpaceOnUse" x1="554.4" y1="64.6" x2="558.6" y2="69.0"><stop offset="0" stop-color="#009dff"/><stop offset="1" stop-color="#00ceff"/></linearGradient><linearGradient id="s13" gradientUnits="userSpaceOnUse" x1="523.4" y1="77.4" x2="525.4" y2="80.1"><stop offset="0" stop-color="#0001ff"/><stop offset="1" stop-color="#004bff"/></linearGradient><linearGradient id="s14" gradientUnits="userSpaceOnUse" x1="539.0" y1="70.6" x2="541.9" y2="74.2"><stop offset="0" stop-color="#0056ff"/><stop offset="1" stop-color="#0093ff"/></linearGradient><linearGradient id="s15" gradientUnits="userSpaceOnUse" x1="549.6" y1="67.8" x2="553.2" y2="72.0"><stop offset="0" stop-color="#0093ff"/><stop offset="1" stop-color="#00c4ff"/></linearGradient><linearGradient id="s16" gradientUnits="userSpaceOnUse" x1="518.3" y1="80.6" x2="520.0" y2="83.1"><stop offset="0" stop-color="#00f"/><stop offset="0.126" stop-color="#00f"/><stop offset="1" stop-color="#0042ff"/></linearGradient><linearGradient id="s17" gradientUnits="userSpaceOnUse" x1="534.0" y1="73.8" x2="536.5" y2="77.2"><stop offset="0" stop-color="#004bff"/><stop offset="1" stop-color="#0089ff"/></linearGradient><linearGradient id="s18" gradientUnits="userSpaceOnUse" x1="560.1" y1="65.6" x2="564.7" y2="70.4"><stop offset="0" stop-color="#00c4ff"/><stop offset="1" stop-color="#00eaff"/></linearGradient><linearGradient id="s19" gradientUnits="userSpaceOnUse" x1="544.7" y1="70.9" x2="547.8" y2="74.9"><stop offset="0" stop-color="#0089ff"/><stop offset="1" stop-color="#00bcff"/></linearGradient><linearGradient id="s20" gradientUnits="userSpaceOnUse" x1="513.1" y1="83.8" x2="514.6" y2="86.1"><stop offset="0" stop-color="#00f"/><stop offset="0.246" stop-color="#00f"/><stop offset="1" stop-color="#003aff"/></linearGradient><linearGradient id="s21" gradientUnits="userSpaceOnUse" x1="529.0" y1="77.0" x2="531.1" y2="80.1"><stop offset="0" stop-color="#0042ff"/><stop offset="1" stop-color="#0081ff"/></linearGradient><linearGradient id="s22" gradientUnits="userSpaceOnUse" x1="555.4" y1="68.7" x2="559.2" y2="73.2"><stop offset="0" stop-color="#00bcff"/><stop offset="1" stop-color="#00e3ff"/></linearGradient><linearGradient id="s23" gradientUnits="userSpaceOnUse" x1="539.8" y1="74.0" x2="542.4" y2="77.7"><stop offset="0" stop-color="#0081ff"/><stop offset="1" stop-color="#00b5ff"/></linearGradient><linearGradient id="s24" gradientUnits="userSpaceOnUse" x1="507.9" y1="86.9" x2="509.2" y2="89.0"><stop offset="0" stop-color="#00f"/><stop offset="0.348" stop-color="#00f"/><stop offset="1" stop-color="#03f"/></linearGradient><linearGradient id="s25" gradientUnits="userSpaceOnUse" x1="523.9" y1="80.1" x2="525.7" y2="83.0"><stop offset="0" stop-color="#003aff"/><stop offset="1" stop-color="#007aff"/></linearGradient><linearGradient id="s26" gradientUnits="userSpaceOnUse" x1="565.8" y1="67.1" x2="570.8" y2="72.2"><stop offset="0" stop-color="#00e3ff"/><stop offset="1" stop-color="#00feff"/></linearGradient><linearGradient id="s27" gradientUnits="userSpaceOnUse" x1="550.5" y1="71.7" x2="553.7" y2="76.0"><stop offset="0" stop-color="#00b5ff"/><stop offset="1" stop-color="#0df"/></linearGradient><linearGradient id="s28" gradientUnits="userSpaceOnUse" x1="534.7" y1="77.1" x2="536.9" y2="80.5"><stop offset="0" stop-color="#007aff"/><stop offset="1" stop-color="#00afff"/></linearGradient><linearGradient id="s29" gradientUnits="userSpaceOnUse" x1="502.7" y1="89.9" x2="503.8" y2="91.8"><stop offset="0" stop-color="#00f"/><stop offset="0.432" stop-color="#00f"/><stop offset="1" stop-color="#002dff"/></linearGradient><linearGradient id="s30" gradientUnits="userSpaceOnUse" x1="518.7" y1="83.2" x2="520.3" y2="85.8"><stop offset="0" stop-color="#03f"/><stop offset="1" stop-color="#0074ff"/></linearGradient><linearGradient id="s31" gradientUnits="userSpaceOnUse" x1="561.3" y1="70.1" x2="565.1" y2="74.9"><stop offset="0" stop-color="#0df"/><stop offset="1" stop-color="#00faff"/></linearGradient><linearGradient id="s32" gradientUnits="userSpaceOnUse" x1="545.6" y1="74.8" x2="548.2" y2="78.7"><stop offset="0" stop-color="#00afff"/><stop offset="1" stop-color="#00d9ff"/></linearGradient><linearGradient id="s33" gradientUnits="userSpaceOnUse" x1="571.6" y1="69.1" x2="576.8" y2="74.5"><stop offset="0" stop-color="#00faff"/><stop offset="0.325" stop-color="#0ff"/><stop offset="1" stop-color="#00fff4"/></linearGradient><linearGradient id="s34" gradientUnits="userSpaceOnUse" x1="529.6" y1="80.1" x2="531.5" y2="83.2"><stop offset="0" stop-color="#0074ff"/><stop offset="1" stop-color="#00abff"/></linearGradient><linearGradient id="s35" gradientUnits="userSpaceOnUse" x1="497.4" y1="93.0" x2="498.3" y2="94.7"><stop offset="0" stop-color="#00f"/><stop offset="0.498" stop-color="#00f"/><stop offset="1" stop-color="#0028ff"/></linearGradient><linearGradient id="s36" gradientUnits="userSpaceOnUse" x1="513.5" y1="86.2" x2="514.9" y2="88.6"><stop offset="0" stop-color="#002dff"/><stop offset="1" stop-color="#0070ff"/></linearGradient><linearGradient id="s37" gradientUnits="userSpaceOnUse" x1="556.5" y1="73.1" x2="559.5" y2="77.5"><stop offset="0" stop-color="#00d9ff"/><stop offset="1" stop-color="#00f6ff"/></linearGradient><linearGradient id="s38" gradientUnits="userSpaceOnUse" x1="540.6" y1="77.7" x2="542.8" y2="81.3"><stop offset="0" stop-color="#00abff"/><stop offset="1" stop-color="#00d5ff"/></linearGradient><linearGradient id="s39" gradientUnits="userSpaceOnUse" x1="567.4" y1="72.0" x2="570.9" y2="77.0"><stop offset="0" stop-color="#00f6ff"/><stop offset="0.497" stop-color="#0ff"/><stop offset="1" stop-color="#00fff6"/></linearGradient><linearGradient id="s40" gradientUnits="userSpaceOnUse" x1="524.4" y1="83.1" x2="526.1" y2="85.9"><stop offset="0" stop-color="#0070ff"/><stop offset="1" stop-color="#00a7ff"/></linearGradient><linearGradient id="s41" gradientUnits="userSpaceOnUse" x1="492.0" y1="95.9" x2="492.8" y2="97.4"><stop offset="0" stop-color="#00f"/><stop offset="0.548" stop-color="#00f"/><stop offset="1" stop-color="#0025ff"/></linearGradient><linearGradient id="s42" gradientUnits="userSpaceOnUse" x1="508.2" y1="89.1" x2="509.4" y2="91.3"><stop offset="0" stop-color="#0028ff"/><stop offset="1" stop-color="#006cff"/></linearGradient><linearGradient id="s43" gradientUnits="userSpaceOnUse" x1="577.5" y1="71.2" x2="582.5" y2="77.0"><stop offset="0" stop-color="#00fff6"/><stop offset="1" stop-color="#00fff0"/></linearGradient><linearGradient id="s44" gradientUnits="userSpaceOnUse" x1="551.6" y1="76.0" x2="554.1" y2="80.1"><stop offset="0" stop-color="#00d5ff"/><stop offset="1" stop-color="#00f4ff"/></linearGradient><linearGradient id="s45" gradientUnits="userSpaceOnUse" x1="535.5" y1="80.6" x2="537.3" y2="84.0"><stop offset="0" stop-color="#00a7ff"/><stop offset="1" stop-color="#00d3ff"/></linearGradient><linearGradient id="s46" gradientUnits="userSpaceOnUse" x1="562.7" y1="74.9" x2="565.3" y2="79.5"><stop offset="0" stop-color="#00f4ff"/><stop offset="0.583" stop-color="#0ff"/><stop offset="1" stop-color="#00fff7"/></linearGradient><linearGradient id="s47" gradientUnits="userSpaceOnUse" x1="519.2" y1="86.0" x2="520.6" y2="88.6"><stop offset="0" stop-color="#006cff"/><stop offset="1" stop-color="#00a5ff"/></linearGradient><linearGradient id="s48" gradientUnits="userSpaceOnUse" x1="486.6" y1="98.9" x2="487.3" y2="100.1"><stop offset="0" stop-color="#00f"/><stop offset="0.581" stop-color="#00f"/><stop offset="1" stop-color="#02f"/></linearGradient><linearGradient id="s49" gradientUnits="userSpaceOnUse" x1="502.9" y1="92.0" x2="503.9" y2="94.0"><stop offset="0" stop-color="#0025ff"/><stop offset="1" stop-color="#006aff"/></linearGradient><linearGradient id="s50" gradientUnits="userSpaceOnUse" x1="574.0" y1="74.6" x2="576.7" y2="80.0"><stop offset="0" stop-color="#00fff7"/><stop offset="1" stop-color="#0fe"/></linearGradient><linearGradient id="s51" gradientUnits="userSpaceOnUse" x1="546.6" y1="78.9" x2="548.6" y2="82.6"><stop offset="0" stop-color="#00d3ff"/><stop offset="1" stop-color="#00f3ff"/></linearGradient><linearGradient id="s52" gradientUnits="userSpaceOnUse" x1="591.8" y1="81.3" x2="583.6" y2="75.9"><stop offset="0" stop-color="#00fff4"/><stop offset="1" stop-color="#00fff0"/></linearGradient><linearGradient id="s53" gradientUnits="userSpaceOnUse" x1="530.3" y1="83.5" x2="531.9" y2="86.5"><stop offset="0" stop-color="#00a5ff"/><stop offset="1" stop-color="#00d2ff"/></linearGradient><linearGradient id="s54" gradientUnits="userSpaceOnUse" x1="557.8" y1="77.8" x2="559.9" y2="82.1"><stop offset="0" stop-color="#00f3ff"/><stop offset="0.57" stop-color="#0ff"/><stop offset="1" stop-color="#00fff6"/></linearGradient><linearGradient id="s55" gradientUnits="userSpaceOnUse" x1="513.9" y1="88.8" x2="515.1" y2="91.2"><stop offset="0" stop-color="#006aff"/><stop offset="1" stop-color="#00a4ff"/></linearGradient><linearGradient id="s56" gradientUnits="userSpaceOnUse" x1="481.1" y1="101.7" x2="481.7" y2="102.8"><stop offset="0" stop-color="#00f"/><stop offset="0.599" stop-color="#00f"/><stop offset="1" stop-color="#02f"/></linearGradient><linearGradient id="s57" gradientUnits="userSpaceOnUse" x1="497.5" y1="94.9" x2="498.4" y2="96.6"><stop offset="0" stop-color="#02f"/><stop offset="1" stop-color="#0069ff"/></linearGradient><linearGradient id="s58" gradientUnits="userSpaceOnUse" x1="569.3" y1="77.6" x2="571.1" y2="82.5"><stop offset="0" stop-color="#00fff7"/><stop offset="1" stop-color="#00ffec"/></linearGradient><linearGradient id="s59" gradientUnits="userSpaceOnUse" x1="541.5" y1="81.7" x2="543.2" y2="85.2"><stop offset="0" stop-color="#00d2ff"/><stop offset="1" stop-color="#00f4ff"/></linearGradient><linearGradient id="s60" gradientUnits="userSpaceOnUse" x1="584.4" y1="76.8" x2="579.3" y2="82.7"><stop offset="0" stop-color="#00fff2"/><stop offset="1" stop-color="#0fe"/></linearGradient><linearGradient id="s61" gradientUnits="userSpaceOnUse" x1="596.6" y1="84.9" x2="589.3" y2="78.7"><stop offset="0" stop-color="#00feff"/><stop offset="0.0931" stop-color="#0ff"/><stop offset="1" stop-color="#00fff2"/></linearGradient><linearGradient id="s62" gradientUnits="userSpaceOnUse" x1="525.0" y1="86.3" x2="526.4" y2="89.1"><stop offset="0" stop-color="#00a4ff"/><stop offset="1" stop-color="#00d3ff"/></linearGradient><linearGradient id="s63" gradientUnits="userSpaceOnUse" x1="552.8" y1="80.6" x2="554.5" y2="84.7"><stop offset="0" stop-color="#00f3ff"/><stop offset="0.511" stop-color="#0ff"/><stop offset="1" stop-color="#00fff3"/></linearGradient><linearGradient id="s64" gradientUnits="userSpaceOnUse" x1="508.6" y1="91.6" x2="509.6" y2="93.8"><stop offset="0" stop-color="#0069ff"/><stop offset="1" stop-color="#00a5ff"/></linearGradient><linearGradient id="s65" gradientUnits="userSpaceOnUse" x1="475.6" y1="104.5" x2="476.1" y2="105.5"><stop offset="0" stop-color="#00f"/><stop offset="0.595" stop-color="#00f"/><stop offset="1" stop-color="#0023ff"/></linearGradient><linearGradient id="s66" gradientUnits="userSpaceOnUse" x1="492.1" y1="97.7" x2="492.9" y2="99.3"><stop offset="0" stop-color="#0021ff"/><stop offset="1" stop-color="#006aff"/></linearGradient><linearGradient id="s67" gradientUnits="userSpaceOnUse" x1="564.2" y1="80.1" x2="565.7" y2="85.0"><stop offset="0" stop-color="#00fff7"/><stop offset="1" stop-color="#00ffe8"/></linearGradient><linearGradient id="s68" gradientUnits="userSpaceOnUse" x1="536.3" y1="84.4" x2="537.8" y2="87.8"><stop offset="0" stop-color="#00d2ff"/><stop offset="1" stop-color="#00f7ff"/></linearGradient><linearGradient id="s69" gradientUnits="userSpaceOnUse" x1="576.7" y1="80.8" x2="575.5" y2="85.9"><stop offset="0" stop-color="#0fe"/><stop offset="1" stop-color="#00ffe9"/></linearGradient><linearGradient id="s70" gradientUnits="userSpaceOnUse" x1="593.1" y1="86.2" x2="582.9" y2="82.0"><stop offset="0" stop-color="#00fffc"/><stop offset="1" stop-color="#0fe"/></linearGradient><linearGradient id="s71" gradientUnits="userSpaceOnUse" x1="602.8" y1="89.2" x2="595.3" y2="82.7"><stop offset="0" stop-color="#00e9ff"/><stop offset="0.865" stop-color="#0ff"/><stop offset="1" stop-color="#00fffc"/></linearGradient><linearGradient id="s72" gradientUnits="userSpaceOnUse" x1="519.7" y1="89.0" x2="521.0" y2="91.7"><stop offset="0" stop-color="#00a4ff"/><stop offset="1" stop-color="#00d6ff"/></linearGradient><linearGradient id="s73" gradientUnits="userSpaceOnUse" x1="547.6" y1="83.1" x2="549.1" y2="87.2"><stop offset="0" stop-color="#00f3ff"/><stop offset="0.442" stop-color="#0ff"/><stop offset="1" stop-color="#00fff0"/></linearGradient><linearGradient id="s74" gradientUnits="userSpaceOnUse" x1="503.2" y1="94.3" x2="504.1" y2="96.4"><stop offset="0" stop-color="#0069ff"/><stop offset="1" stop-color="#00a8ff"/></linearGradient><linearGradient id="s75" gradientUnits="userSpaceOnUse" x1="470.1" y1="107.3" x2="470.4" y2="108.1"><stop offset="0" stop-color="#00f"/><stop offset="0.578" stop-color="#00f"/><stop offset="1" stop-color="#0025ff"/></linearGradient><linearGradient id="s76" gradientUnits="userSpaceOnUse" x1="486.6" y1="100.4" x2="487.3" y2="101.9"><stop offset="0" stop-color="#0021ff"/><stop offset="1" stop-color="#006dff"/></linearGradient><linearGradient id="s77" gradientUnits="userSpaceOnUse" x1="559.1" y1="82.5" x2="560.3" y2="87.3"><stop offset="0" stop-color="#00fff6"/><stop offset="1" stop-color="#00ffe4"/></linearGradient><linearGradient id="s78" gradientUnits="userSpaceOnUse" x1="530.9" y1="87.0" x2="532.3" y2="90.3"><stop offset="0" stop-color="#00d2ff"/><stop offset="1" stop-color="#00faff"/></linearGradient><linearGradient id="s79" gradientUnits="userSpaceOnUse" x1="571.3" y1="82.9" x2="570.7" y2="88.2"><stop offset="0" stop-color="#00ffec"/><stop offset="1" stop-color="#00ffe3"/></linearGradient><linearGradient id="s80" gradientUnits="userSpaceOnUse" x1="609.1" y1="94.0" x2="601.3" y2="87.2"><stop offset="0" stop-color="#0cf"/><stop offset="1" stop-color="#00f0ff"/></linearGradient><linearGradient id="s81" gradientUnits="userSpaceOnUse" x1="588.5" y1="85.7" x2="577.3" y2="86.7"><stop offset="0" stop-color="#00fff6"/><stop offset="1" stop-color="#00ffe9"/></linearGradient><linearGradient id="s82" gradientUnits="userSpaceOnUse" x1="514.3" y1="91.6" x2="515.5" y2="94.2"><stop offset="0" stop-color="#00a4ff"/><stop offset="1" stop-color="#00d9ff"/></linearGradient><linearGradient id="s83" gradientUnits="userSpaceOnUse" x1="598.5" y1="91.0" x2="589.4" y2="85.3"><stop offset="0" stop-color="#00f0ff"/><stop offset="0.61" stop-color="#0ff"/><stop offset="1" stop-color="#00fff6"/></linearGradient><linearGradient id="s84" gradientUnits="userSpaceOnUse" x1="542.3" y1="85.6" x2="543.7" y2="89.6"><stop offset="0" stop-color="#00f4ff"/><stop offset="0.35" stop-color="#0ff"/><stop offset="1" stop-color="#00ffeb"/></linearGradient><linearGradient id="s85" gradientUnits="userSpaceOnUse" x1="497.7" y1="97.0" x2="498.5" y2="98.9"><stop offset="0" stop-color="#0069ff"/><stop offset="1" stop-color="#00abff"/></linearGradient><linearGradient id="s86" gradientUnits="userSpaceOnUse" x1="464.5" y1="110.0" x2="464.7" y2="110.6"><stop offset="0" stop-color="#00f"/><stop offset="0.554" stop-color="#00f"/><stop offset="1" stop-color="#0029ff"/></linearGradient><linearGradient id="s87" gradientUnits="userSpaceOnUse" x1="481.1" y1="103.1" x2="481.6" y2="104.4"><stop offset="0" stop-color="#02f"/><stop offset="1" stop-color="#0071ff"/></linearGradient><linearGradient id="s88" gradientUnits="userSpaceOnUse" x1="553.8" y1="85.0" x2="554.9" y2="89.6"><stop offset="0" stop-color="#00fff3"/><stop offset="1" stop-color="#00ffde"/></linearGradient><linearGradient id="s89" gradientUnits="userSpaceOnUse" x1="525.6" y1="89.5" x2="526.8" y2="92.7"><stop offset="0" stop-color="#00d3ff"/><stop offset="0.998" stop-color="#0ff"/><stop offset="1" stop-color="#0ff"/></linearGradient><linearGradient id="s90" gradientUnits="userSpaceOnUse" x1="615.5" y1="99.4" x2="607.3" y2="92.3"><stop offset="0" stop-color="#00a8ff"/><stop offset="1" stop-color="#00d6ff"/></linearGradient><linearGradient id="s91" gradientUnits="userSpaceOnUse" x1="565.9" y1="85.1" x2="565.6" y2="90.4"><stop offset="0" stop-color="#00ffe8"/><stop offset="1" stop-color="#00ffdc"/></linearGradient><linearGradient id="s92" gradientUnits="userSpaceOnUse" x1="508.9" y1="94.2" x2="509.9" y2="96.6"><stop offset="0" stop-color="#00a5ff"/><stop offset="1" stop-color="#00deff"/></linearGradient><linearGradient id="s93" gradientUnits="userSpaceOnUse" x1="604.6" y1="95.9" x2="595.6" y2="89.7"><stop offset="0" stop-color="#00d6ff"/><stop offset="1" stop-color="#00f9ff"/></linearGradient><linearGradient id="s94" gradientUnits="userSpaceOnUse" x1="581.3" y1="85.9" x2="573.9" y2="90.7"><stop offset="0" stop-color="#0fe"/><stop offset="1" stop-color="#00ffe3"/></linearGradient><linearGradient id="s95" gradientUnits="userSpaceOnUse" x1="594.2" y1="92.3" x2="583.5" y2="88.4"><stop offset="0" stop-color="#00f9ff"/><stop offset="0.277" stop-color="#0ff"/><stop offset="1" stop-color="#0fe"/></linearGradient><linearGradient id="s96" gradientUnits="userSpaceOnUse" x1="537.0" y1="88.1" x2="538.2" y2="91.9"><stop offset="0" stop-color="#00f7ff"/><stop offset="0.243" stop-color="#0ff"/><stop offset="1" stop-color="#00ffe5"/></linearGradient><linearGradient id="s97" gradientUnits="userSpaceOnUse" x1="492.2" y1="99.6" x2="492.9" y2="101.4"><stop offset="0" stop-color="#006aff"/><stop offset="1" stop-color="#00b0ff"/></linearGradient><linearGradient id="s98" gradientUnits="userSpaceOnUse" x1="475.5" y1="105.8" x2="476.0" y2="106.9"><stop offset="0" stop-color="#0023ff"/><stop offset="1" stop-color="#0075ff"/></linearGradient><linearGradient id="s99" gradientUnits="userSpaceOnUse" x1="548.5" y1="87.4" x2="549.5" y2="91.9"><stop offset="0" stop-color="#00fff0"/><stop offset="1" stop-color="#00ffd6"/></linearGradient><linearGradient id="s100" gradientUnits="userSpaceOnUse" x1="621.9" y1="105.3" x2="613.3" y2="98.0"><stop offset="0" stop-color="#007bff"/><stop offset="1" stop-color="#00b4ff"/></linearGradient><linearGradient id="s101" gradientUnits="userSpaceOnUse" x1="520.2" y1="92.0" x2="521.3" y2="95.1"><stop offset="0" stop-color="#00d6ff"/><stop offset="0.872" stop-color="#0ff"/><stop offset="1" stop-color="#00fff9"/></linearGradient><linearGradient id="s102" gradientUnits="userSpaceOnUse" x1="560.5" y1="87.4" x2="560.4" y2="92.5"><stop offset="0" stop-color="#00ffe4"/><stop offset="1" stop-color="#00ffd4"/></linearGradient><linearGradient id="s103" gradientUnits="userSpaceOnUse" x1="610.8" y1="101.2" x2="601.8" y2="94.6"><stop offset="0" stop-color="#00b4ff"/><stop offset="1" stop-color="#00e1ff"/></linearGradient><linearGradient id="s104" gradientUnits="userSpaceOnUse" x1="503.4" y1="96.7" x2="504.3" y2="99.0"><stop offset="0" stop-color="#00a8ff"/><stop offset="1" stop-color="#00e4ff"/></linearGradient><linearGradient id="s105" gradientUnits="userSpaceOnUse" x1="574.0" y1="88.1" x2="570.3" y2="92.8"><stop offset="0" stop-color="#00ffe6"/><stop offset="1" stop-color="#00ffdc"/></linearGradient><linearGradient id="s106" gradientUnits="userSpaceOnUse" x1="600.0" y1="97.5" x2="589.9" y2="92.2"><stop offset="0" stop-color="#00e1ff"/><stop offset="0.905" stop-color="#0ff"/><stop offset="1" stop-color="#00fffc"/></linearGradient><linearGradient id="s107" gradientUnits="userSpaceOnUse" x1="589.4" y1="92.9" x2="577.9" y2="92.0"><stop offset="0" stop-color="#00fffc"/><stop offset="1" stop-color="#00ffe6"/></linearGradient><linearGradient id="s108" gradientUnits="userSpaceOnUse" x1="531.6" y1="90.5" x2="532.7" y2="94.2"><stop offset="0" stop-color="#00faff"/><stop offset="0.125" stop-color="#0ff"/><stop offset="1" stop-color="#00ffde"/></linearGradient><linearGradient id="s109" gradientUnits="userSpaceOnUse" x1="486.6" y1="102.1" x2="487.3" y2="103.8"><stop offset="0" stop-color="#006dff"/><stop offset="1" stop-color="#00b6ff"/></linearGradient><linearGradient id="s110" gradientUnits="userSpaceOnUse" x1="469.8" y1="108.3" x2="470.2" y2="109.3"><stop offset="0" stop-color="#0025ff"/><stop offset="1" stop-color="#007cff"/></linearGradient><linearGradient id="s111" gradientUnits="userSpaceOnUse" x1="628.3" y1="111.6" x2="619.4" y2="104.1"><stop offset="0" stop-color="#0046ff"/><stop offset="1" stop-color="#0089ff"/></linearGradient><linearGradient id="s112" gradientUnits="userSpaceOnUse" x1="543.2" y1="89.7" x2="544.1" y2="94.1"><stop offset="0" stop-color="#00ffeb"/><stop offset="1" stop-color="#00ffce"/></linearGradient><linearGradient id="s113" gradientUnits="userSpaceOnUse" x1="514.7" y1="94.5" x2="515.8" y2="97.4"><stop offset="0" stop-color="#00d9ff"/><stop offset="0.739" stop-color="#0ff"/><stop offset="1" stop-color="#00fff2"/></linearGradient><linearGradient id="s114" gradientUnits="userSpaceOnUse" x1="617.2" y1="107.0" x2="607.9" y2="100.1"><stop offset="0" stop-color="#0089ff"/><stop offset="1" stop-color="#00c1ff"/></linearGradient><linearGradient id="s115" gradientUnits="userSpaceOnUse" x1="555.1" y1="89.7" x2="555.1" y2="94.7"><stop offset="0" stop-color="#00ffde"/><stop offset="1" stop-color="#00ffca"/></linearGradient><linearGradient id="s116" gradientUnits="userSpaceOnUse" x1="634.8" y1="118.5" x2="625.4" y2="110.9"><stop offset="0" stop-color="#0008ff"/><stop offset="1" stop-color="#0056ff"/></linearGradient><linearGradient id="s117" gradientUnits="userSpaceOnUse" x1="606.1" y1="102.8" x2="596.2" y2="96.9"><stop offset="0" stop-color="#00c1ff"/><stop offset="1" stop-color="#00edff"/></linearGradient><linearGradient id="s118" gradientUnits="userSpaceOnUse" x1="497.9" y1="99.2" x2="498.7" y2="101.3"><stop offset="0" stop-color="#00abff"/><stop offset="1" stop-color="#00ebff"/></linearGradient><linearGradient id="s119" gradientUnits="userSpaceOnUse" x1="567.6" y1="90.9" x2="565.5" y2="95.2"><stop offset="0" stop-color="#00ffdc"/><stop offset="1" stop-color="#00ffd2"/></linearGradient><linearGradient id="s120" gradientUnits="userSpaceOnUse" x1="595.4" y1="98.7" x2="584.2" y2="95.0"><stop offset="0" stop-color="#00edff"/><stop offset="0.569" stop-color="#0ff"/><stop offset="1" stop-color="#00fff1"/></linearGradient><linearGradient id="s121" gradientUnits="userSpaceOnUse" x1="583.7" y1="93.2" x2="573.2" y2="95.7"><stop offset="0" stop-color="#00fff1"/><stop offset="1" stop-color="#00ffdc"/></linearGradient><linearGradient id="s122" gradientUnits="userSpaceOnUse" x1="526.2" y1="92.9" x2="527.2" y2="96.4"><stop offset="0" stop-color="#0ff"/><stop offset="1" stop-color="#00ffd5"/></linearGradient><linearGradient id="s123" gradientUnits="userSpaceOnUse" x1="481.0" y1="104.7" x2="481.6" y2="106.1"><stop offset="0" stop-color="#0071ff"/><stop offset="1" stop-color="#00bdff"/></linearGradient><linearGradient id="s124" gradientUnits="userSpaceOnUse" x1="464.1" y1="110.9" x2="464.5" y2="111.7"><stop offset="0" stop-color="#0029ff"/><stop offset="1" stop-color="#0083ff"/></linearGradient><linearGradient id="s125" gradientUnits="userSpaceOnUse" x1="623.6" y1="113.3" x2="614.1" y2="106.2"><stop offset="0" stop-color="#0056ff"/><stop offset="1" stop-color="#0098ff"/></linearGradient><linearGradient id="s126" gradientUnits="userSpaceOnUse" x1="641.2" y1="125.9" x2="631.5" y2="118.1"><stop offset="0" stop-color="#00f"/><stop offset="0.692" stop-color="#00f"/><stop offset="1" stop-color="#001bff"/></linearGradient><linearGradient id="s127" gradientUnits="userSpaceOnUse" x1="537.8" y1="92.1" x2="538.6" y2="96.2"><stop offset="0" stop-color="#00ffe5"/><stop offset="1" stop-color="#00ffc4"/></linearGradient><linearGradient id="s128" gradientUnits="userSpaceOnUse" x1="509.2" y1="96.9" x2="510.2" y2="99.6"><stop offset="0" stop-color="#00deff"/><stop offset="0.602" stop-color="#0ff"/><stop offset="1" stop-color="#00ffe9"/></linearGradient><linearGradient id="s129" gradientUnits="userSpaceOnUse" x1="612.4" y1="108.6" x2="602.5" y2="102.3"><stop offset="0" stop-color="#0098ff"/><stop offset="1" stop-color="#00cfff"/></linearGradient><linearGradient id="s130" gradientUnits="userSpaceOnUse" x1="549.6" y1="91.9" x2="549.8" y2="96.7"><stop offset="0" stop-color="#00ffd6"/><stop offset="1" stop-color="#00ffbf"/></linearGradient><linearGradient id="s131" gradientUnits="userSpaceOnUse" x1="492.3" y1="101.6" x2="493.0" y2="103.6"><stop offset="0" stop-color="#00b0ff"/><stop offset="1" stop-color="#00f4ff"/></linearGradient><linearGradient id="s132" gradientUnits="userSpaceOnUse" x1="601.4" y1="104.3" x2="590.7" y2="99.3"><stop offset="0" stop-color="#00cfff"/><stop offset="1" stop-color="#00faff"/></linearGradient><linearGradient id="s133" gradientUnits="userSpaceOnUse" x1="630.0" y1="120.1" x2="620.2" y2="112.7"><stop offset="0" stop-color="#001bff"/><stop offset="1" stop-color="#0068ff"/></linearGradient><linearGradient id="s134" gradientUnits="userSpaceOnUse" x1="562.0" y1="93.0" x2="560.4" y2="97.5"><stop offset="0" stop-color="#00ffd4"/><stop offset="1" stop-color="#00ffc6"/></linearGradient><linearGradient id="s135" gradientUnits="userSpaceOnUse" x1="590.4" y1="99.6" x2="578.8" y2="98.0"><stop offset="0" stop-color="#00faff"/><stop offset="0.17" stop-color="#0ff"/><stop offset="1" stop-color="#00ffe5"/></linearGradient><linearGradient id="s136" gradientUnits="userSpaceOnUse" x1="520.7" y1="95.3" x2="521.6" y2="98.6"><stop offset="0" stop-color="#00fff9"/><stop offset="1" stop-color="#0fc"/></linearGradient><linearGradient id="s137" gradientUnits="userSpaceOnUse" x1="475.3" y1="107.1" x2="475.8" y2="108.4"><stop offset="0" stop-color="#0075ff"/><stop offset="1" stop-color="#00c6ff"/></linearGradient><linearGradient id="s138" gradientUnits="userSpaceOnUse" x1="577.1" y1="94.2" x2="569.0" y2="98.7"><stop offset="0" stop-color="#00ffe5"/><stop offset="1" stop-color="#00ffd2"/></linearGradient><linearGradient id="s139" gradientUnits="userSpaceOnUse" x1="458.4" y1="113.4" x2="458.6" y2="114.0"><stop offset="0" stop-color="#002eff"/><stop offset="1" stop-color="#008bff"/></linearGradient><linearGradient id="s140" gradientUnits="userSpaceOnUse" x1="618.7" y1="114.8" x2="608.7" y2="108.2"><stop offset="0" stop-color="#0068ff"/><stop offset="1" stop-color="#00a9ff"/></linearGradient><linearGradient id="s141" gradientUnits="userSpaceOnUse" x1="636.4" y1="127.4" x2="626.3" y2="119.9"><stop offset="0" stop-color="#00f"/><stop offset="0.456" stop-color="#00f"/><stop offset="1" stop-color="#002fff"/></linearGradient><linearGradient id="s142" gradientUnits="userSpaceOnUse" x1="532.3" y1="94.3" x2="533.1" y2="98.4"><stop offset="0" stop-color="#00ffde"/><stop offset="1" stop-color="#00ffba"/></linearGradient><linearGradient id="s143" gradientUnits="userSpaceOnUse" x1="503.7" y1="99.3" x2="504.5" y2="101.8"><stop offset="0" stop-color="#00e4ff"/><stop offset="0.462" stop-color="#0ff"/><stop offset="1" stop-color="#00ffe0"/></linearGradient><linearGradient id="s144" gradientUnits="userSpaceOnUse" x1="607.6" y1="110.1" x2="597.0" y2="104.4"><stop offset="0" stop-color="#00a9ff"/><stop offset="1" stop-color="#00deff"/></linearGradient><linearGradient id="s145" gradientUnits="userSpaceOnUse" x1="544.2" y1="94.1" x2="544.4" y2="98.8"><stop offset="0" stop-color="#00ffce"/><stop offset="1" stop-color="#00ffb3"/></linearGradient><linearGradient id="s146" gradientUnits="userSpaceOnUse" x1="486.6" y1="104.0" x2="487.3" y2="105.8"><stop offset="0" stop-color="#00b6ff"/><stop offset="1" stop-color="#00fdff"/></linearGradient><linearGradient id="s147" gradientUnits="userSpaceOnUse" x1="596.5" y1="105.5" x2="585.1" y2="101.9"><stop offset="0" stop-color="#00deff"/><stop offset="0.784" stop-color="#0ff"/><stop offset="1" stop-color="#00fff6"/></linearGradient><linearGradient id="s148" gradientUnits="userSpaceOnUse" x1="556.4" y1="94.9" x2="555.2" y2="99.6"><stop offset="0" stop-color="#00ffca"/><stop offset="1" stop-color="#00ffb9"/></linearGradient><linearGradient id="s149" gradientUnits="userSpaceOnUse" x1="625.1" y1="121.5" x2="614.9" y2="114.6"><stop offset="0" stop-color="#002fff"/><stop offset="1" stop-color="#007bff"/></linearGradient><linearGradient id="s150" gradientUnits="userSpaceOnUse" x1="469.6" y1="109.5" x2="470.0" y2="110.7"><stop offset="0" stop-color="#007cff"/><stop offset="1" stop-color="#00d0ff"/></linearGradient><linearGradient id="s151" gradientUnits="userSpaceOnUse" x1="515.2" y1="97.6" x2="516.0" y2="100.8"><stop offset="0" stop-color="#00fff2"/><stop offset="1" stop-color="#00ffc1"/></linearGradient><linearGradient id="s152" gradientUnits="userSpaceOnUse" x1="585.0" y1="100.3" x2="573.6" y2="101.1"><stop offset="0" stop-color="#00fff6"/><stop offset="1" stop-color="#00ffd8"/></linearGradient><linearGradient id="s153" gradientUnits="userSpaceOnUse" x1="570.4" y1="95.9" x2="564.9" y2="100.9"><stop offset="0" stop-color="#00ffd8"/><stop offset="1" stop-color="#00ffc6"/></linearGradient><linearGradient id="s154" gradientUnits="userSpaceOnUse" x1="613.9" y1="116.3" x2="603.3" y2="110.2"><stop offset="0" stop-color="#007bff"/><stop offset="1" stop-color="#0bf"/></linearGradient><linearGradient id="s155" gradientUnits="userSpaceOnUse" x1="526.8" y1="96.6" x2="527.5" y2="100.4"><stop offset="0" stop-color="#00ffd5"/><stop offset="1" stop-color="#00ffae"/></linearGradient><linearGradient id="s156" gradientUnits="userSpaceOnUse" x1="498.0" y1="101.6" x2="498.8" y2="104.0"><stop offset="0" stop-color="#00ebff"/><stop offset="0.318" stop-color="#0ff"/><stop offset="1" stop-color="#00ffd5"/></linearGradient><linearGradient id="s157" gradientUnits="userSpaceOnUse" x1="631.6" y1="128.8" x2="621.1" y2="121.6"><stop offset="0" stop-color="#00f"/><stop offset="0.2" stop-color="#00f"/><stop offset="1" stop-color="#0045ff"/></linearGradient><linearGradient id="s158" gradientUnits="userSpaceOnUse" x1="602.7" y1="111.4" x2="591.5" y2="106.7"><stop offset="0" stop-color="#0bf"/><stop offset="1" stop-color="#00efff"/></linearGradient><linearGradient id="s159" gradientUnits="userSpaceOnUse" x1="538.7" y1="96.3" x2="538.9" y2="100.7"><stop offset="0" stop-color="#00ffc4"/><stop offset="1" stop-color="#00ffa6"/></linearGradient><linearGradient id="s160" gradientUnits="userSpaceOnUse" x1="480.9" y1="106.3" x2="481.5" y2="108.0"><stop offset="0" stop-color="#00bdff"/><stop offset="0.878" stop-color="#0ff"/><stop offset="1" stop-color="#00fff6"/></linearGradient><linearGradient id="s161" gradientUnits="userSpaceOnUse" x1="412.7" y1="133.1" x2="412.3" y2="132.0"><stop offset="0" stop-color="#00f"/><stop offset="0.971" stop-color="#00f"/><stop offset="1" stop-color="#0004ff"/></linearGradient><linearGradient id="s162" gradientUnits="userSpaceOnUse" x1="591.4" y1="106.5" x2="579.6" y2="104.5"><stop offset="0" stop-color="#00efff"/><stop offset="0.395" stop-color="#0ff"/><stop offset="1" stop-color="#00ffe7"/></linearGradient><linearGradient id="s163" gradientUnits="userSpaceOnUse" x1="550.9" y1="96.9" x2="549.9" y2="101.6"><stop offset="0" stop-color="#00ffbf"/><stop offset="1" stop-color="#0fa"/></linearGradient><linearGradient id="s164" gradientUnits="userSpaceOnUse" x1="463.8" y1="111.9" x2="464.2" y2="112.8"><stop offset="0" stop-color="#0083ff"/><stop offset="1" stop-color="#00daff"/></linearGradient><linearGradient id="s165" gradientUnits="userSpaceOnUse" x1="638.0" y1="136.5" x2="627.2" y2="129.1"><stop offset="0" stop-color="#00f"/><stop offset="0.933" stop-color="#00f"/><stop offset="1" stop-color="#0006ff"/></linearGradient><linearGradient id="s166" gradientUnits="userSpaceOnUse" x1="509.6" y1="99.8" x2="510.4" y2="102.8"><stop offset="0" stop-color="#00ffe9"/><stop offset="1" stop-color="#00ffb5"/></linearGradient><linearGradient id="s167" gradientUnits="userSpaceOnUse" x1="429.7" y1="125.3" x2="429.5" y2="124.8"><stop offset="0" stop-color="#00f"/><stop offset="0.223" stop-color="#00f"/><stop offset="1" stop-color="#0058ff"/></linearGradient><linearGradient id="s168" gradientUnits="userSpaceOnUse" x1="620.2" y1="122.9" x2="609.5" y2="116.5"><stop offset="0" stop-color="#0045ff"/><stop offset="1" stop-color="#008fff"/></linearGradient><linearGradient id="s169" gradientUnits="userSpaceOnUse" x1="579.0" y1="101.1" x2="568.9" y2="104.0"><stop offset="0" stop-color="#00ffe7"/><stop offset="1" stop-color="#00ffca"/></linearGradient><linearGradient id="s170" gradientUnits="userSpaceOnUse" x1="564.0" y1="98.1" x2="560.4" y2="102.7"><stop offset="0" stop-color="#00ffca"/><stop offset="1" stop-color="#00ffb9"/></linearGradient><linearGradient id="s171" gradientUnits="userSpaceOnUse" x1="521.3" y1="98.7" x2="521.9" y2="102.4"><stop offset="0" stop-color="#0fc"/><stop offset="1" stop-color="#00ffa1"/></linearGradient><linearGradient id="s172" gradientUnits="userSpaceOnUse" x1="492.4" y1="103.8" x2="493.1" y2="106.1"><stop offset="0" stop-color="#00f4ff"/><stop offset="0.172" stop-color="#0ff"/><stop offset="1" stop-color="#00ffc9"/></linearGradient><linearGradient id="s173" gradientUnits="userSpaceOnUse" x1="609.0" y1="117.6" x2="597.8" y2="112.2"><stop offset="0" stop-color="#008fff"/><stop offset="1" stop-color="#00ceff"/></linearGradient><linearGradient id="s174" gradientUnits="userSpaceOnUse" x1="626.7" y1="130.1" x2="615.8" y2="123.3"><stop offset="0" stop-color="#0006ff"/><stop offset="1" stop-color="#005bff"/></linearGradient><linearGradient id="s175" gradientUnits="userSpaceOnUse" x1="475.2" y1="108.6" x2="475.7" y2="110.1"><stop offset="0" stop-color="#00c6ff"/><stop offset="0.73" stop-color="#0ff"/><stop offset="1" stop-color="#00ffea"/></linearGradient><linearGradient id="s176" gradientUnits="userSpaceOnUse" x1="533.1" y1="98.4" x2="533.4" y2="102.7"><stop offset="0" stop-color="#00ffba"/><stop offset="1" stop-color="#00ff98"/></linearGradient><linearGradient id="s177" gradientUnits="userSpaceOnUse" x1="597.7" y1="112.5" x2="586.0" y2="108.9"><stop offset="0" stop-color="#00ceff"/><stop offset="0.964" stop-color="#0ff"/><stop offset="1" stop-color="#00fffd"/></linearGradient><linearGradient id="s178" gradientUnits="userSpaceOnUse" x1="406.7" y1="135.5" x2="406.2" y2="134.2"><stop offset="0" stop-color="#00f"/><stop offset="0.879" stop-color="#00f"/><stop offset="1" stop-color="#0010ff"/></linearGradient><linearGradient id="s179" gradientUnits="userSpaceOnUse" x1="458.0" y1="114.2" x2="458.3" y2="115.0"><stop offset="0" stop-color="#008bff"/><stop offset="1" stop-color="#00e6ff"/></linearGradient><linearGradient id="s180" gradientUnits="userSpaceOnUse" x1="545.3" y1="98.9" x2="544.6" y2="103.5"><stop offset="0" stop-color="#00ffb3"/><stop offset="1" stop-color="#00ff9b"/></linearGradient><linearGradient id="s181" gradientUnits="userSpaceOnUse" x1="504.0" y1="102.0" x2="504.7" y2="104.9"><stop offset="0" stop-color="#00ffe0"/><stop offset="1" stop-color="#00ffa8"/></linearGradient><linearGradient id="s182" gradientUnits="userSpaceOnUse" x1="586.1" y1="107.3" x2="574.4" y2="107.1"><stop offset="0" stop-color="#00fffd"/><stop offset="1" stop-color="#00ffd6"/></linearGradient><linearGradient id="s183" gradientUnits="userSpaceOnUse" x1="423.7" y1="127.7" x2="423.5" y2="127.0"><stop offset="0" stop-color="#00f"/><stop offset="0.144" stop-color="#00f"/><stop offset="1" stop-color="#0064ff"/></linearGradient><linearGradient id="s184" gradientUnits="userSpaceOnUse" x1="557.9" y1="100.3" x2="555.5" y2="104.4"><stop offset="0" stop-color="#00ffba"/><stop offset="1" stop-color="#0fa"/></linearGradient><linearGradient id="s185" gradientUnits="userSpaceOnUse" x1="572.7" y1="102.3" x2="564.4" y2="106.5"><stop offset="0" stop-color="#00ffd6"/><stop offset="1" stop-color="#00ffba"/></linearGradient><linearGradient id="s186" gradientUnits="userSpaceOnUse" x1="633.1" y1="137.7" x2="622.0" y2="130.8"><stop offset="0" stop-color="#00f"/><stop offset="0.671" stop-color="#00f"/><stop offset="1" stop-color="#001fff"/></linearGradient><linearGradient id="s187" gradientUnits="userSpaceOnUse" x1="615.3" y1="124.2" x2="604.1" y2="118.3"><stop offset="0" stop-color="#005bff"/><stop offset="1" stop-color="#00a5ff"/></linearGradient><linearGradient id="s188" gradientUnits="userSpaceOnUse" x1="486.7" y1="106.0" x2="487.3" y2="108.1"><stop offset="0" stop-color="#00fdff"/><stop offset="0.024" stop-color="#0ff"/><stop offset="1" stop-color="#00ffbc"/></linearGradient><linearGradient id="s189" gradientUnits="userSpaceOnUse" x1="515.7" y1="100.8" x2="516.3" y2="104.3"><stop offset="0" stop-color="#00ffc1"/><stop offset="1" stop-color="#00ff92"/></linearGradient><linearGradient id="s190" gradientUnits="userSpaceOnUse" x1="603.9" y1="118.7" x2="592.4" y2="114.2"><stop offset="0" stop-color="#00a5ff"/><stop offset="1" stop-color="#00e2ff"/></linearGradient><linearGradient id="s191" gradientUnits="userSpaceOnUse" x1="621.7" y1="131.3" x2="610.4" y2="125.0"><stop offset="0" stop-color="#001fff"/><stop offset="1" stop-color="#0073ff"/></linearGradient><linearGradient id="s192" gradientUnits="userSpaceOnUse" x1="469.4" y1="110.9" x2="469.8" y2="112.2"><stop offset="0" stop-color="#00d0ff"/><stop offset="0.581" stop-color="#0ff"/><stop offset="1" stop-color="#0fd"/></linearGradient><linearGradient id="s193" gradientUnits="userSpaceOnUse" x1="527.5" y1="100.4" x2="527.8" y2="104.5"><stop offset="0" stop-color="#00ffae"/><stop offset="1" stop-color="#0f8"/></linearGradient><linearGradient id="s194" gradientUnits="userSpaceOnUse" x1="400.6" y1="137.9" x2="400.0" y2="136.4"><stop offset="0" stop-color="#00f"/><stop offset="0.784" stop-color="#00f"/><stop offset="1" stop-color="#001dff"/></linearGradient><linearGradient id="s195" gradientUnits="userSpaceOnUse" x1="592.5" y1="113.5" x2="580.5" y2="111.2"><stop offset="0" stop-color="#00e2ff"/><stop offset="0.581" stop-color="#0ff"/><stop offset="1" stop-color="#00ffea"/></linearGradient><linearGradient id="s196" gradientUnits="userSpaceOnUse" x1="452.1" y1="116.5" x2="452.3" y2="117.1"><stop offset="0" stop-color="#0095ff"/><stop offset="1" stop-color="#00f3ff"/></linearGradient><linearGradient id="s197" gradientUnits="userSpaceOnUse" x1="498.3" y1="104.1" x2="498.9" y2="106.8"><stop offset="0" stop-color="#00ffd5"/><stop offset="1" stop-color="#0f9"/></linearGradient><linearGradient id="s198" gradientUnits="userSpaceOnUse" x1="417.7" y1="130.0" x2="417.3" y2="129.2"><stop offset="0" stop-color="#00f"/><stop offset="0.0596" stop-color="#00f"/><stop offset="1" stop-color="#0071ff"/></linearGradient><linearGradient id="s199" gradientUnits="userSpaceOnUse" x1="539.7" y1="100.8" x2="539.1" y2="105.4"><stop offset="0" stop-color="#00ffa6"/><stop offset="1" stop-color="#00ff8a"/></linearGradient><linearGradient id="s200" gradientUnits="userSpaceOnUse" x1="580.4" y1="108.1" x2="569.3" y2="109.7"><stop offset="0" stop-color="#00ffea"/><stop offset="1" stop-color="#00ffc4"/></linearGradient><linearGradient id="s201" gradientUnits="userSpaceOnUse" x1="552.1" y1="102.4" x2="550.2" y2="106.4"><stop offset="0" stop-color="#0fa"/><stop offset="1" stop-color="#00ff98"/></linearGradient><linearGradient id="s202" gradientUnits="userSpaceOnUse" x1="566.3" y1="103.7" x2="559.9" y2="108.5"><stop offset="0" stop-color="#00ffc4"/><stop offset="1" stop-color="#0fa"/></linearGradient><linearGradient id="s203" gradientUnits="userSpaceOnUse" x1="610.3" y1="125.3" x2="598.7" y2="120.2"><stop offset="0" stop-color="#0073ff"/><stop offset="1" stop-color="#0bf"/></linearGradient><linearGradient id="s204" gradientUnits="userSpaceOnUse" x1="628.1" y1="138.8" x2="616.7" y2="132.3"><stop offset="0" stop-color="#00f"/><stop offset="0.389" stop-color="#00f"/><stop offset="1" stop-color="#003aff"/></linearGradient><linearGradient id="s205" gradientUnits="userSpaceOnUse" x1="480.9" y1="108.2" x2="481.4" y2="110.1"><stop offset="0" stop-color="#00fff6"/><stop offset="1" stop-color="#00ffad"/></linearGradient><linearGradient id="s206" gradientUnits="userSpaceOnUse" x1="510.0" y1="102.9" x2="510.6" y2="106.2"><stop offset="0" stop-color="#00ffb5"/><stop offset="1" stop-color="#00ff83"/></linearGradient><linearGradient id="s207" gradientUnits="userSpaceOnUse" x1="598.8" y1="119.8" x2="586.9" y2="116.3"><stop offset="0" stop-color="#0bf"/><stop offset="1" stop-color="#00f7ff"/></linearGradient><linearGradient id="s208" gradientUnits="userSpaceOnUse" x1="463.5" y1="113.1" x2="463.9" y2="114.2"><stop offset="0" stop-color="#00daff"/><stop offset="0.43" stop-color="#0ff"/><stop offset="1" stop-color="#00ffce"/></linearGradient><linearGradient id="s209" gradientUnits="userSpaceOnUse" x1="521.9" y1="102.4" x2="522.2" y2="106.4"><stop offset="0" stop-color="#00ffa1"/><stop offset="1" stop-color="#00ff78"/></linearGradient><linearGradient id="s210" gradientUnits="userSpaceOnUse" x1="616.7" y1="132.4" x2="605.1" y2="126.7"><stop offset="0" stop-color="#003aff"/><stop offset="1" stop-color="#008cff"/></linearGradient><linearGradient id="s211" gradientUnits="userSpaceOnUse" x1="587.1" y1="114.4" x2="575.2" y2="113.6"><stop offset="0" stop-color="#00f7ff"/><stop offset="0.155" stop-color="#0ff"/><stop offset="1" stop-color="#00ffd6"/></linearGradient><linearGradient id="s212" gradientUnits="userSpaceOnUse" x1="492.5" y1="106.2" x2="493.1" y2="108.7"><stop offset="0" stop-color="#00ffc9"/><stop offset="1" stop-color="#00ff8a"/></linearGradient><linearGradient id="s213" gradientUnits="userSpaceOnUse" x1="411.5" y1="132.3" x2="411.2" y2="131.3"><stop offset="0" stop-color="#0004ff"/><stop offset="1" stop-color="#0080ff"/></linearGradient><linearGradient id="s214" gradientUnits="userSpaceOnUse" x1="534.0" y1="102.7" x2="533.6" y2="107.1"><stop offset="0" stop-color="#00ff98"/><stop offset="1" stop-color="#00ff78"/></linearGradient><linearGradient id="s215" gradientUnits="userSpaceOnUse" x1="574.4" y1="109.0" x2="564.5" y2="112.1"><stop offset="0" stop-color="#00ffd6"/><stop offset="1" stop-color="#00ffb1"/></linearGradient><linearGradient id="s216" gradientUnits="userSpaceOnUse" x1="546.4" y1="104.1" x2="544.8" y2="108.3"><stop offset="0" stop-color="#00ff9b"/><stop offset="1" stop-color="#00ff85"/></linearGradient><linearGradient id="s217" gradientUnits="userSpaceOnUse" x1="560.0" y1="105.5" x2="555.2" y2="110.3"><stop offset="0" stop-color="#00ffb1"/><stop offset="1" stop-color="#00ff98"/></linearGradient><linearGradient id="s218" gradientUnits="userSpaceOnUse" x1="605.2" y1="126.4" x2="593.3" y2="122.0"><stop offset="0" stop-color="#008cff"/><stop offset="1" stop-color="#00d3ff"/></linearGradient><linearGradient id="s219" gradientUnits="userSpaceOnUse" x1="623.1" y1="139.9" x2="611.4" y2="133.9"><stop offset="0" stop-color="#00f"/><stop offset="0.0882" stop-color="#00f"/><stop offset="1" stop-color="#05f"/></linearGradient><linearGradient id="s220" gradientUnits="userSpaceOnUse" x1="475.0" y1="110.3" x2="475.5" y2="112.0"><stop offset="0" stop-color="#00ffea"/><stop offset="1" stop-color="#00ff9e"/></linearGradient><linearGradient id="s221" gradientUnits="userSpaceOnUse" x1="504.3" y1="104.9" x2="504.8" y2="108.1"><stop offset="0" stop-color="#00ffa8"/><stop offset="1" stop-color="#00ff72"/></linearGradient><linearGradient id="s222" gradientUnits="userSpaceOnUse" x1="593.6" y1="120.7" x2="581.5" y2="118.3"><stop offset="0" stop-color="#00d3ff"/><stop offset="0.746" stop-color="#0ff"/><stop offset="1" stop-color="#00fff0"/></linearGradient><linearGradient id="s223" gradientUnits="userSpaceOnUse" x1="457.6" y1="115.2" x2="457.9" y2="116.2"><stop offset="0" stop-color="#00e6ff"/><stop offset="0.278" stop-color="#0ff"/><stop offset="1" stop-color="#00ffbf"/></linearGradient><linearGradient id="s224" gradientUnits="userSpaceOnUse" x1="516.2" y1="104.4" x2="516.5" y2="108.1"><stop offset="0" stop-color="#00ff92"/><stop offset="1" stop-color="#0f6"/></linearGradient><linearGradient id="s225" gradientUnits="userSpaceOnUse" x1="629.6" y1="147.9" x2="617.7" y2="141.6"><stop offset="0" stop-color="#00f"/><stop offset="0.793" stop-color="#00f"/><stop offset="1" stop-color="#0015ff"/></linearGradient><linearGradient id="s226" gradientUnits="userSpaceOnUse" x1="611.6" y1="133.4" x2="599.7" y2="128.4"><stop offset="0" stop-color="#05f"/><stop offset="1" stop-color="#00a6ff"/></linearGradient><linearGradient id="s227" gradientUnits="userSpaceOnUse" x1="405.4" y1="134.5" x2="404.9" y2="133.3"><stop offset="0" stop-color="#0010ff"/><stop offset="1" stop-color="#008fff"/></linearGradient><linearGradient id="s228" gradientUnits="userSpaceOnUse" x1="581.6" y1="115.2" x2="570.0" y2="115.8"><stop offset="0" stop-color="#00fff0"/><stop offset="1" stop-color="#00ffc1"/></linearGradient><linearGradient id="s229" gradientUnits="userSpaceOnUse" x1="486.7" y1="108.3" x2="487.2" y2="110.6"><stop offset="0" stop-color="#00ffbc"/><stop offset="1" stop-color="#00ff79"/></linearGradient><linearGradient id="s230" gradientUnits="userSpaceOnUse" x1="422.7" y1="127.3" x2="422.5" y2="126.8"><stop offset="0" stop-color="#0064ff"/><stop offset="1" stop-color="#00d7ff"/></linearGradient><linearGradient id="s231" gradientUnits="userSpaceOnUse" x1="528.3" y1="104.6" x2="528.0" y2="108.8"><stop offset="0" stop-color="#0f8"/><stop offset="1" stop-color="#00ff65"/></linearGradient><linearGradient id="s232" gradientUnits="userSpaceOnUse" x1="568.2" y1="110.1" x2="559.7" y2="114.2"><stop offset="0" stop-color="#00ffc1"/><stop offset="1" stop-color="#00ff9d"/></linearGradient><linearGradient id="s233" gradientUnits="userSpaceOnUse" x1="540.7" y1="105.7" x2="539.3" y2="110.0"><stop offset="0" stop-color="#00ff8a"/><stop offset="1" stop-color="#00ff70"/></linearGradient><linearGradient id="s234" gradientUnits="userSpaceOnUse" x1="553.8" y1="107.3" x2="550.3" y2="111.7"><stop offset="0" stop-color="#00ff9d"/><stop offset="1" stop-color="#00ff85"/></linearGradient><linearGradient id="s235" gradientUnits="userSpaceOnUse" x1="600.0" y1="127.3" x2="587.8" y2="123.8"><stop offset="0" stop-color="#00a6ff"/><stop offset="1" stop-color="#00ecff"/></linearGradient><linearGradient id="s236" gradientUnits="userSpaceOnUse" x1="469.1" y1="112.4" x2="469.6" y2="113.9"><stop offset="0" stop-color="#0fd"/><stop offset="1" stop-color="#00ff8d"/></linearGradient><linearGradient id="s237" gradientUnits="userSpaceOnUse" x1="498.5" y1="106.9" x2="499.0" y2="109.9"><stop offset="0" stop-color="#0f9"/><stop offset="1" stop-color="#00ff60"/></linearGradient><linearGradient id="s238" gradientUnits="userSpaceOnUse" x1="618.1" y1="140.9" x2="606.0" y2="135.4"><stop offset="0" stop-color="#0015ff"/><stop offset="1" stop-color="#0071ff"/></linearGradient><linearGradient id="s239" gradientUnits="userSpaceOnUse" x1="451.6" y1="117.3" x2="451.8" y2="118.1"><stop offset="0" stop-color="#00f3ff"/><stop offset="0.125" stop-color="#0ff"/><stop offset="1" stop-color="#00ffae"/></linearGradient><linearGradient id="s240" gradientUnits="userSpaceOnUse" x1="588.2" y1="121.5" x2="576.1" y2="120.3"><stop offset="0" stop-color="#00ecff"/><stop offset="0.33" stop-color="#0ff"/><stop offset="1" stop-color="#00ffd8"/></linearGradient><linearGradient id="s241" gradientUnits="userSpaceOnUse" x1="510.5" y1="106.3" x2="510.7" y2="109.8"><stop offset="0" stop-color="#00ff83"/><stop offset="1" stop-color="#00ff53"/></linearGradient><linearGradient id="s242" gradientUnits="userSpaceOnUse" x1="624.6" y1="148.8" x2="612.4" y2="143.0"><stop offset="0" stop-color="#00f"/><stop offset="0.489" stop-color="#00f"/><stop offset="1" stop-color="#0034ff"/></linearGradient><linearGradient id="s243" gradientUnits="userSpaceOnUse" x1="480.8" y1="110.3" x2="481.3" y2="112.4"><stop offset="0" stop-color="#00ffad"/><stop offset="1" stop-color="#00ff67"/></linearGradient><linearGradient id="s244" gradientUnits="userSpaceOnUse" x1="416.6" y1="129.5" x2="416.3" y2="128.7"><stop offset="0" stop-color="#0071ff"/><stop offset="1" stop-color="#00e7ff"/></linearGradient><linearGradient id="s245" gradientUnits="userSpaceOnUse" x1="575.7" y1="116.0" x2="564.9" y2="118.0"><stop offset="0" stop-color="#00ffd8"/><stop offset="1" stop-color="#0fa"/></linearGradient><linearGradient id="s246" gradientUnits="userSpaceOnUse" x1="606.5" y1="134.3" x2="594.2" y2="130.0"><stop offset="0" stop-color="#0071ff"/><stop offset="1" stop-color="#00c2ff"/></linearGradient><linearGradient id="s247" gradientUnits="userSpaceOnUse" x1="522.6" y1="106.4" x2="522.4" y2="110.5"><stop offset="0" stop-color="#00ff78"/><stop offset="1" stop-color="#00ff51"/></linearGradient><linearGradient id="s248" gradientUnits="userSpaceOnUse" x1="561.9" y1="111.4" x2="554.9" y2="116.0"><stop offset="0" stop-color="#0fa"/><stop offset="1" stop-color="#00ff87"/></linearGradient><linearGradient id="s249" gradientUnits="userSpaceOnUse" x1="535.0" y1="107.4" x2="533.8" y2="111.7"><stop offset="0" stop-color="#00ff78"/><stop offset="1" stop-color="#00ff5b"/></linearGradient><linearGradient id="s250" gradientUnits="userSpaceOnUse" x1="547.7" y1="109.2" x2="545.1" y2="113.1"><stop offset="0" stop-color="#00ff87"/><stop offset="1" stop-color="#00ff70"/></linearGradient><linearGradient id="s251" gradientUnits="userSpaceOnUse" x1="463.2" y1="114.4" x2="463.5" y2="115.7"><stop offset="0" stop-color="#00ffce"/><stop offset="1" stop-color="#00ff7b"/></linearGradient><linearGradient id="s252" gradientUnits="userSpaceOnUse" x1="492.7" y1="108.8" x2="493.1" y2="111.6"><stop offset="0" stop-color="#00ff8a"/><stop offset="1" stop-color="#00ff4d"/></linearGradient><linearGradient id="s253" gradientUnits="userSpaceOnUse" x1="594.7" y1="128.2" x2="582.4" y2="125.6"><stop offset="0" stop-color="#00c2ff"/><stop offset="0.898" stop-color="#0ff"/><stop offset="1" stop-color="#00fff8"/></linearGradient><linearGradient id="s254" gradientUnits="userSpaceOnUse" x1="612.9" y1="141.7" x2="600.7" y2="136.9"><stop offset="0" stop-color="#0034ff"/><stop offset="1" stop-color="#008fff"/></linearGradient><linearGradient id="s255" gradientUnits="userSpaceOnUse" x1="445.5" y1="119.3" x2="445.7" y2="119.9"><stop offset="0" stop-color="#00fffc"/><stop offset="1" stop-color="#00ff9c"/></linearGradient><linearGradient id="s256" gradientUnits="userSpaceOnUse" x1="504.7" y1="108.1" x2="504.9" y2="111.5"><stop offset="0" stop-color="#00ff72"/><stop offset="1" stop-color="#00ff3e"/></linearGradient><linearGradient id="s257" gradientUnits="userSpaceOnUse" x1="582.7" y1="122.3" x2="570.8" y2="122.3"><stop offset="0" stop-color="#00fff8"/><stop offset="1" stop-color="#00ffbf"/></linearGradient><linearGradient id="s258" gradientUnits="userSpaceOnUse" x1="474.9" y1="112.2" x2="475.4" y2="114.1"><stop offset="0" stop-color="#00ff9e"/><stop offset="1" stop-color="#00ff54"/></linearGradient><linearGradient id="s259" gradientUnits="userSpaceOnUse" x1="410.3" y1="131.6" x2="410.0" y2="130.6"><stop offset="0" stop-color="#0080ff"/><stop offset="1" stop-color="#00f9ff"/></linearGradient><linearGradient id="s260" gradientUnits="userSpaceOnUse" x1="516.8" y1="108.1" x2="516.6" y2="112.1"><stop offset="0" stop-color="#0f6"/><stop offset="1" stop-color="#00ff3c"/></linearGradient><linearGradient id="s261" gradientUnits="userSpaceOnUse" x1="619.4" y1="149.6" x2="607.1" y2="144.3"><stop offset="0" stop-color="#00f"/><stop offset="0.166" stop-color="#00f"/><stop offset="1" stop-color="#0054ff"/></linearGradient><linearGradient id="s262" gradientUnits="userSpaceOnUse" x1="569.7" y1="116.8" x2="559.9" y2="120.0"><stop offset="0" stop-color="#00ffbf"/><stop offset="1" stop-color="#00ff92"/></linearGradient><linearGradient id="s263" gradientUnits="userSpaceOnUse" x1="601.2" y1="135.2" x2="588.8" y2="131.7"><stop offset="0" stop-color="#008fff"/><stop offset="1" stop-color="#00deff"/></linearGradient><linearGradient id="s264" gradientUnits="userSpaceOnUse" x1="529.2" y1="109.0" x2="528.2" y2="113.3"><stop offset="0" stop-color="#00ff65"/><stop offset="1" stop-color="#0f4"/></linearGradient><linearGradient id="s265" gradientUnits="userSpaceOnUse" x1="555.6" y1="112.8" x2="550.0" y2="117.6"><stop offset="0" stop-color="#00ff92"/><stop offset="1" stop-color="#00ff71"/></linearGradient><linearGradient id="s266" gradientUnits="userSpaceOnUse" x1="541.7" y1="111.0" x2="539.6" y2="114.8"><stop offset="0" stop-color="#00ff71"/><stop offset="1" stop-color="#00ff59"/></linearGradient><linearGradient id="s267" gradientUnits="userSpaceOnUse" x1="457.2" y1="116.4" x2="457.5" y2="117.5"><stop offset="0" stop-color="#00ffbf"/><stop offset="1" stop-color="#00ff68"/></linearGradient><linearGradient id="s268" gradientUnits="userSpaceOnUse" x1="486.8" y1="110.7" x2="487.2" y2="113.3"><stop offset="0" stop-color="#00ff79"/><stop offset="1" stop-color="#00ff39"/></linearGradient><linearGradient id="s269" gradientUnits="userSpaceOnUse" x1="626.0" y1="158.0" x2="613.4" y2="152.3"><stop offset="0" stop-color="#00f"/><stop offset="0.843" stop-color="#00f"/><stop offset="1" stop-color="#0012ff"/></linearGradient><linearGradient id="s270" gradientUnits="userSpaceOnUse" x1="589.3" y1="128.9" x2="577.0" y2="127.4"><stop offset="0" stop-color="#00deff"/><stop offset="0.49" stop-color="#0ff"/><stop offset="1" stop-color="#0fd"/></linearGradient><linearGradient id="s271" gradientUnits="userSpaceOnUse" x1="607.7" y1="142.5" x2="595.2" y2="138.3"><stop offset="0" stop-color="#0054ff"/><stop offset="1" stop-color="#00aeff"/></linearGradient><linearGradient id="s272" gradientUnits="userSpaceOnUse" x1="498.8" y1="109.9" x2="499.1" y2="113.1"><stop offset="0" stop-color="#00ff60"/><stop offset="1" stop-color="#00ff29"/></linearGradient><linearGradient id="s273" gradientUnits="userSpaceOnUse" x1="576.9" y1="123.0" x2="565.5" y2="124.2"><stop offset="0" stop-color="#0fd"/><stop offset="1" stop-color="#00ffa5"/></linearGradient><linearGradient id="s274" gradientUnits="userSpaceOnUse" x1="468.9" y1="114.1" x2="469.3" y2="115.8"><stop offset="0" stop-color="#00ff8d"/><stop offset="1" stop-color="#00ff40"/></linearGradient><linearGradient id="s275" gradientUnits="userSpaceOnUse" x1="511.0" y1="109.8" x2="510.9" y2="113.6"><stop offset="0" stop-color="#00ff53"/><stop offset="1" stop-color="#00ff25"/></linearGradient><linearGradient id="s276" gradientUnits="userSpaceOnUse" x1="563.5" y1="117.8" x2="554.9" y2="121.7"><stop offset="0" stop-color="#00ffa5"/><stop offset="1" stop-color="#00ff79"/></linearGradient><linearGradient id="s277" gradientUnits="userSpaceOnUse" x1="614.3" y1="150.4" x2="601.7" y2="145.6"><stop offset="0" stop-color="#0012ff"/><stop offset="1" stop-color="#0076ff"/></linearGradient><linearGradient id="s278" gradientUnits="userSpaceOnUse" x1="595.9" y1="135.9" x2="583.4" y2="133.3"><stop offset="0" stop-color="#00aeff"/><stop offset="1" stop-color="#00fcff"/></linearGradient><linearGradient id="s279" gradientUnits="userSpaceOnUse" x1="523.3" y1="110.6" x2="522.5" y2="114.8"><stop offset="0" stop-color="#00ff51"/><stop offset="1" stop-color="#00ff2d"/></linearGradient><linearGradient id="s280" gradientUnits="userSpaceOnUse" x1="549.4" y1="114.3" x2="544.9" y2="118.9"><stop offset="0" stop-color="#00ff79"/><stop offset="1" stop-color="#00ff59"/></linearGradient><linearGradient id="s281" gradientUnits="userSpaceOnUse" x1="535.9" y1="112.5" x2="534.1" y2="116.3"><stop offset="0" stop-color="#00ff5b"/><stop offset="1" stop-color="#00ff40"/></linearGradient><linearGradient id="s282" gradientUnits="userSpaceOnUse" x1="451.1" y1="118.3" x2="451.3" y2="119.2"><stop offset="0" stop-color="#00ffae"/><stop offset="1" stop-color="#00ff54"/></linearGradient><linearGradient id="s283" gradientUnits="userSpaceOnUse" x1="480.8" y1="112.5" x2="481.2" y2="114.9"><stop offset="0" stop-color="#00ff67"/><stop offset="1" stop-color="#00ff23"/></linearGradient><linearGradient id="s284" gradientUnits="userSpaceOnUse" x1="620.8" y1="158.6" x2="608.1" y2="153.5"><stop offset="0" stop-color="#00f"/><stop offset="0.519" stop-color="#00f"/><stop offset="1" stop-color="#0035ff"/></linearGradient><linearGradient id="s285" gradientUnits="userSpaceOnUse" x1="583.7" y1="129.6" x2="571.6" y2="129.2"><stop offset="0" stop-color="#00fcff"/><stop offset="0.0501" stop-color="#0ff"/><stop offset="1" stop-color="#00ffc0"/></linearGradient><linearGradient id="s286" gradientUnits="userSpaceOnUse" x1="602.4" y1="143.2" x2="589.8" y2="139.8"><stop offset="0" stop-color="#0076ff"/><stop offset="1" stop-color="#00ceff"/></linearGradient><linearGradient id="s287" gradientUnits="userSpaceOnUse" x1="492.9" y1="111.6" x2="493.1" y2="114.6"><stop offset="0" stop-color="#00ff4d"/><stop offset="1" stop-color="#00ff12"/></linearGradient><linearGradient id="s288" gradientUnits="userSpaceOnUse" x1="415.4" y1="129.0" x2="415.3" y2="128.4"><stop offset="0" stop-color="#00e7ff"/><stop offset="0.203" stop-color="#0ff"/><stop offset="1" stop-color="#00ffa3"/></linearGradient><linearGradient id="s289" gradientUnits="userSpaceOnUse" x1="462.9" y1="115.9" x2="463.2" y2="117.5"><stop offset="0" stop-color="#00ff7b"/><stop offset="1" stop-color="#00ff2a"/></linearGradient><linearGradient id="s290" gradientUnits="userSpaceOnUse" x1="571.0" y1="123.7" x2="560.3" y2="126.0"><stop offset="0" stop-color="#00ffc0"/><stop offset="1" stop-color="#00ff8a"/></linearGradient><linearGradient id="s291" gradientUnits="userSpaceOnUse" x1="505.1" y1="111.5" x2="505.0" y2="115.1"><stop offset="0" stop-color="#00ff3e"/><stop offset="1" stop-color="#00ff0d"/></linearGradient><linearGradient id="s292" gradientUnits="userSpaceOnUse" x1="557.3" y1="118.9" x2="549.9" y2="123.3"><stop offset="0" stop-color="#00ff8a"/><stop offset="1" stop-color="#00ff5f"/></linearGradient><linearGradient id="s293" gradientUnits="userSpaceOnUse" x1="517.5" y1="112.2" x2="516.8" y2="116.2"><stop offset="0" stop-color="#00ff3c"/><stop offset="1" stop-color="#00ff14"/></linearGradient><linearGradient id="s294" gradientUnits="userSpaceOnUse" x1="609.0" y1="151.0" x2="596.2" y2="146.9"><stop offset="0" stop-color="#0035ff"/><stop offset="1" stop-color="#0098ff"/></linearGradient><linearGradient id="s295" gradientUnits="userSpaceOnUse" x1="590.4" y1="136.6" x2="577.9" y2="134.8"><stop offset="0" stop-color="#00ceff"/><stop offset="0.64" stop-color="#0ff"/><stop offset="1" stop-color="#00ffe3"/></linearGradient><linearGradient id="s296" gradientUnits="userSpaceOnUse" x1="543.2" y1="115.9" x2="539.7" y2="120.2"><stop offset="0" stop-color="#00ff5f"/><stop offset="1" stop-color="#00ff40"/></linearGradient><linearGradient id="s297" gradientUnits="userSpaceOnUse" x1="530.0" y1="113.9" x2="528.4" y2="117.8"><stop offset="0" stop-color="#0f4"/><stop offset="1" stop-color="#00ff26"/></linearGradient><linearGradient id="s298" gradientUnits="userSpaceOnUse" x1="444.9" y1="120.1" x2="445.1" y2="120.9"><stop offset="0" stop-color="#00ff9c"/><stop offset="1" stop-color="#00ff3f"/></linearGradient><linearGradient id="s299" gradientUnits="userSpaceOnUse" x1="474.8" y1="114.2" x2="475.2" y2="116.4"><stop offset="0" stop-color="#00ff54"/><stop offset="1" stop-color="#00ff0d"/></linearGradient><linearGradient id="s300" gradientUnits="userSpaceOnUse" x1="578.0" y1="130.2" x2="566.2" y2="130.8"><stop offset="0" stop-color="#00ffe3"/><stop offset="1" stop-color="#00ffa2"/></linearGradient><linearGradient id="s301" gradientUnits="userSpaceOnUse" x1="615.6" y1="159.3" x2="602.7" y2="154.7"><stop offset="0" stop-color="#00f"/><stop offset="0.177" stop-color="#00f"/><stop offset="1" stop-color="#005aff"/></linearGradient><linearGradient id="s302" gradientUnits="userSpaceOnUse" x1="486.9" y1="113.3" x2="487.2" y2="116.1"><stop offset="0" stop-color="#00ff39"/><stop offset="0.913" stop-color="#0f0"/><stop offset="1" stop-color="#05ff00"/></linearGradient><linearGradient id="s303" gradientUnits="userSpaceOnUse" x1="597.0" y1="143.9" x2="584.3" y2="141.2"><stop offset="0" stop-color="#0098ff"/><stop offset="1" stop-color="#00efff"/></linearGradient><linearGradient id="s304" gradientUnits="userSpaceOnUse" x1="456.8" y1="117.7" x2="457.1" y2="119.0"><stop offset="0" stop-color="#00ff68"/><stop offset="1" stop-color="#00ff14"/></linearGradient><linearGradient id="s305" gradientUnits="userSpaceOnUse" x1="564.9" y1="124.5" x2="555.1" y2="127.7"><stop offset="0" stop-color="#00ffa2"/><stop offset="1" stop-color="#00ff6d"/></linearGradient><linearGradient id="s306" gradientUnits="userSpaceOnUse" x1="499.1" y1="113.1" x2="499.1" y2="116.5"><stop offset="0" stop-color="#00ff29"/><stop offset="0.777" stop-color="#0f0"/><stop offset="1" stop-color="#0cff00"/></linearGradient><linearGradient id="s307" gradientUnits="userSpaceOnUse" x1="622.2" y1="168.0" x2="609.2" y2="163.0"><stop offset="0" stop-color="#00f"/><stop offset="0.835" stop-color="#00f"/><stop offset="1" stop-color="#0014ff"/></linearGradient><linearGradient id="s308" gradientUnits="userSpaceOnUse" x1="551.0" y1="120.0" x2="544.8" y2="124.7"><stop offset="0" stop-color="#00ff6d"/><stop offset="1" stop-color="#0f4"/></linearGradient><linearGradient id="s309" gradientUnits="userSpaceOnUse" x1="511.5" y1="113.7" x2="511.0" y2="117.6"><stop offset="0" stop-color="#00ff25"/><stop offset="0.851" stop-color="#0f0"/><stop offset="1" stop-color="#06ff00"/></linearGradient><linearGradient id="s310" gradientUnits="userSpaceOnUse" x1="537.0" y1="117.4" x2="534.3" y2="121.3"><stop offset="0" stop-color="#0f4"/><stop offset="1" stop-color="#00ff26"/></linearGradient><linearGradient id="s311" gradientUnits="userSpaceOnUse" x1="438.7" y1="121.9" x2="438.9" y2="122.5"><stop offset="0" stop-color="#00ff89"/><stop offset="1" stop-color="#00ff28"/></linearGradient><linearGradient id="s312" gradientUnits="userSpaceOnUse" x1="524.1" y1="115.2" x2="522.7" y2="119.2"><stop offset="0" stop-color="#00ff2d"/><stop offset="1" stop-color="#00ff0a"/></linearGradient><linearGradient id="s313" gradientUnits="userSpaceOnUse" x1="584.8" y1="137.1" x2="572.5" y2="136.3"><stop offset="0" stop-color="#00efff"/><stop offset="0.21" stop-color="#0ff"/><stop offset="1" stop-color="#00ffc3"/></linearGradient><linearGradient id="s314" gradientUnits="userSpaceOnUse" x1="603.6" y1="151.6" x2="590.8" y2="148.1"><stop offset="0" stop-color="#005aff"/><stop offset="1" stop-color="#00bcff"/></linearGradient><linearGradient id="s315" gradientUnits="userSpaceOnUse" x1="468.7" y1="115.9" x2="469.1" y2="117.9"><stop offset="0" stop-color="#00ff40"/><stop offset="0.852" stop-color="#0f0"/><stop offset="1" stop-color="#0bff00"/></linearGradient><linearGradient id="s316" gradientUnits="userSpaceOnUse" x1="572.2" y1="130.8" x2="560.9" y2="132.4"><stop offset="0" stop-color="#00ffc3"/><stop offset="1" stop-color="#00ff84"/></linearGradient><linearGradient id="s317" gradientUnits="userSpaceOnUse" x1="480.9" y1="114.9" x2="481.1" y2="117.5"><stop offset="0" stop-color="#00ff23"/><stop offset="0.538" stop-color="#0f0"/><stop offset="1" stop-color="#1eff00"/></linearGradient><linearGradient id="s318" gradientUnits="userSpaceOnUse" x1="610.3" y1="159.8" x2="597.3" y2="155.7"><stop offset="0" stop-color="#0014ff"/><stop offset="1" stop-color="#0080ff"/></linearGradient><linearGradient id="s319" gradientUnits="userSpaceOnUse" x1="450.6" y1="119.4" x2="450.8" y2="120.6"><stop offset="0" stop-color="#00ff54"/><stop offset="0.955" stop-color="#0f0"/><stop offset="1" stop-color="#04ff00"/></linearGradient><linearGradient id="s320" gradientUnits="userSpaceOnUse" x1="591.5" y1="144.4" x2="578.8" y2="142.5"><stop offset="0" stop-color="#00bcff"/><stop offset="0.784" stop-color="#0ff"/><stop offset="1" stop-color="#00ffec"/></linearGradient><linearGradient id="s321" gradientUnits="userSpaceOnUse" x1="558.7" y1="125.3" x2="550.0" y2="129.1"><stop offset="0" stop-color="#00ff84"/><stop offset="1" stop-color="#00ff50"/></linearGradient><linearGradient id="s322" gradientUnits="userSpaceOnUse" x1="493.1" y1="114.6" x2="493.1" y2="117.9"><stop offset="0" stop-color="#00ff12"/><stop offset="0.327" stop-color="#0f0"/><stop offset="1" stop-color="#26ff00"/></linearGradient><linearGradient id="s323" gradientUnits="userSpaceOnUse" x1="616.9" y1="168.4" x2="603.8" y2="163.9"><stop offset="0" stop-color="#00f"/><stop offset="0.494" stop-color="#00f"/><stop offset="1" stop-color="#003cff"/></linearGradient><linearGradient id="s324" gradientUnits="userSpaceOnUse" x1="544.7" y1="121.2" x2="539.5" y2="125.8"><stop offset="0" stop-color="#00ff50"/><stop offset="1" stop-color="#00ff27"/></linearGradient><linearGradient id="s325" gradientUnits="userSpaceOnUse" x1="505.5" y1="115.2" x2="505.1" y2="118.9"><stop offset="0" stop-color="#00ff0d"/><stop offset="0.281" stop-color="#0f0"/><stop offset="1" stop-color="#2f0"/></linearGradient><linearGradient id="s326" gradientUnits="userSpaceOnUse" x1="530.9" y1="118.8" x2="528.7" y2="122.5"><stop offset="0" stop-color="#00ff27"/><stop offset="1" stop-color="#00ff09"/></linearGradient><linearGradient id="s327" gradientUnits="userSpaceOnUse" x1="518.1" y1="116.6" x2="516.9" y2="120.5"><stop offset="0" stop-color="#00ff14"/><stop offset="0.522" stop-color="#0f0"/><stop offset="1" stop-color="#12ff00"/></linearGradient><linearGradient id="s328" gradientUnits="userSpaceOnUse" x1="462.6" y1="117.6" x2="462.9" y2="119.4"><stop offset="0" stop-color="#00ff2a"/><stop offset="0.541" stop-color="#0f0"/><stop offset="1" stop-color="#24ff00"/></linearGradient><linearGradient id="s329" gradientUnits="userSpaceOnUse" x1="579.1" y1="137.7" x2="567.0" y2="137.8"><stop offset="0" stop-color="#00ffec"/><stop offset="1" stop-color="#00ffa2"/></linearGradient><linearGradient id="s330" gradientUnits="userSpaceOnUse" x1="598.2" y1="152.1" x2="585.3" y2="149.3"><stop offset="0" stop-color="#0080ff"/><stop offset="1" stop-color="#00e0ff"/></linearGradient><linearGradient id="s331" gradientUnits="userSpaceOnUse" x1="474.8" y1="116.5" x2="475.0" y2="118.9"><stop offset="0" stop-color="#00ff0d"/><stop offset="0.183" stop-color="#0f0"/><stop offset="1" stop-color="#39ff00"/></linearGradient><linearGradient id="s332" gradientUnits="userSpaceOnUse" x1="566.2" y1="131.4" x2="555.6" y2="133.9"><stop offset="0" stop-color="#00ffa2"/><stop offset="1" stop-color="#00ff64"/></linearGradient><linearGradient id="s333" gradientUnits="userSpaceOnUse" x1="444.3" y1="121.0" x2="444.5" y2="122.0"><stop offset="0" stop-color="#00ff3f"/><stop offset="0.683" stop-color="#0f0"/><stop offset="1" stop-color="#1dff00"/></linearGradient><linearGradient id="s334" gradientUnits="userSpaceOnUse" x1="604.9" y1="160.2" x2="591.8" y2="156.8"><stop offset="0" stop-color="#003cff"/><stop offset="1" stop-color="#00a7ff"/></linearGradient><linearGradient id="s335" gradientUnits="userSpaceOnUse" x1="585.9" y1="144.9" x2="573.3" y2="143.8"><stop offset="0" stop-color="#00e0ff"/><stop offset="0.361" stop-color="#0ff"/><stop offset="1" stop-color="#00ffc9"/></linearGradient><linearGradient id="s336" gradientUnits="userSpaceOnUse" x1="487.0" y1="116.1" x2="487.1" y2="119.2"><stop offset="0" stop-color="#05ff00"/><stop offset="1" stop-color="#41ff00"/></linearGradient><linearGradient id="s337" gradientUnits="userSpaceOnUse" x1="552.5" y1="126.2" x2="544.7" y2="130.4"><stop offset="0" stop-color="#00ff64"/><stop offset="1" stop-color="#00ff31"/></linearGradient><linearGradient id="s338" gradientUnits="userSpaceOnUse" x1="499.5" y1="116.6" x2="499.1" y2="120.1"><stop offset="0" stop-color="#0cff00"/><stop offset="1" stop-color="#3eff00"/></linearGradient><linearGradient id="s339" gradientUnits="userSpaceOnUse" x1="538.4" y1="122.5" x2="534.2" y2="126.9"><stop offset="0" stop-color="#00ff31"/><stop offset="1" stop-color="#00ff09"/></linearGradient><linearGradient id="s340" gradientUnits="userSpaceOnUse" x1="611.5" y1="168.8" x2="598.3" y2="164.9"><stop offset="0" stop-color="#00f"/><stop offset="0.135" stop-color="#00f"/><stop offset="1" stop-color="#06f"/></linearGradient><linearGradient id="s341" gradientUnits="userSpaceOnUse" x1="512.1" y1="117.8" x2="511.1" y2="121.7"><stop offset="0" stop-color="#06ff00"/><stop offset="1" stop-color="#30ff00"/></linearGradient><linearGradient id="s342" gradientUnits="userSpaceOnUse" x1="524.8" y1="120.1" x2="522.9" y2="123.7"><stop offset="0" stop-color="#00ff0a"/><stop offset="0.329" stop-color="#0f0"/><stop offset="1" stop-color="#15ff00"/></linearGradient><linearGradient id="s343" gradientUnits="userSpaceOnUse" x1="456.4" y1="119.2" x2="456.6" y2="120.7"><stop offset="0" stop-color="#00ff14"/><stop offset="0.242" stop-color="#0f0"/><stop offset="1" stop-color="#3eff00"/></linearGradient><linearGradient id="s344" gradientUnits="userSpaceOnUse" x1="573.3" y1="138.1" x2="561.6" y2="139.1"><stop offset="0" stop-color="#00ffc9"/><stop offset="1" stop-color="#00ff80"/></linearGradient><linearGradient id="s345" gradientUnits="userSpaceOnUse" x1="592.7" y1="152.5" x2="579.8" y2="150.5"><stop offset="0" stop-color="#00a7ff"/><stop offset="0.922" stop-color="#0ff"/><stop offset="1" stop-color="#00fff8"/></linearGradient><linearGradient id="s346" gradientUnits="userSpaceOnUse" x1="618.2" y1="177.9" x2="604.8" y2="173.5"><stop offset="0" stop-color="#00f"/><stop offset="0.782" stop-color="#00f"/><stop offset="1" stop-color="#001cff"/></linearGradient><linearGradient id="s347" gradientUnits="userSpaceOnUse" x1="468.6" y1="118.0" x2="468.8" y2="120.2"><stop offset="0" stop-color="#0bff00"/><stop offset="1" stop-color="#54ff00"/></linearGradient><linearGradient id="s348" gradientUnits="userSpaceOnUse" x1="438.0" y1="122.6" x2="438.2" y2="123.4"><stop offset="0" stop-color="#00ff28"/><stop offset="0.42" stop-color="#0f0"/><stop offset="1" stop-color="#37ff00"/></linearGradient><linearGradient id="s349" gradientUnits="userSpaceOnUse" x1="560.0" y1="132.0" x2="550.3" y2="135.2"><stop offset="0" stop-color="#00ff80"/><stop offset="1" stop-color="#00ff42"/></linearGradient><linearGradient id="s350" gradientUnits="userSpaceOnUse" x1="480.9" y1="117.6" x2="480.9" y2="120.4"><stop offset="0" stop-color="#1eff00"/><stop offset="1" stop-color="#5eff00"/></linearGradient><linearGradient id="s351" gradientUnits="userSpaceOnUse" x1="599.4" y1="160.6" x2="586.3" y2="157.8"><stop offset="0" stop-color="#06f"/><stop offset="1" stop-color="#00cfff"/></linearGradient><linearGradient id="s352" gradientUnits="userSpaceOnUse" x1="580.2" y1="145.3" x2="567.8" y2="145.0"><stop offset="0" stop-color="#00fff8"/><stop offset="1" stop-color="#00ffa4"/></linearGradient><linearGradient id="s353" gradientUnits="userSpaceOnUse" x1="546.1" y1="127.1" x2="539.5" y2="131.6"><stop offset="0" stop-color="#00ff42"/><stop offset="1" stop-color="#0f1"/></linearGradient><linearGradient id="s354" gradientUnits="userSpaceOnUse" x1="493.4" y1="117.9" x2="493.1" y2="121.3"><stop offset="0" stop-color="#26ff00"/><stop offset="1" stop-color="#5cff00"/></linearGradient><linearGradient id="s355" gradientUnits="userSpaceOnUse" x1="532.1" y1="123.7" x2="528.7" y2="127.9"><stop offset="0" stop-color="#0f1"/><stop offset="0.436" stop-color="#0f0"/><stop offset="1" stop-color="#15ff00"/></linearGradient><linearGradient id="s356" gradientUnits="userSpaceOnUse" x1="450.1" y1="120.7" x2="450.3" y2="122.1"><stop offset="0" stop-color="#04ff00"/><stop offset="1" stop-color="#5aff00"/></linearGradient><linearGradient id="s357" gradientUnits="userSpaceOnUse" x1="506.0" y1="119.1" x2="505.1" y2="122.9"><stop offset="0" stop-color="#2f0"/><stop offset="1" stop-color="#4fff00"/></linearGradient><linearGradient id="s358" gradientUnits="userSpaceOnUse" x1="518.8" y1="121.2" x2="517.1" y2="124.9"><stop offset="0" stop-color="#12ff00"/><stop offset="1" stop-color="#36ff00"/></linearGradient><linearGradient id="s359" gradientUnits="userSpaceOnUse" x1="606.1" y1="169.2" x2="592.8" y2="165.7"><stop offset="0" stop-color="#001cff"/><stop offset="1" stop-color="#0090ff"/></linearGradient><linearGradient id="s360" gradientUnits="userSpaceOnUse" x1="567.3" y1="138.6" x2="556.1" y2="140.4"><stop offset="0" stop-color="#00ffa4"/><stop offset="1" stop-color="#00ff5c"/></linearGradient><linearGradient id="s361" gradientUnits="userSpaceOnUse" x1="587.1" y1="152.9" x2="574.2" y2="151.6"><stop offset="0" stop-color="#00cfff"/><stop offset="0.505" stop-color="#0ff"/><stop offset="1" stop-color="#00ffd0"/></linearGradient><linearGradient id="s362" gradientUnits="userSpaceOnUse" x1="462.3" y1="119.4" x2="462.5" y2="121.5"><stop offset="0" stop-color="#24ff00"/><stop offset="1" stop-color="#70ff00"/></linearGradient><linearGradient id="s363" gradientUnits="userSpaceOnUse" x1="612.8" y1="178.2" x2="599.4" y2="174.3"><stop offset="0" stop-color="#00f"/><stop offset="0.424" stop-color="#00f"/><stop offset="1" stop-color="#0049ff"/></linearGradient><linearGradient id="s364" gradientUnits="userSpaceOnUse" x1="431.6" y1="124.2" x2="431.7" y2="124.8"><stop offset="0" stop-color="#00ff10"/><stop offset="0.163" stop-color="#0f0"/><stop offset="1" stop-color="#53ff00"/></linearGradient><linearGradient id="s365" gradientUnits="userSpaceOnUse" x1="553.8" y1="132.7" x2="544.9" y2="136.4"><stop offset="0" stop-color="#00ff5c"/><stop offset="1" stop-color="#00ff20"/></linearGradient><linearGradient id="s366" gradientUnits="userSpaceOnUse" x1="474.7" y1="118.9" x2="474.8" y2="121.6"><stop offset="0" stop-color="#39ff00"/><stop offset="1" stop-color="#7cff00"/></linearGradient><linearGradient id="s367" gradientUnits="userSpaceOnUse" x1="593.8" y1="160.9" x2="580.7" y2="158.7"><stop offset="0" stop-color="#0090ff"/><stop offset="1" stop-color="#00f9ff"/></linearGradient><linearGradient id="s368" gradientUnits="userSpaceOnUse" x1="539.8" y1="128.0" x2="534.1" y2="132.6"><stop offset="0" stop-color="#00ff20"/><stop offset="0.656" stop-color="#0f0"/><stop offset="1" stop-color="#1f0"/></linearGradient><linearGradient id="s369" gradientUnits="userSpaceOnUse" x1="574.4" y1="145.6" x2="562.3" y2="146.2"><stop offset="0" stop-color="#00ffd0"/><stop offset="1" stop-color="#00ff7e"/></linearGradient><linearGradient id="s370" gradientUnits="userSpaceOnUse" x1="487.2" y1="119.2" x2="487.0" y2="122.4"><stop offset="0" stop-color="#41ff00"/><stop offset="1" stop-color="#7bff00"/></linearGradient><linearGradient id="s371" gradientUnits="userSpaceOnUse" x1="443.7" y1="122.1" x2="443.9" y2="123.3"><stop offset="0" stop-color="#1dff00"/><stop offset="1" stop-color="#76ff00"/></linearGradient><linearGradient id="s372" gradientUnits="userSpaceOnUse" x1="525.9" y1="124.9" x2="523.1" y2="128.7"><stop offset="0" stop-color="#1f0"/><stop offset="1" stop-color="#36ff00"/></linearGradient><linearGradient id="s373" gradientUnits="userSpaceOnUse" x1="499.9" y1="120.3" x2="499.1" y2="123.9"><stop offset="0" stop-color="#3eff00"/><stop offset="1" stop-color="#6fff00"/></linearGradient><linearGradient id="s374" gradientUnits="userSpaceOnUse" x1="512.7" y1="122.3" x2="511.2" y2="126.0"><stop offset="0" stop-color="#30ff00"/><stop offset="1" stop-color="#57ff00"/></linearGradient><linearGradient id="s375" gradientUnits="userSpaceOnUse" x1="600.6" y1="169.4" x2="587.3" y2="166.5"><stop offset="0" stop-color="#0049ff"/><stop offset="1" stop-color="#00bcff"/></linearGradient><linearGradient id="s376" gradientUnits="userSpaceOnUse" x1="561.2" y1="139.0" x2="550.7" y2="141.6"><stop offset="0" stop-color="#00ff7e"/><stop offset="1" stop-color="#00ff37"/></linearGradient><linearGradient id="s377" gradientUnits="userSpaceOnUse" x1="456.0" y1="120.8" x2="456.2" y2="122.6"><stop offset="0" stop-color="#3eff00"/><stop offset="1" stop-color="#8eff00"/></linearGradient><linearGradient id="s378" gradientUnits="userSpaceOnUse" x1="581.3" y1="153.2" x2="568.7" y2="152.6"><stop offset="0" stop-color="#00f9ff"/><stop offset="0.0651" stop-color="#0ff"/><stop offset="1" stop-color="#00ffa8"/></linearGradient><linearGradient id="s379" gradientUnits="userSpaceOnUse" x1="607.4" y1="178.3" x2="593.9" y2="175.0"><stop offset="0" stop-color="#00f"/><stop offset="0.0507" stop-color="#00f"/><stop offset="1" stop-color="#07f"/></linearGradient><linearGradient id="s380" gradientUnits="userSpaceOnUse" x1="547.5" y1="133.3" x2="539.5" y2="137.4"><stop offset="0" stop-color="#00ff37"/><stop offset="0.936" stop-color="#0f0"/><stop offset="1" stop-color="#04ff00"/></linearGradient><linearGradient id="s381" gradientUnits="userSpaceOnUse" x1="468.4" y1="120.2" x2="468.5" y2="122.7"><stop offset="0" stop-color="#54ff00"/><stop offset="1" stop-color="#9bff00"/></linearGradient><linearGradient id="s382" gradientUnits="userSpaceOnUse" x1="533.4" y1="128.9" x2="528.6" y2="133.4"><stop offset="0" stop-color="#04ff00"/><stop offset="1" stop-color="#3f0"/></linearGradient><linearGradient id="s383" gradientUnits="userSpaceOnUse" x1="481.0" y1="120.4" x2="480.8" y2="123.5"><stop offset="0" stop-color="#5eff00"/><stop offset="1" stop-color="#9bff00"/></linearGradient><linearGradient id="s384" gradientUnits="userSpaceOnUse" x1="588.2" y1="161.1" x2="575.2" y2="159.6"><stop offset="0" stop-color="#00bcff"/><stop offset="0.646" stop-color="#0ff"/><stop offset="1" stop-color="#00ffda"/></linearGradient><linearGradient id="s385" gradientUnits="userSpaceOnUse" x1="568.4" y1="146.0" x2="556.8" y2="147.2"><stop offset="0" stop-color="#00ffa8"/><stop offset="1" stop-color="#00ff57"/></linearGradient><linearGradient id="s386" gradientUnits="userSpaceOnUse" x1="437.3" y1="123.6" x2="437.5" y2="124.5"><stop offset="0" stop-color="#37ff00"/><stop offset="1" stop-color="#94ff00"/></linearGradient><linearGradient id="s387" gradientUnits="userSpaceOnUse" x1="519.6" y1="126.0" x2="517.3" y2="129.5"><stop offset="0" stop-color="#3f0"/><stop offset="1" stop-color="#57ff00"/></linearGradient><linearGradient id="s388" gradientUnits="userSpaceOnUse" x1="493.7" y1="121.4" x2="493.0" y2="124.9"><stop offset="0" stop-color="#5cff00"/><stop offset="1" stop-color="#90ff00"/></linearGradient><linearGradient id="s389" gradientUnits="userSpaceOnUse" x1="506.5" y1="123.3" x2="505.2" y2="127.0"><stop offset="0" stop-color="#4fff00"/><stop offset="1" stop-color="#79ff00"/></linearGradient><linearGradient id="s390" gradientUnits="userSpaceOnUse" x1="555.0" y1="139.4" x2="545.2" y2="142.6"><stop offset="0" stop-color="#00ff57"/><stop offset="1" stop-color="#0f1"/></linearGradient><linearGradient id="s391" gradientUnits="userSpaceOnUse" x1="595.0" y1="169.6" x2="581.7" y2="167.3"><stop offset="0" stop-color="#07f"/><stop offset="1" stop-color="#00e9ff"/></linearGradient><linearGradient id="s392" gradientUnits="userSpaceOnUse" x1="449.6" y1="122.1" x2="449.8" y2="123.8"><stop offset="0" stop-color="#5aff00"/><stop offset="1" stop-color="#adff00"/></linearGradient><linearGradient id="s393" gradientUnits="userSpaceOnUse" x1="575.5" y1="153.4" x2="563.1" y2="153.5"><stop offset="0" stop-color="#00ffda"/><stop offset="1" stop-color="#00ff7f"/></linearGradient><linearGradient id="s394" gradientUnits="userSpaceOnUse" x1="541.1" y1="134.0" x2="534.0" y2="138.3"><stop offset="0" stop-color="#0f1"/><stop offset="0.299" stop-color="#0f0"/><stop offset="1" stop-color="#29ff00"/></linearGradient><linearGradient id="s395" gradientUnits="userSpaceOnUse" x1="462.1" y1="121.5" x2="462.1" y2="123.8"><stop offset="0" stop-color="#70ff00"/><stop offset="1" stop-color="#bf0"/></linearGradient><linearGradient id="s396" gradientUnits="userSpaceOnUse" x1="601.8" y1="178.5" x2="588.3" y2="175.6"><stop offset="0" stop-color="#002aff"/><stop offset="1" stop-color="#00a7ff"/></linearGradient><linearGradient id="s397" gradientUnits="userSpaceOnUse" x1="527.0" y1="129.9" x2="522.9" y2="134.2"><stop offset="0" stop-color="#29ff00"/><stop offset="1" stop-color="#57ff00"/></linearGradient><linearGradient id="s398" gradientUnits="userSpaceOnUse" x1="474.7" y1="121.6" x2="474.5" y2="124.5"><stop offset="0" stop-color="#7cff00"/><stop offset="1" stop-color="#bcff00"/></linearGradient><linearGradient id="s399" gradientUnits="userSpaceOnUse" x1="562.3" y1="146.2" x2="551.2" y2="148.2"><stop offset="0" stop-color="#00ff7f"/><stop offset="1" stop-color="#00ff2e"/></linearGradient><linearGradient id="s400" gradientUnits="userSpaceOnUse" x1="582.4" y1="161.3" x2="569.5" y2="160.4"><stop offset="0" stop-color="#00e9ff"/><stop offset="0.212" stop-color="#0ff"/><stop offset="1" stop-color="#00ffae"/></linearGradient><linearGradient id="s401" gradientUnits="userSpaceOnUse" x1="513.3" y1="127.0" x2="511.3" y2="130.4"><stop offset="0" stop-color="#57ff00"/><stop offset="1" stop-color="#7cff00"/></linearGradient><linearGradient id="s402" gradientUnits="userSpaceOnUse" x1="487.4" y1="122.5" x2="486.8" y2="125.9"><stop offset="0" stop-color="#7bff00"/><stop offset="1" stop-color="#b2ff00"/></linearGradient><linearGradient id="s403" gradientUnits="userSpaceOnUse" x1="500.3" y1="124.3" x2="499.1" y2="127.9"><stop offset="0" stop-color="#6fff00"/><stop offset="1" stop-color="#9dff00"/></linearGradient><linearGradient id="s404" gradientUnits="userSpaceOnUse" x1="443.2" y1="123.4" x2="443.3" y2="124.8"><stop offset="0" stop-color="#76ff00"/><stop offset="1" stop-color="#cdff00"/></linearGradient><linearGradient id="s405" gradientUnits="userSpaceOnUse" x1="548.7" y1="139.9" x2="539.7" y2="143.5"><stop offset="0" stop-color="#00ff2e"/><stop offset="0.68" stop-color="#0f0"/><stop offset="1" stop-color="#16ff00"/></linearGradient><linearGradient id="s406" gradientUnits="userSpaceOnUse" x1="589.3" y1="169.7" x2="576.1" y2="168.0"><stop offset="0" stop-color="#00a7ff"/><stop offset="0.782" stop-color="#0ff"/><stop offset="1" stop-color="#00ffe6"/></linearGradient><linearGradient id="s407" gradientUnits="userSpaceOnUse" x1="569.5" y1="153.6" x2="557.5" y2="154.4"><stop offset="0" stop-color="#00ffae"/><stop offset="1" stop-color="#00ff54"/></linearGradient><linearGradient id="s408" gradientUnits="userSpaceOnUse" x1="455.7" y1="122.7" x2="455.7" y2="124.7"><stop offset="0" stop-color="#8eff00"/><stop offset="1" stop-color="#dcff00"/></linearGradient><linearGradient id="s409" gradientUnits="userSpaceOnUse" x1="534.7" y1="134.6" x2="528.5" y2="139.1"><stop offset="0" stop-color="#16ff00"/><stop offset="1" stop-color="#4fff00"/></linearGradient><linearGradient id="s410" gradientUnits="userSpaceOnUse" x1="596.2" y1="178.5" x2="582.7" y2="176.2"><stop offset="0" stop-color="#005cff"/><stop offset="1" stop-color="#00d7ff"/></linearGradient><linearGradient id="s411" gradientUnits="userSpaceOnUse" x1="468.3" y1="122.7" x2="468.2" y2="125.4"><stop offset="0" stop-color="#9bff00"/><stop offset="1" stop-color="#dfff00"/></linearGradient><linearGradient id="s412" gradientUnits="userSpaceOnUse" x1="520.6" y1="130.8" x2="517.2" y2="134.8"><stop offset="0" stop-color="#4fff00"/><stop offset="1" stop-color="#7cff00"/></linearGradient><linearGradient id="s413" gradientUnits="userSpaceOnUse" x1="481.1" y1="123.5" x2="480.6" y2="126.7"><stop offset="0" stop-color="#9bff00"/><stop offset="1" stop-color="#d6ff00"/></linearGradient><linearGradient id="s414" gradientUnits="userSpaceOnUse" x1="507.0" y1="127.8" x2="505.2" y2="131.3"><stop offset="0" stop-color="#79ff00"/><stop offset="1" stop-color="#a2ff00"/></linearGradient><linearGradient id="s415" gradientUnits="userSpaceOnUse" x1="556.2" y1="146.5" x2="545.6" y2="149.1"><stop offset="0" stop-color="#00ff54"/><stop offset="1" stop-color="#00ff05"/></linearGradient><linearGradient id="s416" gradientUnits="userSpaceOnUse" x1="494.0" y1="125.2" x2="492.9" y2="128.7"><stop offset="0" stop-color="#90ff00"/><stop offset="1" stop-color="#c2ff00"/></linearGradient><linearGradient id="s417" gradientUnits="userSpaceOnUse" x1="576.5" y1="161.4" x2="563.9" y2="161.2"><stop offset="0" stop-color="#00ffe6"/><stop offset="1" stop-color="#00ff81"/></linearGradient><linearGradient id="s418" gradientUnits="userSpaceOnUse" x1="542.3" y1="140.3" x2="534.1" y2="144.3"><stop offset="0" stop-color="#00ff05"/><stop offset="0.0735" stop-color="#0f0"/><stop offset="1" stop-color="#3eff00"/></linearGradient><linearGradient id="s419" gradientUnits="userSpaceOnUse" x1="583.5" y1="169.7" x2="570.4" y2="168.6"><stop offset="0" stop-color="#00d7ff"/><stop offset="0.355" stop-color="#0ff"/><stop offset="1" stop-color="#00ffb7"/></linearGradient><linearGradient id="s420" gradientUnits="userSpaceOnUse" x1="449.2" y1="123.8" x2="449.2" y2="125.7"><stop offset="0" stop-color="#adff00"/><stop offset="1" stop-color="#feff00"/></linearGradient><linearGradient id="s421" gradientUnits="userSpaceOnUse" x1="563.4" y1="153.7" x2="551.8" y2="155.2"><stop offset="0" stop-color="#00ff81"/><stop offset="1" stop-color="#00ff28"/></linearGradient><linearGradient id="s422" gradientUnits="userSpaceOnUse" x1="528.2" y1="135.3" x2="522.8" y2="139.8"><stop offset="0" stop-color="#3eff00"/><stop offset="1" stop-color="#76ff00"/></linearGradient><linearGradient id="s423" gradientUnits="userSpaceOnUse" x1="461.8" y1="123.7" x2="461.7" y2="126.2"><stop offset="0" stop-color="#bf0"/><stop offset="0.951" stop-color="#ff0"/><stop offset="1" stop-color="#fffb00"/></linearGradient><linearGradient id="s424" gradientUnits="userSpaceOnUse" x1="514.2" y1="131.6" x2="511.3" y2="135.4"><stop offset="0" stop-color="#76ff00"/><stop offset="1" stop-color="#a2ff00"/></linearGradient><linearGradient id="s425" gradientUnits="userSpaceOnUse" x1="590.5" y1="178.5" x2="577.1" y2="176.7"><stop offset="0" stop-color="#008fff"/><stop offset="0.916" stop-color="#0ff"/><stop offset="1" stop-color="#00fff5"/></linearGradient><linearGradient id="s426" gradientUnits="userSpaceOnUse" x1="474.7" y1="124.5" x2="474.2" y2="127.5"><stop offset="0" stop-color="#bcff00"/><stop offset="1" stop-color="#fbff00"/></linearGradient><linearGradient id="s427" gradientUnits="userSpaceOnUse" x1="500.7" y1="128.6" x2="499.1" y2="132.1"><stop offset="0" stop-color="#9dff00"/><stop offset="1" stop-color="#c9ff00"/></linearGradient><linearGradient id="s428" gradientUnits="userSpaceOnUse" x1="487.7" y1="126.1" x2="486.7" y2="129.5"><stop offset="0" stop-color="#b2ff00"/><stop offset="1" stop-color="#e8ff00"/></linearGradient><linearGradient id="s429" gradientUnits="userSpaceOnUse" x1="549.9" y1="146.7" x2="540.0" y2="149.8"><stop offset="0" stop-color="#00ff28"/><stop offset="0.514" stop-color="#0f0"/><stop offset="1" stop-color="#26ff00"/></linearGradient><linearGradient id="s430" gradientUnits="userSpaceOnUse" x1="570.6" y1="161.4" x2="558.2" y2="161.9"><stop offset="0" stop-color="#00ffb7"/><stop offset="1" stop-color="#00ff53"/></linearGradient><linearGradient id="s431" gradientUnits="userSpaceOnUse" x1="535.9" y1="140.7" x2="528.5" y2="145.0"><stop offset="0" stop-color="#26ff00"/><stop offset="1" stop-color="#68ff00"/></linearGradient><linearGradient id="s432" gradientUnits="userSpaceOnUse" x1="577.6" y1="169.6" x2="564.7" y2="169.2"><stop offset="0" stop-color="#00fff5"/><stop offset="1" stop-color="#00ff86"/></linearGradient><linearGradient id="s433" gradientUnits="userSpaceOnUse" x1="557.2" y1="153.8" x2="546.1" y2="155.9"><stop offset="0" stop-color="#00ff53"/><stop offset="0.941" stop-color="#0f0"/><stop offset="1" stop-color="#05ff00"/></linearGradient><linearGradient id="s434" gradientUnits="userSpaceOnUse" x1="521.7" y1="135.9" x2="517.0" y2="140.3"><stop offset="0" stop-color="#68ff00"/><stop offset="1" stop-color="#9eff00"/></linearGradient><linearGradient id="s435" gradientUnits="userSpaceOnUse" x1="455.3" y1="124.7" x2="455.2" y2="127.0"><stop offset="0" stop-color="#dcff00"/><stop offset="0.465" stop-color="#ff0"/><stop offset="1" stop-color="#ffd700"/></linearGradient><linearGradient id="s436" gradientUnits="userSpaceOnUse" x1="507.7" y1="132.4" x2="505.3" y2="135.9"><stop offset="0" stop-color="#9eff00"/><stop offset="1" stop-color="#c9ff00"/></linearGradient><linearGradient id="s437" gradientUnits="userSpaceOnUse" x1="468.2" y1="125.4" x2="467.8" y2="128.3"><stop offset="0" stop-color="#dfff00"/><stop offset="0.486" stop-color="#ff0"/><stop offset="1" stop-color="#fd0"/></linearGradient><linearGradient id="s438" gradientUnits="userSpaceOnUse" x1="584.6" y1="178.3" x2="571.3" y2="177.1"><stop offset="0" stop-color="#00c3ff"/><stop offset="0.494" stop-color="#0ff"/><stop offset="1" stop-color="#00ffc2"/></linearGradient><linearGradient id="s439" gradientUnits="userSpaceOnUse" x1="494.4" y1="129.3" x2="492.9" y2="132.7"><stop offset="0" stop-color="#c2ff00"/><stop offset="1" stop-color="#f1ff00"/></linearGradient><linearGradient id="s440" gradientUnits="userSpaceOnUse" x1="481.2" y1="126.9" x2="480.4" y2="130.2"><stop offset="0" stop-color="#d6ff00"/><stop offset="0.719" stop-color="#ff0"/><stop offset="1" stop-color="#ffef00"/></linearGradient><linearGradient id="s441" gradientUnits="userSpaceOnUse" x1="543.5" y1="146.9" x2="534.3" y2="150.5"><stop offset="0" stop-color="#05ff00"/><stop offset="1" stop-color="#52ff00"/></linearGradient><linearGradient id="s442" gradientUnits="userSpaceOnUse" x1="564.5" y1="161.4" x2="552.5" y2="162.5"><stop offset="0" stop-color="#00ff86"/><stop offset="1" stop-color="#00ff24"/></linearGradient><linearGradient id="s443" gradientUnits="userSpaceOnUse" x1="529.3" y1="141.1" x2="522.7" y2="145.5"><stop offset="0" stop-color="#52ff00"/><stop offset="1" stop-color="#93ff00"/></linearGradient><linearGradient id="s444" gradientUnits="userSpaceOnUse" x1="571.6" y1="169.5" x2="559.0" y2="169.7"><stop offset="0" stop-color="#00ffc2"/><stop offset="1" stop-color="#0f5"/></linearGradient><linearGradient id="s445" gradientUnits="userSpaceOnUse" x1="551.0" y1="153.8" x2="540.4" y2="156.5"><stop offset="0" stop-color="#00ff24"/><stop offset="0.409" stop-color="#0f0"/><stop offset="1" stop-color="#3f0"/></linearGradient><linearGradient id="s446" gradientUnits="userSpaceOnUse" x1="515.1" y1="136.5" x2="511.1" y2="140.7"><stop offset="0" stop-color="#93ff00"/><stop offset="1" stop-color="#c8ff00"/></linearGradient><linearGradient id="s447" gradientUnits="userSpaceOnUse" x1="501.2" y1="133.1" x2="499.1" y2="136.4"><stop offset="0" stop-color="#c8ff00"/><stop offset="1" stop-color="#f2ff00"/></linearGradient><linearGradient id="s448" gradientUnits="userSpaceOnUse" x1="461.6" y1="126.2" x2="461.3" y2="128.9"><stop offset="0" stop-color="#fffb00"/><stop offset="1" stop-color="#ffb600"/></linearGradient><linearGradient id="s449" gradientUnits="userSpaceOnUse" x1="487.9" y1="129.9" x2="486.6" y2="133.3"><stop offset="0" stop-color="#e8ff00"/><stop offset="0.456" stop-color="#ff0"/><stop offset="1" stop-color="#ffe300"/></linearGradient><linearGradient id="s450" gradientUnits="userSpaceOnUse" x1="474.7" y1="127.6" x2="474.0" y2="130.8"><stop offset="0" stop-color="#fbff00"/><stop offset="0.0666" stop-color="#ff0"/><stop offset="1" stop-color="#ffc700"/></linearGradient><linearGradient id="s451" gradientUnits="userSpaceOnUse" x1="578.7" y1="178.2" x2="565.6" y2="177.5"><stop offset="0" stop-color="#00f9ff"/><stop offset="0.0531" stop-color="#0ff"/><stop offset="1" stop-color="#00ff8e"/></linearGradient><linearGradient id="s452" gradientUnits="userSpaceOnUse" x1="537.0" y1="147.1" x2="528.6" y2="151.0"><stop offset="0" stop-color="#3f0"/><stop offset="1" stop-color="#7fff00"/></linearGradient><linearGradient id="s453" gradientUnits="userSpaceOnUse" x1="558.3" y1="161.3" x2="546.7" y2="163.0"><stop offset="0" stop-color="#0f5"/><stop offset="0.866" stop-color="#0f0"/><stop offset="1" stop-color="#0dff00"/></linearGradient><linearGradient id="s454" gradientUnits="userSpaceOnUse" x1="522.8" y1="141.5" x2="516.9" y2="145.9"><stop offset="0" stop-color="#7fff00"/><stop offset="1" stop-color="#beff00"/></linearGradient><linearGradient id="s455" gradientUnits="userSpaceOnUse" x1="508.5" y1="137.1" x2="505.1" y2="141.1"><stop offset="0" stop-color="#beff00"/><stop offset="1" stop-color="#f2ff00"/></linearGradient><linearGradient id="s456" gradientUnits="userSpaceOnUse" x1="565.5" y1="169.3" x2="553.2" y2="170.1"><stop offset="0" stop-color="#00ff8e"/><stop offset="1" stop-color="#00ff21"/></linearGradient><linearGradient id="s457" gradientUnits="userSpaceOnUse" x1="544.6" y1="153.8" x2="534.6" y2="156.9"><stop offset="0" stop-color="#0dff00"/><stop offset="1" stop-color="#63ff00"/></linearGradient><linearGradient id="s458" gradientUnits="userSpaceOnUse" x1="494.7" y1="133.6" x2="492.8" y2="136.9"><stop offset="0" stop-color="#f1ff00"/><stop offset="0.306" stop-color="#ff0"/><stop offset="1" stop-color="#ffe000"/></linearGradient><linearGradient id="s459" gradientUnits="userSpaceOnUse" x1="481.4" y1="130.5" x2="480.2" y2="133.8"><stop offset="0" stop-color="#ffef00"/><stop offset="1" stop-color="#ffb900"/></linearGradient><linearGradient id="s460" gradientUnits="userSpaceOnUse" x1="468.1" y1="128.3" x2="467.5" y2="131.3"><stop offset="0" stop-color="#fd0"/><stop offset="1" stop-color="#ff9d00"/></linearGradient><linearGradient id="s461" gradientUnits="userSpaceOnUse" x1="572.7" y1="177.9" x2="559.8" y2="177.8"><stop offset="0" stop-color="#00ffcf"/><stop offset="1" stop-color="#00ff58"/></linearGradient><linearGradient id="s462" gradientUnits="userSpaceOnUse" x1="530.4" y1="147.2" x2="522.7" y2="151.4"><stop offset="0" stop-color="#63ff00"/><stop offset="1" stop-color="#adff00"/></linearGradient><linearGradient id="s463" gradientUnits="userSpaceOnUse" x1="552.0" y1="161.2" x2="540.9" y2="163.4"><stop offset="0" stop-color="#00ff21"/><stop offset="0.348" stop-color="#0f0"/><stop offset="1" stop-color="#3fff00"/></linearGradient><linearGradient id="s464" gradientUnits="userSpaceOnUse" x1="516.1" y1="141.8" x2="511.0" y2="146.2"><stop offset="0" stop-color="#adff00"/><stop offset="1" stop-color="#ecff00"/></linearGradient><linearGradient id="s465" gradientUnits="userSpaceOnUse" x1="501.9" y1="137.6" x2="499.0" y2="141.3"><stop offset="0" stop-color="#ecff00"/><stop offset="0.382" stop-color="#ff0"/><stop offset="1" stop-color="#ffe000"/></linearGradient><linearGradient id="s466" gradientUnits="userSpaceOnUse" x1="538.1" y1="153.8" x2="528.8" y2="157.3"><stop offset="0" stop-color="#3fff00"/><stop offset="1" stop-color="#94ff00"/></linearGradient><linearGradient id="s467" gradientUnits="userSpaceOnUse" x1="559.3" y1="169.1" x2="547.3" y2="170.4"><stop offset="0" stop-color="#00ff58"/><stop offset="0.825" stop-color="#0f0"/><stop offset="1" stop-color="#13ff00"/></linearGradient><linearGradient id="s468" gradientUnits="userSpaceOnUse" x1="488.1" y1="134.1" x2="486.4" y2="137.3"><stop offset="0" stop-color="#ffe300"/><stop offset="1" stop-color="#ffb200"/></linearGradient><linearGradient id="s469" gradientUnits="userSpaceOnUse" x1="474.8" y1="131.0" x2="473.7" y2="134.3"><stop offset="0" stop-color="#ffc700"/><stop offset="1" stop-color="#ff8d00"/></linearGradient><linearGradient id="s470" gradientUnits="userSpaceOnUse" x1="523.8" y1="147.4" x2="516.8" y2="151.7"><stop offset="0" stop-color="#94ff00"/><stop offset="1" stop-color="#df0"/></linearGradient><linearGradient id="s471" gradientUnits="userSpaceOnUse" x1="566.6" y1="177.6" x2="553.9" y2="178.0"><stop offset="0" stop-color="#00ff97"/><stop offset="1" stop-color="#0f2"/></linearGradient><linearGradient id="s472" gradientUnits="userSpaceOnUse" x1="545.6" y1="161.0" x2="535.0" y2="163.7"><stop offset="0" stop-color="#13ff00"/><stop offset="1" stop-color="#72ff00"/></linearGradient><linearGradient id="s473" gradientUnits="userSpaceOnUse" x1="509.4" y1="142.1" x2="504.9" y2="146.4"><stop offset="0" stop-color="#df0"/><stop offset="0.561" stop-color="#ff0"/><stop offset="1" stop-color="#ffe400"/></linearGradient><linearGradient id="s474" gradientUnits="userSpaceOnUse" x1="495.2" y1="138.0" x2="492.7" y2="141.5"><stop offset="0" stop-color="#ffe400"/><stop offset="1" stop-color="#ffb200"/></linearGradient><linearGradient id="s475" gradientUnits="userSpaceOnUse" x1="531.5" y1="153.7" x2="522.8" y2="157.5"><stop offset="0" stop-color="#72ff00"/><stop offset="1" stop-color="#c5ff00"/></linearGradient><linearGradient id="s476" gradientUnits="userSpaceOnUse" x1="553.0" y1="168.8" x2="541.4" y2="170.6"><stop offset="0" stop-color="#0f2"/><stop offset="0.318" stop-color="#0f0"/><stop offset="1" stop-color="#48ff00"/></linearGradient><linearGradient id="s477" gradientUnits="userSpaceOnUse" x1="481.5" y1="134.4" x2="480.0" y2="137.7"><stop offset="0" stop-color="#ffb900"/><stop offset="1" stop-color="#ff8400"/></linearGradient><linearGradient id="s478" gradientUnits="userSpaceOnUse" x1="517.1" y1="147.5" x2="510.8" y2="151.8"><stop offset="0" stop-color="#c5ff00"/><stop offset="0.801" stop-color="#ff0"/><stop offset="1" stop-color="#fff100"/></linearGradient><linearGradient id="s479" gradientUnits="userSpaceOnUse" x1="560.4" y1="177.2" x2="547.9" y2="178.1"><stop offset="0" stop-color="#00ff5e"/><stop offset="0.81" stop-color="#0f0"/><stop offset="1" stop-color="#16ff00"/></linearGradient><linearGradient id="s480" gradientUnits="userSpaceOnUse" x1="539.1" y1="160.8" x2="529.0" y2="163.9"><stop offset="0" stop-color="#48ff00"/><stop offset="1" stop-color="#a6ff00"/></linearGradient><linearGradient id="s481" gradientUnits="userSpaceOnUse" x1="502.7" y1="142.4" x2="498.7" y2="146.5"><stop offset="0" stop-color="#fff100"/><stop offset="1" stop-color="#ffb500"/></linearGradient><linearGradient id="s482" gradientUnits="userSpaceOnUse" x1="488.5" y1="138.3" x2="486.3" y2="141.6"><stop offset="0" stop-color="#ffb500"/><stop offset="1" stop-color="#ff8400"/></linearGradient><linearGradient id="s483" gradientUnits="userSpaceOnUse" x1="524.8" y1="153.6" x2="516.8" y2="157.7"><stop offset="0" stop-color="#a6ff00"/><stop offset="1" stop-color="#f8ff00"/></linearGradient><linearGradient id="s484" gradientUnits="userSpaceOnUse" x1="546.6" y1="168.4" x2="535.4" y2="170.7"><stop offset="0" stop-color="#16ff00"/><stop offset="1" stop-color="#7fff00"/></linearGradient><linearGradient id="s485" gradientUnits="userSpaceOnUse" x1="510.3" y1="147.5" x2="504.7" y2="151.9"><stop offset="0" stop-color="#f8ff00"/><stop offset="0.0925" stop-color="#ff0"/><stop offset="1" stop-color="#ffbf00"/></linearGradient><linearGradient id="s486" gradientUnits="userSpaceOnUse" x1="554.0" y1="176.7" x2="541.9" y2="178.1"><stop offset="0" stop-color="#00ff24"/><stop offset="0.313" stop-color="#0f0"/><stop offset="1" stop-color="#4fff00"/></linearGradient><linearGradient id="s487" gradientUnits="userSpaceOnUse" x1="532.5" y1="160.5" x2="523.0" y2="163.9"><stop offset="0" stop-color="#7fff00"/><stop offset="1" stop-color="#dcff00"/></linearGradient><linearGradient id="s488" gradientUnits="userSpaceOnUse" x1="495.8" y1="142.6" x2="492.4" y2="146.5"><stop offset="0" stop-color="#ffbf00"/><stop offset="1" stop-color="#ff8400"/></linearGradient><linearGradient id="s489" gradientUnits="userSpaceOnUse" x1="518.0" y1="153.5" x2="510.7" y2="157.7"><stop offset="0" stop-color="#dcff00"/><stop offset="0.437" stop-color="#ff0"/><stop offset="1" stop-color="#ffd100"/></linearGradient><linearGradient id="s490" gradientUnits="userSpaceOnUse" x1="540.1" y1="168.0" x2="529.3" y2="170.7"><stop offset="0" stop-color="#4fff00"/><stop offset="1" stop-color="#b6ff00"/></linearGradient><linearGradient id="s491" gradientUnits="userSpaceOnUse" x1="503.5" y1="147.5" x2="498.5" y2="151.8"><stop offset="0" stop-color="#ffd100"/><stop offset="1" stop-color="#ff8c00"/></linearGradient><linearGradient id="s492" gradientUnits="userSpaceOnUse" x1="547.6" y1="176.2" x2="535.9" y2="178.1"><stop offset="0" stop-color="#17ff00"/><stop offset="1" stop-color="#89ff00"/></linearGradient><linearGradient id="s493" gradientUnits="userSpaceOnUse" x1="525.7" y1="160.2" x2="516.9" y2="163.9"><stop offset="0" stop-color="#b6ff00"/><stop offset="0.792" stop-color="#ff0"/><stop offset="1" stop-color="#ffec00"/></linearGradient><linearGradient id="s494" gradientUnits="userSpaceOnUse" x1="511.2" y1="153.3" x2="504.5" y2="157.6"><stop offset="0" stop-color="#ffec00"/><stop offset="1" stop-color="#ff9c00"/></linearGradient><linearGradient id="s495" gradientUnits="userSpaceOnUse" x1="533.4" y1="167.6" x2="523.2" y2="170.6"><stop offset="0" stop-color="#89ff00"/><stop offset="1" stop-color="#efff00"/></linearGradient><linearGradient id="s496" gradientUnits="userSpaceOnUse" x1="541.0" y1="175.6" x2="529.7" y2="177.9"><stop offset="0" stop-color="#54ff00"/><stop offset="1" stop-color="#c5ff00"/></linearGradient><linearGradient id="s497" gradientUnits="userSpaceOnUse" x1="518.9" y1="159.8" x2="510.7" y2="163.8"><stop offset="0" stop-color="#efff00"/><stop offset="0.173" stop-color="#ff0"/><stop offset="1" stop-color="#ffb400"/></linearGradient><linearGradient id="s498" gradientUnits="userSpaceOnUse" x1="526.7" y1="167.0" x2="517.0" y2="170.4"><stop offset="0" stop-color="#c5ff00"/><stop offset="0.579" stop-color="#ff0"/><stop offset="1" stop-color="#ffd400"/></linearGradient><linearGradient id="s499" gradientUnits="userSpaceOnUse" x1="534.3" y1="174.9" x2="523.5" y2="177.6"><stop offset="0" stop-color="#91ff00"/><stop offset="0.982" stop-color="#ff0"/><stop offset="1" stop-color="#fffd00"/></linearGradient></defs>
<rect width="685" height="400" fill="#fff"/>
<g shape-rendering="crispEdges"><rect x="50.4" y="21.4" width="290" height="2.6" fill="url(#r0)"/><rect x="50.4" y="23.4" width="290" height="2.6" fill="url(#r1)"/><rect x="50.4" y="25.4" width="290" height="2.6" fill="url(#r2)"/><rect x="50.4" y="27.4" width="290" height="2.6" fill="url(#r3)"/><rect x="50.4" y="29.4" width="290" height="2.6" fill="url(#r4)"/><rect x="50.4" y="31.4" width="290" height="2.6" fill="url(#r5)"/><rect x="50.4" y="33.4" width="290" height="2.6" fill="url(#r6)"/><rect x="50.4" y="35.4" width="290" height="2.6" fill="url(#r7)"/><rect x="50.4" y="37.4" width="290" height="2.6" fill="url(#r8)"/><rect x="50.4" y="39.4" width="290" height="2.6" fill="url(#r9)"/><rect x="50.4" y="41.4" width="290" height="2.6" fill="url(#r10)"/><rect x="50.4" y="43.4" width="290" height="2.6" fill="url(#r11)"/><rect x="50.4" y="45.4" width="290" height="2.6" fill="url(#r12)"/><rect x="50.4" y="47.4" width="290" height="2.6" fill="url(#r13)"/><rect x="50.4" y="49.4" width="290" height="2.6" fill="url(#r14)"/><rect x="50.4" y="51.4" width="290" height="2.6" fill="url(#r15)"/><rect x="50.4" y="53.4" width="290" height="2.6" fill="url(#r16)"/><rect x="50.4" y="55.4" width="290" height="2.6" fill="url(#r17)"/><rect x="50.4" y="57.4" width="290" height="2.6" fill="url(#r18)"/><rect x="50.4" y="59.4" width="290" height="2.6" fill="url(#r19)"/><rect x="50.4" y="61.4" width="290" height="2.6" fill="url(#r20)"/><rect x="50.4" y="63.4" width="290" height="2.6" fill="url(#r21)"/><rect x="50.4" y="65.4" width="290" height="2.6" fill="url(#r22)"/><rect x="50.4" y="67.4" width="290" height="2.6" fill="url(#r23)"/><rect x="50.4" y="69.4" width="290" height="2.6" fill="url(#r24)"/><rect x="50.4" y="71.4" width="290" height="2.6" fill="url(#r25)"/><rect x="50.4" y="73.4" width="290" height="2.6" fill="url(#r26)"/><rect x="50.4" y="75.4" width="290" height="2.6" fill="url(#r27)"/><rect x="50.4" y="77.4" width="290" height="2.6" fill="url(#r28)"/><rect x="50.4" y="79.4" width="290" height="2.6" fill="url(#r29)"/><rect x="50.4" y="81.4" width="290" height="2.6" fill="url(#r30)"/><rect x="50.4" y="83.4" width="290" height="2.6" fill="url(#r31)"/><rect x="50.4" y="85.4" width="290" height="2.6" fill="url(#r32)"/><rect x="50.4" y="87.4" width="290" height="2.6" fill="url(#r33)"/><rect x="50.4" y="89.4" width="290" height="2.6" fill="url(#r34)"/><rect x="50.4" y="91.4" width="290" height="2.6" fill="url(#r35)"/><rect x="50.4" y="93.4" width="290" height="2.6" fill="url(#r36)"/><rect x="50.4" y="95.4" width="290" height="2.6" fill="url(#r37)"/><rect x="50.4" y="97.4" width="290" height="2.6" fill="url(#r38)"/><rect x="50.4" y="99.4" width="290" height="2.6" fill="url(#r39)"/><rect x="50.4" y="101.4" width="290" height="2.6" fill="url(#r40)"/><rect x="50.4" y="103.4" width="290" height="2.6" fill="url(#r41)"/><rect x="50.4" y="105.4" width="290" height="2.6" fill="url(#r42)"/><rect x="50.4" y="107.4" width="290" height="2.6" fill="url(#r43)"/><rect x="50.4" y="109.4" width="290" height="2.6" fill="url(#r44)"/><rect x="50.4" y="111.4" width="290" height="2.6" fill="url(#r45)"/><rect x="50.4" y="113.4" width="290" height="2.6" fill="url(#r46)"/><rect x="50.4" y="115.4" width="290" height="2.6" fill="url(#r47)"/><rect x="50.4" y="117.4" width="290" height="2.6" fill="url(#r48)"/><rect x="50.4" y="119.4" width="290" height="2.6" fill="url(#r49)"/><rect x="50.4" y="121.4" width="290" height="2.6" fill="url(#r50)"/><rect x="50.4" y="123.4" width="290" height="2.6" fill="url(#r51)"/><rect x="50.4" y="125.4" width="290" height="2.6" fill="url(#r52)"/><rect x="50.4" y="127.4" width="290" height="2.6" fill="url(#r53)"/><rect x="50.4" y="129.4" width="290" height="2.6" fill="url(#r54)"/><rect x="50.4" y="131.4" width="290" height="2.6" fill="url(#r55)"/><rect x="50.4" y="133.4" width="290" height="2.6" fill="url(#r56)"/><rect x="50.4" y="135.4" width="290" height="2.6" fill="url(#r57)"/><rect x="50.4" y="137.4" width="290" height="2.6" fill="url(#r58)"/><rect x="50.4" y="139.4" width="290" height="2.6" fill="url(#r59)"/><rect x="50.4" y="141.4" width="290" height="2.6" fill="url(#r60)"/><rect x="50.4" y="143.4" width="290" height="2.6" fill="url(#r61)"/><rect x="50.4" y="145.4" width="290" height="2.6" fill="url(#r62)"/><rect x="50.4" y="147.4" width="290" height="2.6" fill="url(#r63)"/><rect x="50.4" y="149.4" width="290" height="2.6" fill="url(#r64)"/><rect x="50.4" y="151.4" width="290" height="2.6" fill="url(#r65)"/><rect x="50.4" y="153.4" width="290" height="2.6" fill="url(#r66)"/><rect x="50.4" y="155.4" width="290" height="2.6" fill="url(#r67)"/><rect x="50.4" y="157.4" width="290" height="2.6" fill="url(#r68)"/><rect x="50.4" y="159.4" width="290" height="2.6" fill="url(#r69)"/><rect x="50.4" y="161.4" width="290" height="2.6" fill="url(#r70)"/><rect x="50.4" y="163.4" width="290" height="2.6" fill="url(#r71)"/><rect x="50.4" y="165.4" width="290" height="2.6" fill="url(#r72)"/><rect x="50.4" y="167.4" width="290" height="2.6" fill="url(#r73)"/><rect x="50.4" y="169.4" width="290" height="2.6" fill="url(#r74)"/><rect x="50.4" y="171.4" width="290" height="2.6" fill="url(#r75)"/><rect x="50.4" y="173.4" width="290" height="2.6" fill="url(#r76)"/><rect x="50.4" y="175.4" width="290" height="2.6" fill="url(#r77)"/><rect x="50.4" y="177.4" width="290" height="2.6" fill="url(#r78)"/><rect x="50.4" y="179.4" width="290" height="2.6" fill="url(#r79)"/><rect x="50.4" y="181.4" width="290" height="2.6" fill="url(#r80)"/><rect x="50.4" y="183.4" width="290" height="2.6" fill="url(#r81)"/><rect x="50.4" y="185.4" width="290" height="2.6" fill="url(#r82)"/><rect x="50.4" y="187.4" width="290" height="2.6" fill="url(#r83)"/><rect x="50.4" y="189.4" width="290" height="2.6" fill="url(#r84)"/><rect x="50.4" y="191.4" width="290" height="2.6" fill="url(#r85)"/><rect x="50.4" y="193.4" width="290" height="2.6" fill="url(#r86)"/><rect x="50.4" y="195.4" width="290" height="2.6" fill="url(#r87)"/><rect x="50.4" y="197.4" width="290" height="2.6" fill="url(#r88)"/><rect x="50.4" y="199.4" width="290" height="2.6" fill="url(#r89)"/><rect x="50.4" y="201.4" width="290" height="2.6" fill="url(#r90)"/><rect x="50.4" y="203.4" width="290" height="2.6" fill="url(#r91)"/><rect x="50.4" y="205.4" width="290" height="2.6" fill="url(#r92)"/><rect x="50.4" y="207.4" width="290" height="2.6" fill="url(#r93)"/><rect x="50.4" y="209.4" width="290" height="2.6" fill="url(#r94)"/><rect x="50.4" y="211.4" width="290" height="2.6" fill="url(#r95)"/><rect x="50.4" y="213.4" width="290" height="2.6" fill="url(#r96)"/><rect x="50.4" y="215.4" width="290" height="2.6" fill="url(#r97)"/><rect x="50.4" y="217.4" width="290" height="2.6" fill="url(#r98)"/><rect x="50.4" y="219.4" width="290" height="2.6" fill="url(#r99)"/><rect x="50.4" y="221.4" width="290" height="2.6" fill="url(#r100)"/><rect x="50.4" y="223.4" width="290" height="2.6" fill="url(#r101)"/><rect x="50.4" y="225.4" width="290" height="2.6" fill="url(#r102)"/><rect x="50.4" y="227.4" width="290" height="2.6" fill="url(#r103)"/><rect x="50.4" y="229.4" width="290" height="2.6" fill="url(#r104)"/><rect x="50.4" y="231.4" width="290" height="2.6" fill="url(#r105)"/><rect x="50.4" y="233.4" width="290" height="2.6" fill="url(#r106)"/><rect x="50.4" y="235.4" width="290" height="2.6" fill="url(#r107)"/><rect x="50.4" y="237.4" width="290" height="2.6" fill="url(#r108)"/><rect x="50.4" y="239.4" width="290" height="2.6" fill="url(#r109)"/><rect x="50.4" y="241.4" width="290" height="2.6" fill="url(#r110)"/><rect x="50.4" y="243.4" width="290" height="2.6" fill="url(#r111)"/><rect x="50.4" y="245.4" width="290" height="2.6" fill="url(#r112)"/><rect x="50.4" y="247.4" width="290" height="2.6" fill="url(#r113)"/><rect x="50.4" y="249.4" width="290" height="2.6" fill="url(#r114)"/><rect x="50.4" y="251.4" width="290" height="2.6" fill="url(#r115)"/><rect x="50.4" y="253.4" width="290" height="2.6" fill="url(#r116)"/><rect x="50.4" y="255.4" width="290" height="2.6" fill="url(#r117)"/><rect x="50.4" y="257.4" width="290" height="2.6" fill="url(#r118)"/><rect x="50.4" y="259.4" width="290" height="2.6" fill="url(#r119)"/><rect x="50.4" y="261.4" width="290" height="2.6" fill="url(#r120)"/><rect x="50.4" y="263.4" width="290" height="2.6" fill="url(#r121)"/><rect x="50.4" y="265.4" width="290" height="2.6" fill="url(#r122)"/><rect x="50.4" y="267.4" width="290" height="2.6" fill="url(#r123)"/><rect x="50.4" y="269.4" width="290" height="2.6" fill="url(#r124)"/><rect x="50.4" y="271.4" width="290" height="2.6" fill="url(#r125)"/><rect x="50.4" y="273.4" width="290" height="2.6" fill="url(#r126)"/><rect x="50.4" y="275.4" width="290" height="2.6" fill="url(#r127)"/><rect x="50.4" y="277.4" width="290" height="2.6" fill="url(#r128)"/><rect x="50.4" y="279.4" width="290" height="2.6" fill="url(#r129)"/><rect x="50.4" y="281.4" width="290" height="2.6" fill="url(#r130)"/><rect x="50.4" y="283.4" width="290" height="2.6" fill="url(#r131)"/><rect x="50.4" y="285.4" width="290" height="2.6" fill="url(#r132)"/><rect x="50.4" y="287.4" width="290" height="2.6" fill="url(#r133)"/><rect x="50.4" y="289.4" width="290" height="2.6" fill="url(#r134)"/><rect x="50.4" y="291.4" width="290" height="2.6" fill="url(#r135)"/><rect x="50.4" y="293.4" width="290" height="1.5" fill="url(#r136)"/></g>
<path d="M276.0 294.9 L278.1 294.0 L279.5 293.4 L282.3 292.2 L283.9 291.5 L285.5 290.8 L288.2 289.7 L289.6 289.1 L292.1 288.1 L294.0 287.3 L295.5 286.7 L298.4 285.6 L299.8 285.0 L302.4 284.0 L304.1 283.3 L306.0 282.6 L308.5 281.6 L309.9 281.1 L312.8 280.0 L314.3 279.5 L317.0 278.5 L318.6 277.9 L320.8 277.1 L323.0 276.3 L324.7 275.8 L327.4 274.8 L328.8 274.3 L331.7 273.4 L333.1 272.9 L336.1 271.9 L337.5 271.5 L340.4 270.5 L340.4 270.5 M222.2 294.9 L224.4 293.7 L225.9 292.8 L227.3 292.0 L229.5 290.8 L231.7 289.6 L233.1 288.8 L234.6 288.1 L237.1 286.7 L238.9 285.7 L240.4 284.9 L242.2 284.0 L244.7 282.6 L246.2 281.9 L247.6 281.1 L250.0 279.9 L251.9 278.9 L253.4 278.1 L255.4 277.1 L257.8 275.9 L259.2 275.2 L260.9 274.4 L263.6 273.1 L265.0 272.4 L266.5 271.7 L269.3 270.3 L270.8 269.6 L272.2 268.9 L275.1 267.6 L276.6 266.9 L278.1 266.2 L280.9 264.9 L282.4 264.2 L284.2 263.4 L286.8 262.3 L288.2 261.7 L290.4 260.7 L292.5 259.8 L294.0 259.2 L296.9 258.0 L298.4 257.4 L300.2 256.6 L302.7 255.6 L304.1 255.0 L307.0 253.9 L308.5 253.3 L310.5 252.5 L312.8 251.6 L314.3 251.1 L317.2 250.0 L318.6 249.4 L321.5 248.4 L323.0 247.9 L325.4 247.0 L327.4 246.3 L329.3 245.7 L331.7 244.9 L333.4 244.3 L336.1 243.4 L337.5 242.9 L340.4 242.0 L340.4 242.0 M237.3 21.4 L234.6 21.7 L231.7 22.0 L228.8 22.3 L225.9 22.5 L223.1 22.8 L221.5 22.9 L218.6 23.1 L215.7 23.3 L212.8 23.5 L209.9 23.7 L207.0 23.9 L204.1 24.1 L202.7 24.1 L199.7 24.3 L196.9 24.4 L193.9 24.5 L191.1 24.6 L188.2 24.7 L185.2 24.8 L182.4 24.9 L179.4 25.0 L176.6 25.0 L173.7 25.0 L170.8 25.1 L167.9 25.1 L164.9 25.1 L162.0 25.1 L159.2 25.1 L156.2 25.1 L153.4 25.0 L150.4 25.0 L147.5 24.9 L144.7 24.9 L141.8 24.8 L138.9 24.7 L136.0 24.6 L133.0 24.5 L130.2 24.4 L127.2 24.3 L124.4 24.2 L122.4 24.1 L120.0 24.0 L117.1 23.9 L114.2 23.8 L111.3 23.6 L108.4 23.4 L105.5 23.3 L102.6 23.1 L99.7 22.9 L97.2 22.8 L95.3 22.6 L92.5 22.5 L89.5 22.3 L86.7 22.0 L83.8 21.8 L80.8 21.6 L78.1 21.4 L78.1 21.4 M174.5 294.9 L176.4 293.5 L178.0 292.4 L179.4 291.4 L180.9 290.4 L182.4 289.4 L184.2 288.1 L186.2 286.7 L188.2 285.3 L189.6 284.3 L191.1 283.3 L192.5 282.3 L194.1 281.2 L196.1 279.9 L198.2 278.5 L199.8 277.4 L201.2 276.4 L202.7 275.5 L204.2 274.4 L206.3 273.0 L208.3 271.7 L209.9 270.6 L211.4 269.7 L212.8 268.7 L214.6 267.6 L216.7 266.2 L218.6 264.9 L220.1 264.0 L221.5 263.1 L223.1 262.1 L225.2 260.7 L227.3 259.4 L228.8 258.5 L230.2 257.6 L231.7 256.6 L233.9 255.2 L236.0 254.0 L237.4 253.1 L238.9 252.2 L240.7 251.1 L242.9 249.8 L244.7 248.7 L246.2 247.9 L247.6 247.0 L249.9 245.7 L251.9 244.5 L253.4 243.6 L254.9 242.8 L257.0 241.6 L259.2 240.3 L260.6 239.5 L262.1 238.7 L264.4 237.5 L266.4 236.3 L267.9 235.5 L269.4 234.7 L272.0 233.4 L273.7 232.4 L275.1 231.7 L277.2 230.6 L279.5 229.5 L280.9 228.7 L282.6 227.9 L285.3 226.6 L286.8 225.8 L288.2 225.1 L291.0 223.8 L292.5 223.1 L294.0 222.4 L296.9 221.1 L298.4 220.4 L299.9 219.7 L302.7 218.5 L304.1 217.8 L306.2 217.0 L308.5 216.0 L309.9 215.4 L312.8 214.2 L314.3 213.6 L316.2 212.8 L318.6 211.9 L320.1 211.3 L323.0 210.2 L324.5 209.7 L327.1 208.7 L328.8 208.1 L331.0 207.4 L333.1 206.6 L335.0 206.0 L337.5 205.2 L339.3 204.6 L340.4 204.3 M340.4 37.0 L337.8 37.8 L336.1 38.4 L333.5 39.2 L331.7 39.7 L329.0 40.5 L327.4 41.0 L324.4 41.9 L323.0 42.3 L320.1 43.1 L318.6 43.4 L315.8 44.2 L313.9 44.6 L311.4 45.2 L308.5 45.9 L307.0 46.2 L304.1 46.9 L301.7 47.4 L299.8 47.8 L296.9 48.3 L294.7 48.8 L292.5 49.1 L289.6 49.6 L286.8 50.1 L285.3 50.4 L282.4 50.8 L279.5 51.2 L277.4 51.5 L275.1 51.8 L272.2 52.1 L269.3 52.5 L266.4 52.8 L265.0 52.9 L262.1 53.2 L259.2 53.5 L256.3 53.7 L253.4 53.9 L250.5 54.1 L249.0 54.2 L246.2 54.4 L243.3 54.5 L240.4 54.7 L237.4 54.8 L234.6 54.9 L231.7 55.0 L228.8 55.0 L225.9 55.1 L222.9 55.1 L220.1 55.1 L217.2 55.1 L214.3 55.1 L211.4 55.1 L208.4 55.1 L205.6 55.0 L202.7 54.9 L199.8 54.9 L196.9 54.8 L193.9 54.7 L191.1 54.6 L188.2 54.4 L185.2 54.3 L183.8 54.2 L180.9 54.1 L178.0 53.9 L175.1 53.7 L172.2 53.6 L169.3 53.4 L166.4 53.2 L163.5 53.0 L162.1 52.8 L159.2 52.6 L156.2 52.4 L153.4 52.2 L150.4 51.9 L147.5 51.7 L145.6 51.5 L143.2 51.3 L140.3 51.0 L137.4 50.7 L134.5 50.4 L131.6 50.1 L130.2 50.0 L127.2 49.7 L124.4 49.4 L121.5 49.1 L118.5 48.8 L117.1 48.6 L114.2 48.3 L111.3 47.9 L108.4 47.6 L106.6 47.4 L104.0 47.1 L101.2 46.7 L98.2 46.4 L95.4 46.0 L93.9 45.8 L91.0 45.5 L88.1 45.1 L85.2 44.7 L83.8 44.5 L80.8 44.1 L78.0 43.8 L75.0 43.4 L73.6 43.2 L70.7 42.8 L67.8 42.4 L64.9 42.0 L63.5 41.8 L60.5 41.4 L57.6 40.9 L54.8 40.5 L53.3 40.3 L50.4 39.9 L50.4 39.9 M131.2 294.9 L132.8 293.5 L134.3 292.2 L135.9 290.8 L137.4 289.5 L138.9 288.2 L140.3 286.9 L141.8 285.7 L143.2 284.4 L144.7 283.1 L146.1 281.9 L147.5 280.6 L149.0 279.3 L150.4 278.0 L151.9 276.8 L153.4 275.5 L154.8 274.2 L156.2 272.9 L157.7 271.7 L159.3 270.3 L160.8 268.9 L162.4 267.6 L163.9 266.2 L165.5 264.8 L167.0 263.4 L168.5 262.1 L170.1 260.7 L171.6 259.3 L173.2 258.0 L174.7 256.6 L176.3 255.2 L177.8 253.9 L179.4 252.5 L180.9 251.1 L182.4 249.8 L183.8 248.6 L185.2 247.3 L186.7 246.0 L188.2 244.7 L189.6 243.4 L191.1 242.1 L192.5 240.8 L193.9 239.5 L195.4 238.2 L196.9 236.9 L198.3 235.6 L199.8 234.3 L201.2 233.0 L202.7 231.7 L204.1 230.4 L205.6 229.1 L207.0 227.7 L208.4 226.4 L209.9 225.1 L211.4 223.8 L212.9 222.4 L214.4 221.1 L215.9 219.7 L217.4 218.3 L218.9 217.0 L220.4 215.6 L221.8 214.2 L223.3 212.8 L224.8 211.5 L226.3 210.1 L227.8 208.7 L229.2 207.4 L230.7 206.0 L232.2 204.6 L233.6 203.3 L235.1 201.9 L236.5 200.5 L238.0 199.2 L239.4 197.8 L240.9 196.4 L242.3 195.1 L243.7 193.7 L245.2 192.3 L246.6 191.0 L248.0 189.6 L249.4 188.2 L250.8 186.9 L252.1 185.5 L253.5 184.1 L254.9 182.8 L256.3 181.3 L257.7 179.9 L259.2 178.4 L260.6 176.9 L262.1 175.4 L263.6 173.8 L265.0 172.3 L266.4 170.7 L267.9 169.1 L269.1 167.7 L270.3 166.4 L271.5 165.0 L272.7 163.6 L273.8 162.3 L275.1 160.5 L276.6 158.7 L278.0 156.8 L279.0 155.4 L279.9 154.0 L280.9 152.4 L282.4 150.0 L283.2 148.6 L283.9 147.2 L284.9 144.5 L285.4 143.1 L286.0 140.4 L286.1 137.6 L285.7 134.9 L285.3 133.5 L283.9 130.8 L282.9 129.4 L281.8 128.1 L280.3 126.7 L278.7 125.3 L276.8 124.0 L275.1 122.9 L273.7 122.1 L272.2 121.2 L269.6 119.9 L267.9 119.1 L266.4 118.4 L263.6 117.2 L262.1 116.6 L260.1 115.8 L257.8 114.9 L256.3 114.3 L253.4 113.3 L251.9 112.8 L249.1 111.8 L247.6 111.3 L244.7 110.4 L243.3 110.0 L240.4 109.1 L238.9 108.6 L236.0 107.8 L234.6 107.3 L231.7 106.5 L230.2 106.1 L227.3 105.3 L225.7 104.8 L222.9 104.1 L220.8 103.4 L218.6 102.9 L215.7 102.1 L214.3 101.7 L211.4 101.0 L209.9 100.6 L207.0 99.8 L205.1 99.3 L202.7 98.7 L199.8 98.0 L198.3 97.6 L195.4 96.9 L193.9 96.5 L191.1 95.8 L188.8 95.2 L186.7 94.7 L183.8 94.0 L182.4 93.7 L179.4 93.0 L177.5 92.5 L175.1 91.9 L172.2 91.2 L170.8 90.9 L167.9 90.2 L166.0 89.8 L163.5 89.2 L160.6 88.5 L159.2 88.2 L156.2 87.5 L154.3 87.0 L151.9 86.5 L149.0 85.8 L147.5 85.5 L144.7 84.8 L142.5 84.3 L140.3 83.8 L137.4 83.1 L136.0 82.8 L133.0 82.1 L130.6 81.6 L128.7 81.1 L125.8 80.5 L124.4 80.2 L121.5 79.5 L118.5 78.8 L117.1 78.5 L114.2 77.9 L112.5 77.5 L109.9 76.9 L107.0 76.2 L105.5 75.9 L102.6 75.3 L100.3 74.7 L98.2 74.3 L95.3 73.6 L93.9 73.3 L91.0 72.7 L88.1 72.0 L86.7 71.7 L83.8 71.0 L81.9 70.6 L79.4 70.1 L76.5 69.4 L75.0 69.1 L72.2 68.5 L69.5 67.9 L67.8 67.5 L64.9 66.9 L63.3 66.5 L60.5 65.9 L57.6 65.3 L56.2 65.0 L53.3 64.3 L50.9 63.8 L50.4 63.7 M91.3 294.9 L92.6 293.5 L93.9 292.1 L95.3 290.5 L96.8 288.9 L98.2 287.4 L99.7 285.8 L101.2 284.2 L102.6 282.6 L103.8 281.2 L105.0 279.9 L106.2 278.5 L107.4 277.1 L108.7 275.8 L109.9 274.4 L111.3 272.7 L112.8 271.0 L114.2 269.4 L115.7 267.7 L116.9 266.2 L118.1 264.8 L119.2 263.4 L120.4 262.1 L121.5 260.7 L122.9 259.0 L124.4 257.2 L125.8 255.4 L127.0 253.9 L128.1 252.5 L129.2 251.1 L130.2 249.8 L131.6 248.0 L133.0 246.1 L134.4 244.3 L135.4 242.9 L136.4 241.6 L137.4 240.2 L138.9 238.2 L140.3 236.2 L141.3 234.7 L142.2 233.4 L143.2 231.9 L144.7 229.7 L145.9 227.9 L146.7 226.5 L147.6 225.2 L149.0 222.8 L150.1 221.1 L150.9 219.7 L151.9 217.9 L153.2 215.6 L153.9 214.2 L154.8 212.5 L156.0 210.1 L156.6 208.7 L157.7 206.4 L158.5 204.6 L159.2 203.0 L160.1 200.5 L160.6 199.2 L161.5 196.4 L162.0 194.8 L162.7 192.3 L163.4 189.6 L163.7 188.2 L164.2 185.5 L164.5 182.8 L164.7 180.0 L164.8 177.3 L164.7 174.6 L164.4 171.8 L164.0 169.1 L163.5 166.6 L163.1 165.0 L162.2 162.3 L161.7 160.9 L160.6 158.4 L159.8 156.8 L159.1 155.4 L157.7 153.1 L156.5 151.3 L155.6 149.9 L154.6 148.6 L153.4 147.1 L151.9 145.4 L150.4 143.8 L149.0 142.3 L147.5 140.8 L146.1 139.5 L144.7 138.2 L143.2 136.9 L141.8 135.7 L140.3 134.6 L138.9 133.5 L137.1 132.2 L135.2 130.8 L133.2 129.4 L131.6 128.4 L130.2 127.4 L128.7 126.5 L126.8 125.3 L124.5 124.0 L122.9 123.0 L121.5 122.2 L119.7 121.2 L117.2 119.9 L115.7 119.0 L114.2 118.3 L112.0 117.1 L109.9 116.1 L108.4 115.3 L106.4 114.4 L104.0 113.3 L102.6 112.6 L100.6 111.7 L98.2 110.6 L96.8 109.9 L94.5 108.9 L92.5 108.0 L91.0 107.4 L88.1 106.2 L86.7 105.6 L84.7 104.8 L82.3 103.8 L80.8 103.3 L78.0 102.1 L76.5 101.5 L74.4 100.7 L72.2 99.9 L70.7 99.3 L67.8 98.2 L66.3 97.7 L63.5 96.6 L62.0 96.1 L59.6 95.2 L57.6 94.5 L55.8 93.9 L53.3 93.0 L51.8 92.5 L50.4 92.0 M54.0 294.9 L55.1 293.5 L56.2 292.0 L57.6 290.1 L59.1 288.1 L60.2 286.7 L61.2 285.3 L62.1 284.0 L63.5 282.1 L64.9 280.1 L66.0 278.5 L66.9 277.1 L67.9 275.8 L69.2 273.7 L70.6 271.7 L71.5 270.3 L72.4 268.9 L73.6 267.0 L75.0 264.8 L75.8 263.4 L76.7 262.1 L77.9 260.0 L79.1 258.0 L79.9 256.6 L80.8 254.9 L82.2 252.5 L82.9 251.1 L83.8 249.6 L85.1 247.0 L85.8 245.7 L86.7 243.9 L87.8 241.6 L88.4 240.2 L89.5 237.6 L90.2 236.1 L91.0 234.1 L91.9 232.0 L92.5 230.4 L93.4 227.9 L93.9 226.3 L94.7 223.8 L95.4 221.6 L95.9 219.7 L96.6 217.0 L96.9 215.6 L97.4 212.8 L97.9 210.1 L98.2 207.6 L98.4 206.0 L98.6 203.3 L98.8 200.5 L98.8 197.8 L98.7 195.1 L98.5 192.3 L98.2 190.4 L97.9 188.2 L97.4 185.5 L96.8 182.9 L96.4 181.4 L95.5 178.7 L95.0 177.3 L93.9 174.6 L93.4 173.2 L92.5 171.3 L91.3 169.1 L90.6 167.7 L89.5 166.0 L88.1 163.7 L87.1 162.3 L86.2 160.9 L85.2 159.5 L83.8 157.7 L82.3 155.9 L80.8 154.3 L79.4 152.7 L78.1 151.3 L76.8 149.9 L75.4 148.6 L74.0 147.2 L72.5 145.8 L71.0 144.5 L69.4 143.1 L67.8 141.8 L66.3 140.6 L64.9 139.5 L63.5 138.4 L62.0 137.3 L60.5 136.2 L58.8 134.9 L56.8 133.5 L54.8 132.2 L53.3 131.2 L51.9 130.2 L50.4 129.3 L50.4 129.3" fill="none" stroke="#050505" stroke-width="1.15"/>
<path d="M49.9 21.5 H340.9 M50.5 21 V295.4" stroke="#0a0a0a" stroke-width="1" fill="none"/>
<path d="M340.7 21 V295.4" stroke="#0a0a18" stroke-width="0.9" fill="none"/>
<path d="M50.4 295.35 H340.9" stroke="#555" stroke-width="0.6" fill="none"/>
<text x="50.4" y="311" font-size="7.2" fill="#333" text-anchor="middle">5</text>
<text x="108.4" y="311" font-size="7.2" fill="#333" text-anchor="middle">7</text>
<text x="166.4" y="311" font-size="7.2" fill="#333" text-anchor="middle">9</text>
<text x="224.4" y="311" font-size="7.2" fill="#333" text-anchor="middle">11</text>
<text x="282.4" y="311" font-size="7.2" fill="#333" text-anchor="middle">13</text>
<text x="340.4" y="311" font-size="7.2" fill="#333" text-anchor="middle">15</text>
<text x="41" y="21.1" font-size="7.2" fill="#333" text-anchor="end">40</text>
<text x="41" y="75.8" font-size="7.2" fill="#333" text-anchor="end">33</text>
<text x="41" y="130.5" font-size="7.2" fill="#333" text-anchor="end">26</text>
<text x="41" y="185.2" font-size="7.2" fill="#333" text-anchor="end">19</text>
<text x="41" y="239.9" font-size="7.2" fill="#333" text-anchor="end">12</text>
<text x="41" y="294.6" font-size="7.2" fill="#333" text-anchor="end">5</text>
<path d="M50.5 295.3 V301.9 M108.5 295.3 V301.9 M166.5 295.3 V301.9 M224.5 295.3 V301.9 M282.5 295.3 V301.9 M340.5 295.3 V301.9 M43 21.5 H50.4 M43 76.2 H50.4 M43 130.9 H50.4 M43 185.6 H50.4 M43 240.3 H50.4 M43 295 H50.4" stroke="#111" stroke-width="1" fill="none"/>
<rect x="190" y="47.7" width="10" height="6.6" fill="#fff" stroke="#3a3a3a" stroke-width="0.8"/>
<text x="195" y="53.2" font-size="6" text-anchor="middle" font-family="Liberation Sans, sans-serif" fill="#222">20</text>
<rect x="280" y="133.7" width="10" height="6.6" fill="#fff" stroke="#3a3a3a" stroke-width="0.8"/>
<text x="285" y="139.2" font-size="6" text-anchor="middle" font-family="Liberation Sans, sans-serif" fill="#222">22</text>
<rect x="158" y="164.7" width="10" height="6.6" fill="#fff" stroke="#3a3a3a" stroke-width="0.8"/>
<text x="163" y="170.2" font-size="6" text-anchor="middle" font-family="Liberation Sans, sans-serif" fill="#222">24</text>
<rect x="92.5" y="199" width="10" height="6.6" fill="#fff" stroke="#3a3a3a" stroke-width="0.8"/>
<text x="97.5" y="204.5" font-size="6" text-anchor="middle" font-family="Liberation Sans, sans-serif" fill="#222">26</text>
<rect x="248" y="237.2" width="10" height="6.6" fill="#fff" stroke="#3a3a3a" stroke-width="0.8"/>
<text x="253" y="242.7" font-size="6" text-anchor="middle" font-family="Liberation Sans, sans-serif" fill="#222">20</text>
<rect x="273.5" y="260.2" width="10" height="6.6" fill="#fff" stroke="#3a3a3a" stroke-width="0.8"/>
<text x="278.5" y="265.7" font-size="6" text-anchor="middle" font-family="Liberation Sans, sans-serif" fill="#222">18</text>
<rect x="302" y="276.2" width="10" height="6.6" fill="#fff" stroke="#3a3a3a" stroke-width="0.8"/>
<text x="307" y="281.7" font-size="6" text-anchor="middle" font-family="Liberation Sans, sans-serif" fill="#222">16</text>
<circle cx="50.4" cy="294.9" r="2.4" fill="#c80000" stroke="#200" stroke-width="0.7"/>
<text x="55.1" y="292.3" font-size="7" fill="#321" fill-opacity="0.75">3</text>
<circle cx="50.4" cy="255.8" r="2.4" fill="#c80000" stroke="#200" stroke-width="0.7"/>
<text x="55.1" y="256.429" font-size="7" fill="#321" fill-opacity="0.75">3</text>
<circle cx="50.4" cy="216.8" r="2.4" fill="#c80000" stroke="#200" stroke-width="0.7"/>
<text x="55.1" y="217.357" font-size="7" fill="#321" fill-opacity="0.75">3</text>
<circle cx="50.4" cy="177.7" r="2.4" fill="#c80000" stroke="#200" stroke-width="0.7"/>
<text x="55.1" y="178.286" font-size="7" fill="#321" fill-opacity="0.75">3</text>
<circle cx="195.4" cy="216.8" r="2.4" fill="#c80000" stroke="#200" stroke-width="0.7"/>
<text x="191" y="219.057" font-size="7" fill="#111" fill-opacity="0.9" text-anchor="end">3</text>
<circle cx="195.4" cy="177.7" r="2.4" fill="#c80000" stroke="#200" stroke-width="0.7"/>
<text x="191" y="179.986" font-size="7" fill="#111" fill-opacity="0.9" text-anchor="end">3</text>
<circle cx="195.4" cy="138.6" r="2.4" fill="#c80000" stroke="#200" stroke-width="0.7"/>
<text x="191" y="140.914" font-size="7" fill="#111" fill-opacity="0.9" text-anchor="end">3</text>
<circle cx="195.4" cy="99.5" r="2.4" fill="#c80000" stroke="#200" stroke-width="0.7"/>
<text x="191" y="101.843" font-size="7" fill="#111" fill-opacity="0.9" text-anchor="end">3</text>
<circle cx="340.4" cy="138.6" r="2.4" fill="#c80000" stroke="#200" stroke-width="0.7"/>
<text x="336" y="140.914" font-size="7" fill="#111" fill-opacity="0.9" text-anchor="end">3</text>
<circle cx="340.4" cy="99.5" r="2.4" fill="#c80000" stroke="#200" stroke-width="0.7"/>
<text x="336" y="101.843" font-size="7" fill="#111" fill-opacity="0.9" text-anchor="end">2</text>
<circle cx="340.4" cy="60.5" r="2.4" fill="#c80000" stroke="#200" stroke-width="0.7"/>
<text x="336" y="62.7714" font-size="7" fill="#111" fill-opacity="0.9" text-anchor="end">2</text>
<circle cx="340.4" cy="21.4" r="2.4" fill="#c80000" stroke="#200" stroke-width="0.7"/>
<text x="336" y="27.9" font-size="7" fill="#111" fill-opacity="0.9" text-anchor="end">2</text>
<text x="195" y="15.8" class="b" font-size="15.8" text-anchor="middle">14D Compressive Strength (MPa)</text>
<text x="194.7" y="338.7" class="b" font-size="18" text-anchor="middle">A: EMS (%)</text>
<text transform="translate(14.4 156.3) rotate(-90)" class="b" font-size="17.5" text-anchor="middle">B: RHA (%)</text>
<text x="195.1" y="396.8" class="b" font-size="17" text-anchor="middle">(a)</text>
<text x="566" y="396.8" class="b" font-size="17.1" text-anchor="middle">(b)</text>
<path d="M399.0 188.7 L539.1 117.5 L670.6 194.0 M396.2 157.9 L538.9 88.2 L673.7 163.2 M393.3 127.1 L538.7 58.8 L676.7 132.4 M390.4 96.3 L538.6 29.4 L679.7 101.6 M387.5 65.5 L538.4 0.0 L682.8 70.8 M387.5 65.5 L402.5 225.7 M417.7 52.4 L427.0 174.5 M567.3 14.2 L565.4 132.8 M447.9 39.3 L455.1 160.3 M596.1 28.3 L591.7 148.1 M478.0 26.2 L483.1 146.0 M625.0 42.4 L618.0 163.4 M508.2 13.1 L511.1 131.8 M653.9 56.6 L644.3 178.7 M538.4 0.0 L539.3 152.8 M682.8 70.8 L667.0 231.0" stroke="#111" stroke-width="0.9" fill="none"/>
<circle cx="399.0" cy="188.7" r="1.3" fill="#000"/>
<text x="393.4" y="186.5" font-size="13.2" text-anchor="end">10</text>
<circle cx="396.2" cy="157.9" r="1.3" fill="#000"/>
<text x="390.6" y="155.7" font-size="13.2" text-anchor="end">15</text>
<circle cx="393.3" cy="127.1" r="1.3" fill="#000"/>
<text x="387.7" y="124.9" font-size="13.2" text-anchor="end">20</text>
<circle cx="390.4" cy="96.3" r="1.3" fill="#000"/>
<text x="384.8" y="94.1" font-size="13.2" text-anchor="end">25</text>
<circle cx="387.5" cy="65.5" r="1.3" fill="#000"/>
<text x="381.9" y="63.3" font-size="13.2" text-anchor="end">30</text>
<path d="M402.5 225.7 L529.5 321.3 L667.0 231.0 L539.3 152.8 Z" fill="#7c7c7c" stroke="#111" stroke-width="1" stroke-linejoin="round"/>
<path d="M640.0 248.8 L640.8 247.4 L641.5 246.0 L642.1 244.8 L642.8 243.5 L643.5 242.3 L644.2 241.1 L644.8 239.9 L645.5 238.7 L646.2 237.5 L647.1 236.0 L648.0 234.6 L648.7 233.4 L649.4 232.3 L650.1 231.1 L650.9 230.0 L651.9 228.4 L652.7 227.2 L653.5 226.1 L654.2 225.0 L655.0 223.9" fill="none" stroke="#00f" stroke-width="1.6" stroke-linecap="round"/>
<path d="M609.2 269.1 L609.5 268.0 L609.9 266.7 L610.4 265.3 L610.9 263.8 L611.4 262.4 L611.8 260.9 L612.3 259.7 L612.7 258.5 L613.1 257.3 L613.6 256.0 L614.1 254.6 L614.6 253.2 L615.2 251.8 L615.7 250.5 L616.2 249.1 L616.8 247.8 L617.3 246.4 L617.9 245.1 L618.4 243.9 L619.0 242.6 L619.5 241.4 L620.1 240.1 L620.7 238.9 L621.3 237.6 L621.9 236.3 L622.6 235.0 L623.2 233.7 L623.9 232.4 L624.6 231.2 L625.2 229.9 L625.9 228.8 L626.6 227.6 L627.2 226.4 L627.9 225.2 L628.6 224.1 L629.3 222.9 L630.2 221.5 L631.1 220.1 L631.8 219.0 L632.6 217.9 L633.3 216.8 L634.1 215.7 L635.2 214.1 L636.0 213.0 L636.4 212.5 M514.4 165.7 L513.3 166.6 L511.8 167.9 L510.6 168.7 L509.0 170.0 L507.9 170.8 L506.3 172.0 L505.1 172.8 L503.4 174.1 L501.7 175.3 L500.6 176.1 L498.8 177.3 L497.0 178.5 L495.8 179.3 L494.0 180.5 L492.2 181.7 L490.3 182.8 L488.7 183.9 L487.2 184.8 L485.3 185.9 L483.4 187.1 L481.4 188.3 L479.5 189.4 L477.5 190.5 L475.5 191.7 L473.5 192.8 L471.5 193.9 L469.9 194.8 L468.1 195.8 L466.7 196.6 L464.6 197.7 L462.5 198.8 L460.4 199.9 L458.3 201.0 L456.1 202.1 L454.0 203.2 L451.8 204.3 L449.6 205.4 L447.4 206.5 L445.2 207.6 L443.7 208.3 L441.5 209.4 L439.3 210.5 L437.0 211.6 L434.7 212.6 L433.0 213.5 L430.9 214.4 L428.6 215.5 L426.3 216.6 L424.0 217.7 L422.4 218.4 L420.1 219.4 L417.7 220.5 L415.4 221.6 L413.8 222.3 L411.4 223.4 L409.0 224.4 L407.4 225.1 L405.0 226.2 L404.2 226.6" fill="none" stroke="#00f" stroke-width="1.6" stroke-linecap="round"/>
<path d="M582.3 286.8 L582.5 285.8 L582.7 284.1 L582.9 282.6 L583.1 281.5 L583.3 279.8 L583.5 278.5 L583.7 277.2 L584.0 275.5 L584.1 274.3 L584.3 273.0 L584.6 271.4 L584.8 270.2 L585.0 268.9 L585.3 267.2 L585.5 266.1 L585.7 264.8 L585.9 263.2 L586.1 262.0 L586.4 260.8 L586.6 259.2 L586.9 257.9 L587.1 256.8 L587.4 255.2 L587.6 253.8 L587.8 252.8 L588.1 251.3 L588.4 249.8 L588.7 248.7 L588.9 247.5 L589.3 246.0 L589.5 244.6 L589.8 243.6 L590.1 242.2 L590.4 240.7 L590.7 239.5 L591.0 238.5 L591.3 237.1 L591.7 235.6 L592.1 234.4 L592.3 233.4 L592.7 232.1 L593.1 230.7 L593.5 229.3 L593.9 228.2 L594.2 227.1 L594.6 225.9 L595.0 224.5 L595.5 223.2 L596.0 221.9 L596.4 220.8 L596.8 219.7 L597.2 218.6 L597.7 217.3 L598.2 216.1 L598.8 214.8 L599.3 213.6 L599.9 212.3 L600.5 211.1 L601.1 209.9 L601.7 208.8 L602.3 207.6 L603.0 206.4 L603.7 205.3 L604.3 204.2 L605.0 203.1 L605.7 202.0 L606.6 200.7 L607.6 199.3 L608.4 198.3 L609.2 197.2 L610.0 196.2 L610.0 196.2 M556.0 163.1 L555.1 164.2 L553.9 165.4 L553.1 166.3 L552.2 167.3 L550.8 168.6 L549.9 169.5 L548.9 170.4 L547.5 171.7 L546.5 172.6 L544.9 173.9 L543.9 174.7 L542.3 176.0 L540.8 177.1 L539.5 178.0 L537.8 179.2 L536.1 180.4 L534.9 181.2 L533.1 182.4 L531.3 183.5 L529.4 184.7 L527.5 185.8 L525.6 186.9 L523.7 188.0 L521.7 189.1 L519.7 190.2 L517.7 191.3 L515.6 192.3 L513.6 193.4 L511.5 194.5 L509.4 195.5 L507.8 196.3 L505.9 197.2 L503.7 198.3 L501.5 199.3 L499.3 200.3 L497.9 201.0 L495.7 202.0 L493.4 203.0 L491.9 203.7 L489.7 204.7 L487.4 205.7 L485.5 206.6 L483.6 207.4 L481.3 208.4 L479.5 209.2 L477.5 210.0 L475.1 211.0 L473.6 211.7 L471.2 212.7 L468.9 213.7 L467.3 214.3 L464.9 215.3 L463.2 216.0 L460.9 217.0 L458.5 217.9 L456.9 218.6 L454.5 219.6 L452.9 220.2 L450.4 221.2 L448.2 222.1 L446.4 222.9 L443.9 223.9 L442.2 224.5 L439.8 225.5 L438.1 226.1 L435.6 227.1 L433.8 227.8 L431.5 228.8 L429.1 229.7 L427.3 230.4 L424.7 231.4 L423.0 232.1 L420.5 233.1 L418.8 233.7 L416.2 234.7 L415.4 235.0" fill="none" stroke="#00b1ff" stroke-width="1.6" stroke-linecap="round"/>
<path d="M557.8 303.0 L557.8 301.6 L557.8 300.1 L557.7 298.5 L557.7 297.3 L557.6 295.5 L557.6 294.4 L557.5 292.6 L557.5 291.4 L557.4 289.8 L557.3 288.3 L557.3 287.1 L557.2 285.3 L557.1 284.3 L557.0 282.5 L556.9 281.2 L556.8 279.9 L556.7 278.2 L556.6 277.2 L556.4 275.5 L556.3 274.1 L556.1 273.0 L555.9 271.3 L555.8 270.0 L555.6 268.7 L555.4 267.1 L555.2 265.9 L555.0 264.6 L554.8 263.0 L554.5 261.7 L554.3 260.6 L554.0 259.1 L553.7 257.5 L553.4 256.3 L553.1 255.2 L552.7 253.7 L552.3 252.3 L551.8 250.8 L551.4 249.6 L551.0 248.4 L550.5 247.2 L550.0 245.9 L549.4 244.6 L548.8 243.3 L548.1 241.9 L547.3 240.5 L546.2 238.9 L545.4 237.8 L544.5 236.6 L543.1 235.0 L542.0 234.0 L540.3 232.6 L538.4 231.3 L536.3 230.1 L534.5 229.2 L532.3 228.4 L530.6 227.8 L528.7 227.3 L526.6 226.9 L524.5 226.6 L522.7 226.4 L521.0 226.2 L518.5 226.1 L517.2 226.1 L514.6 226.1 L513.0 226.2 L511.0 226.3 L508.7 226.4 L506.8 226.6 L505.1 226.8 L503.2 227.0 L501.0 227.3 L498.9 227.6 L496.8 227.9 L494.7 228.2 L492.7 228.6 L490.7 229.0 L488.7 229.4 L486.7 229.8 L484.7 230.2 L482.7 230.6 L480.8 231.0 L478.8 231.5 L476.9 231.9 L474.9 232.4 L472.6 233.0 L470.2 233.6 L468.2 234.0 L466.3 234.5 L464.4 235.0 L462.5 235.5 L460.1 236.2 L457.8 236.8 L455.9 237.3 L454.0 237.8 L452.1 238.4 L449.4 239.1 L447.5 239.7 L445.6 240.2 L443.7 240.7 L440.9 241.6 L439.1 242.1 L437.2 242.7 L435.1 243.3 L432.5 244.0 L430.7 244.6 L428.8 245.2 L428.8 245.2" fill="none" stroke="#00ff58" stroke-width="1.6" stroke-linecap="round"/>
<path d="M534.6 318.3 L534.3 316.5 L534.0 315.0 L533.8 313.8 L533.5 312.1 L533.1 310.4 L532.8 308.8 L532.5 307.6 L532.2 306.2 L531.8 304.5 L531.4 302.9 L530.9 301.3 L530.6 300.0 L530.2 298.7 L529.8 297.2 L529.3 295.7 L528.7 294.1 L528.2 292.6 L527.6 291.1 L527.0 289.6 L526.4 288.2 L525.8 286.7 L525.1 285.3 L524.4 283.9 L523.7 282.6 L522.9 281.2 L521.8 279.5 L520.9 278.0 L520.0 276.7 L519.1 275.5 L517.6 273.7 L516.6 272.6 L515.0 270.9 L513.8 269.8 L512.1 268.3 L510.2 266.8 L508.2 265.5 L506.1 264.2 L504.6 263.4 L502.2 262.2 L500.6 261.5 L498.8 260.8 L496.3 260.0 L494.2 259.4 L492.2 258.9 L490.3 258.5 L488.5 258.2 L486.8 257.9 L484.5 257.6 L482.1 257.4 L480.6 257.2 L478.3 257.1 L476.3 257.0 L474.3 257.0 L472.2 257.0 L470.1 257.0 L468.4 257.0 L465.8 257.1 L464.0 257.2 L462.2 257.3 L459.7 257.5 L457.5 257.7 L455.8 257.9 L453.9 258.1 L451.6 258.4 L449.3 258.6 L447.1 258.9 L447.1 258.9" fill="none" stroke="#9dff00" stroke-width="1.6" stroke-linecap="round"/>
<circle cx="529.5" cy="321.3" r="1.3" fill="#000"/>
<text x="524.2" y="333.3" font-size="13" text-anchor="end">5</text>
<circle cx="504.1" cy="302.2" r="1.3" fill="#000"/>
<text x="498.8" y="314.2" font-size="13" text-anchor="end">12</text>
<circle cx="478.7" cy="283.1" r="1.3" fill="#000"/>
<text x="473.4" y="295.1" font-size="13" text-anchor="end">19</text>
<circle cx="453.3" cy="263.9" r="1.3" fill="#000"/>
<text x="448.0" y="275.9" font-size="13" text-anchor="end">26</text>
<circle cx="427.9" cy="244.8" r="1.3" fill="#000"/>
<text x="422.6" y="256.8" font-size="13" text-anchor="end">33</text>
<circle cx="402.5" cy="225.7" r="1.3" fill="#000"/>
<text x="397.2" y="237.7" font-size="13" text-anchor="end">40</text>
<text x="535.9" y="333.0" font-size="13">5</text>
<circle cx="557.0" cy="303.2" r="1.3" fill="#000"/>
<text x="563.4" y="314.9" font-size="13">7</text>
<circle cx="584.5" cy="285.2" r="1.3" fill="#000"/>
<text x="590.9" y="296.9" font-size="13">9</text>
<circle cx="612.0" cy="267.1" r="1.3" fill="#000"/>
<text x="618.4" y="278.8" font-size="13">11</text>
<circle cx="639.5" cy="249.1" r="1.3" fill="#000"/>
<text x="645.9" y="260.8" font-size="13">13</text>
<circle cx="667.0" cy="231.0" r="1.3" fill="#000"/>
<text x="673.4" y="242.7" font-size="13">15</text>
<circle cx="538.2" cy="64.6" r="2.7" fill="#ffc4c4" stroke="#733" stroke-width="0.7"/>
<g stroke="#000" stroke-width="0.4" stroke-linejoin="round"><path d="M539.6 67.6 544.7 64.2 539.0 64.6 534.0 68.1Z" fill="url(#s0)" stroke-opacity="0.54"/><path d="M534.5 70.9 539.6 67.6 534.0 68.1 528.9 71.5Z" fill="url(#s1)" stroke-opacity="0.52"/><path d="M529.3 74.2 534.5 70.9 528.9 71.5 523.7 74.9Z" fill="url(#s2)" stroke-opacity="0.51"/><path d="M545.3 67.5 550.4 64.3 544.7 64.2 539.6 67.6Z" fill="url(#s3)" stroke-opacity="0.58"/><path d="M524.2 77.4 529.3 74.2 523.7 74.9 518.6 78.2Z" fill="url(#s4)" stroke-opacity="0.49"/><path d="M540.2 70.7 545.3 67.5 539.6 67.6 534.5 70.9Z" fill="url(#s5)" stroke-opacity="0.56"/><path d="M519.0 80.6 524.2 77.4 518.6 78.2 513.4 81.5Z" fill="url(#s6)" stroke-opacity="0.47"/><path d="M535.0 73.9 540.2 70.7 534.5 70.9 529.3 74.2Z" fill="url(#s7)" stroke-opacity="0.55"/><path d="M551.1 68.0 556.2 64.8 550.4 64.3 545.3 67.5Z" fill="url(#s8)" stroke-opacity="0.62"/><path d="M513.7 83.7 519.0 80.6 513.4 81.5 508.2 84.8Z" fill="url(#s9)" stroke-opacity="0.45"/><path d="M529.8 77.0 535.0 73.9 529.3 74.2 524.2 77.4Z" fill="url(#s10)" stroke-opacity="0.53"/><path d="M546.0 71.1 551.1 68.0 545.3 67.5 540.2 70.7Z" fill="url(#s11)" stroke-opacity="0.6"/><path d="M508.4 86.8 513.7 83.7 508.2 84.8 502.9 88.0Z" fill="#00f" stroke-opacity="0.43"/><path d="M556.9 68.9 562.1 65.8 556.2 64.8 551.1 68.0Z" fill="url(#s12)" stroke-opacity="0.66"/><path d="M524.6 80.1 529.8 77.0 524.2 77.4 519.0 80.6Z" fill="url(#s13)" stroke-opacity="0.51"/><path d="M540.8 74.1 546.0 71.1 540.2 70.7 535.0 73.9Z" fill="url(#s14)" stroke-opacity="0.59"/><path d="M503.1 89.9 508.4 86.8 502.9 88.0 497.6 91.1Z" fill="#00f" stroke-opacity="0.41"/><path d="M551.8 71.8 556.9 68.9 551.1 68.0 546.0 71.1Z" fill="url(#s15)" stroke-opacity="0.64"/><path d="M519.3 83.1 524.6 80.1 519.0 80.6 513.7 83.7Z" fill="url(#s16)" stroke-opacity="0.49"/><path d="M535.6 77.1 540.8 74.1 535.0 73.9 529.8 77.0Z" fill="url(#s17)" stroke-opacity="0.57"/><path d="M562.9 70.3 568.0 67.3 562.1 65.8 556.9 68.9Z" fill="url(#s18)" stroke-opacity="0.7"/><path d="M497.8 92.9 503.1 89.9 497.6 91.1 492.3 94.3Z" fill="#00f" stroke-opacity="0.39"/><path d="M546.6 74.8 551.8 71.8 546.0 71.1 540.8 74.1Z" fill="url(#s19)" stroke-opacity="0.63"/><path d="M514.0 86.1 519.3 83.1 513.7 83.7 508.4 86.8Z" fill="url(#s20)" stroke-opacity="0.47"/><path d="M530.3 80.1 535.6 77.1 529.8 77.0 524.6 80.1Z" fill="url(#s21)" stroke-opacity="0.55"/><path d="M557.7 73.1 562.9 70.3 556.9 68.9 551.8 71.8Z" fill="url(#s22)" stroke-opacity="0.68"/><path d="M492.4 95.8 497.8 92.9 492.3 94.3 486.9 97.3Z" fill="#00f" stroke-opacity="0.37"/><path d="M541.4 77.7 546.6 74.8 540.8 74.1 535.6 77.1Z" fill="url(#s23)" stroke-opacity="0.61"/><path d="M508.7 89.0 514.0 86.1 508.4 86.8 503.1 89.9Z" fill="url(#s24)" stroke-opacity="0.45"/><path d="M525.0 83.0 530.3 80.1 524.6 80.1 519.3 83.1Z" fill="url(#s25)" stroke-opacity="0.53"/><path d="M568.8 72.1 574.0 69.3 568.0 67.3 562.9 70.3Z" fill="url(#s26)" stroke-opacity="0.74"/><path d="M552.5 75.9 557.7 73.1 551.8 71.8 546.6 74.8Z" fill="url(#s27)" stroke-opacity="0.67"/><path d="M486.9 98.7 492.4 95.8 486.9 97.3 481.5 100.4Z" fill="#00f" stroke-opacity="0.35"/><path d="M536.1 80.5 541.4 77.7 535.6 77.1 530.3 80.1Z" fill="url(#s28)" stroke-opacity="0.59"/><path d="M503.3 91.9 508.7 89.0 503.1 89.9 497.8 92.9Z" fill="url(#s29)" stroke-opacity="0.43"/><path d="M519.7 85.8 525.0 83.0 519.3 83.1 514.0 86.1Z" fill="url(#s30)" stroke-opacity="0.51"/><path d="M563.7 74.9 568.8 72.1 562.9 70.3 557.7 73.1Z" fill="url(#s31)" stroke-opacity="0.72"/><path d="M547.3 78.7 552.5 75.9 546.6 74.8 541.4 77.7Z" fill="url(#s32)" stroke-opacity="0.65"/><path d="M574.9 74.5 580.0 71.8 574.0 69.3 568.8 72.1Z" fill="url(#s33)" stroke-opacity="0.78"/><path d="M481.4 101.6 486.9 98.7 481.5 100.4 476.1 103.3Z" fill="#00f" stroke-opacity="0.35"/><path d="M530.8 83.3 536.1 80.5 530.3 80.1 525.0 83.0Z" fill="url(#s34)" stroke-opacity="0.57"/><path d="M497.9 94.7 503.3 91.9 497.8 92.9 492.4 95.8Z" fill="url(#s35)" stroke-opacity="0.41"/><path d="M514.4 88.6 519.7 85.8 514.0 86.1 508.7 89.0Z" fill="url(#s36)" stroke-opacity="0.49"/><path d="M558.5 77.6 563.7 74.9 557.7 73.1 552.5 75.9Z" fill="url(#s37)" stroke-opacity="0.71"/><path d="M542.0 81.4 547.3 78.7 541.4 77.7 536.1 80.5Z" fill="url(#s38)" stroke-opacity="0.63"/><path d="M475.9 104.4 481.4 101.6 476.1 103.3 470.6 106.3Z" fill="#00f" stroke="#00f" stroke-opacity="1"/><path d="M569.7 77.2 574.9 74.5 568.8 72.1 563.7 74.9Z" fill="url(#s39)" stroke-opacity="0.76"/><path d="M525.5 86.0 530.8 83.3 525.0 83.0 519.7 85.8Z" fill="url(#s40)" stroke-opacity="0.55"/><path d="M492.4 97.5 497.9 94.7 492.4 95.8 486.9 98.7Z" fill="url(#s41)" stroke-opacity="0.39"/><path d="M509.0 91.4 514.4 88.6 508.7 89.0 503.3 91.9Z" fill="url(#s42)" stroke-opacity="0.47"/><path d="M580.9 77.4 586.1 74.8 580.0 71.8 574.9 74.5Z" fill="url(#s43)" stroke-opacity="0.8"/><path d="M553.2 80.2 558.5 77.6 552.5 75.9 547.3 78.7Z" fill="url(#s44)" stroke-opacity="0.69"/><path d="M536.7 84.1 542.0 81.4 536.1 80.5 530.8 83.3Z" fill="url(#s45)" stroke-opacity="0.61"/><path d="M470.4 107.1 475.9 104.4 470.6 106.3 465.0 109.1Z" fill="#00f" stroke="#00f" stroke-opacity="1"/><path d="M564.5 79.7 569.7 77.2 563.7 74.9 558.5 77.6Z" fill="url(#s46)" stroke-opacity="0.75"/><path d="M520.1 88.7 525.5 86.0 519.7 85.8 514.4 88.6Z" fill="url(#s47)" stroke-opacity="0.53"/><path d="M486.9 100.3 492.4 97.5 486.9 98.7 481.4 101.6Z" fill="url(#s48)" stroke-opacity="0.37"/><path d="M503.5 94.1 509.0 91.4 503.3 91.9 497.9 94.7Z" fill="url(#s49)" stroke-opacity="0.45"/><path d="M575.8 79.9 580.9 77.4 574.9 74.5 569.7 77.2Z" fill="url(#s50)" stroke-opacity="0.8"/><path d="M548.0 82.9 553.2 80.2 547.3 78.7 542.0 81.4Z" fill="url(#s51)" stroke-opacity="0.67"/><path d="M587.1 80.8 592.2 78.3 586.1 74.8 580.9 77.4Z" fill="url(#s52)" stroke-opacity="0.8"/><path d="M531.4 86.7 536.7 84.1 530.8 83.3 525.5 86.0Z" fill="url(#s53)" stroke-opacity="0.59"/><path d="M464.7 109.9 470.4 107.1 465.0 109.1 459.5 112.0Z" fill="#00f" stroke="#00f" stroke-opacity="1"/><path d="M559.3 82.3 564.5 79.7 558.5 77.6 553.2 80.2Z" fill="url(#s54)" stroke-opacity="0.73"/><path d="M514.7 91.4 520.1 88.7 514.4 88.6 509.0 91.4Z" fill="url(#s55)" stroke-opacity="0.51"/><path d="M481.4 102.9 486.9 100.3 481.4 101.6 475.9 104.4Z" fill="url(#s56)" stroke-opacity="0.35"/><path d="M498.0 96.8 503.5 94.1 497.9 94.7 492.4 97.5Z" fill="url(#s57)" stroke-opacity="0.43"/><path d="M570.6 82.4 575.8 79.9 569.7 77.2 564.5 79.7Z" fill="url(#s58)" stroke-opacity="0.79"/><path d="M542.6 85.4 548.0 82.9 542.0 81.4 536.7 84.1Z" fill="url(#s59)" stroke-opacity="0.66"/><path d="M581.9 83.2 587.1 80.8 580.9 77.4 575.8 79.9Z" fill="url(#s60)" stroke-opacity="0.8"/><path d="M593.2 84.7 598.3 82.4 592.2 78.3 587.1 80.8Z" fill="url(#s61)" stroke-opacity="0.8"/><path d="M526.0 89.3 531.4 86.7 525.5 86.0 520.1 88.7Z" fill="url(#s62)" stroke-opacity="0.58"/><path d="M459.1 112.5 464.7 109.9 459.5 112.0 453.8 114.8Z" fill="#00f" stroke="#00f" stroke-opacity="1"/><path d="M554.0 84.8 559.3 82.3 553.2 80.2 548.0 82.9Z" fill="url(#s63)" stroke-opacity="0.72"/><path d="M509.2 94.0 514.7 91.4 509.0 91.4 503.5 94.1Z" fill="url(#s64)" stroke-opacity="0.49"/><path d="M475.8 105.6 481.4 102.9 475.9 104.4 470.4 107.1Z" fill="url(#s65)" stroke-opacity="0.35"/><path d="M492.5 99.4 498.0 96.8 492.4 97.5 486.9 100.3Z" fill="url(#s66)" stroke-opacity="0.41"/><path d="M565.3 84.8 570.6 82.4 564.5 79.7 559.3 82.3Z" fill="url(#s67)" stroke-opacity="0.77"/><path d="M537.3 87.9 542.6 85.4 536.7 84.1 531.4 86.7Z" fill="url(#s68)" stroke-opacity="0.64"/><path d="M576.7 85.6 581.9 83.2 575.8 79.9 570.6 82.4Z" fill="url(#s69)" stroke-opacity="0.8"/><path d="M588.1 87.0 593.2 84.7 587.1 80.8 581.9 83.2Z" fill="url(#s70)" stroke-opacity="0.8"/><path d="M599.4 89.1 604.5 86.9 598.3 82.4 593.2 84.7Z" fill="url(#s71)" stroke-opacity="0.8"/><path d="M520.5 91.8 526.0 89.3 520.1 88.7 514.7 91.4Z" fill="url(#s72)" stroke-opacity="0.56"/><path d="M453.4 115.1 459.1 112.5 453.8 114.8 448.2 117.5Z" fill="#00f" stroke="#00f" stroke-opacity="1"/><path d="M548.7 87.2 554.0 84.8 548.0 82.9 542.6 85.4Z" fill="url(#s73)" stroke-opacity="0.7"/><path d="M503.7 96.5 509.2 94.0 503.5 94.1 498.0 96.8Z" fill="url(#s74)" stroke-opacity="0.47"/><path d="M470.1 108.2 475.8 105.6 470.4 107.1 464.7 109.9Z" fill="url(#s75)" stroke="#00f" stroke-opacity="1"/><path d="M486.9 102.0 492.5 99.4 486.9 100.3 481.4 102.9Z" fill="url(#s76)" stroke-opacity="0.39"/><path d="M560.0 87.2 565.3 84.8 559.3 82.3 554.0 84.8Z" fill="url(#s77)" stroke-opacity="0.76"/><path d="M531.9 90.4 537.3 87.9 531.4 86.7 526.0 89.3Z" fill="url(#s78)" stroke-opacity="0.62"/><path d="M571.5 87.9 576.7 85.6 570.6 82.4 565.3 84.8Z" fill="url(#s79)" stroke-opacity="0.8"/><path d="M605.6 94.1 610.7 91.9 604.5 86.9 599.4 89.1Z" fill="url(#s80)" stroke-opacity="0.8"/><path d="M582.9 89.2 588.1 87.0 581.9 83.2 576.7 85.6Z" fill="url(#s81)" stroke-opacity="0.8"/><path d="M515.0 94.3 520.5 91.8 514.7 91.4 509.2 94.0Z" fill="url(#s82)" stroke-opacity="0.54"/><path d="M594.3 91.3 599.4 89.1 593.2 84.7 588.1 87.0Z" fill="url(#s83)" stroke-opacity="0.8"/><path d="M447.6 117.7 453.4 115.1 448.2 117.5 442.5 120.2Z" fill="#00f" stroke="#00f" stroke-opacity="1"/><path d="M543.3 89.6 548.7 87.2 542.6 85.4 537.3 87.9Z" fill="url(#s84)" stroke-opacity="0.68"/><path d="M498.2 99.0 503.7 96.5 498.0 96.8 492.5 99.4Z" fill="url(#s85)" stroke-opacity="0.45"/><path d="M464.4 110.7 470.1 108.2 464.7 109.9 459.1 112.5Z" fill="url(#s86)" stroke="#00f" stroke-opacity="1"/><path d="M481.3 104.5 486.9 102.0 481.4 102.9 475.8 105.6Z" fill="url(#s87)" stroke-opacity="0.37"/><path d="M554.7 89.5 560.0 87.2 554.0 84.8 548.7 87.2Z" fill="url(#s88)" stroke-opacity="0.74"/><path d="M526.4 92.8 531.9 90.4 526.0 89.3 520.5 91.8Z" fill="url(#s89)" stroke-opacity="0.6"/><path d="M611.9 99.5 616.9 97.5 610.7 91.9 605.6 94.1Z" fill="url(#s90)" stroke-opacity="0.8"/><path d="M566.2 90.1 571.5 87.9 565.3 84.8 560.0 87.2Z" fill="url(#s91)" stroke-opacity="0.8"/><path d="M509.5 96.7 515.0 94.3 509.2 94.0 503.7 96.5Z" fill="url(#s92)" stroke-opacity="0.52"/><path d="M600.5 96.1 605.6 94.1 599.4 89.1 594.3 91.3Z" fill="url(#s93)" stroke-opacity="0.8"/><path d="M577.6 91.4 582.9 89.2 576.7 85.6 571.5 87.9Z" fill="url(#s94)" stroke-opacity="0.8"/><path d="M589.1 93.4 594.3 91.3 588.1 87.0 582.9 89.2Z" fill="url(#s95)" stroke-opacity="0.8"/><path d="M441.8 120.2 447.6 117.7 442.5 120.2 436.7 122.8Z" fill="#00f" stroke="#00f" stroke-opacity="1"/><path d="M537.9 91.9 543.3 89.6 537.3 87.9 531.9 90.4Z" fill="url(#s96)" stroke-opacity="0.66"/><path d="M492.6 101.5 498.2 99.0 492.5 99.4 486.9 102.0Z" fill="url(#s97)" stroke-opacity="0.43"/><path d="M458.7 113.2 464.4 110.7 459.1 112.5 453.4 115.1Z" fill="#00f" stroke="#00f" stroke-opacity="1"/><path d="M475.6 107.0 481.3 104.5 475.8 105.6 470.1 108.2Z" fill="url(#s98)" stroke-opacity="0.35"/><path d="M549.4 91.8 554.7 89.5 548.7 87.2 543.3 89.6Z" fill="url(#s99)" stroke-opacity="0.72"/><path d="M618.1 105.5 623.2 103.6 616.9 97.5 611.9 99.5Z" fill="url(#s100)" stroke-opacity="0.8"/><path d="M520.9 95.1 526.4 92.8 520.5 91.8 515.0 94.3Z" fill="url(#s101)" stroke-opacity="0.58"/><path d="M560.9 92.3 566.2 90.1 560.0 87.2 554.7 89.5Z" fill="url(#s102)" stroke-opacity="0.78"/><path d="M606.8 101.5 611.9 99.5 605.6 94.1 600.5 96.1Z" fill="url(#s103)" stroke-opacity="0.8"/><path d="M504.0 99.1 509.5 96.7 503.7 96.5 498.2 99.0Z" fill="url(#s104)" stroke-opacity="0.5"/><path d="M572.4 93.6 577.6 91.4 571.5 87.9 566.2 90.1Z" fill="url(#s105)" stroke-opacity="0.8"/><path d="M595.3 98.2 600.5 96.1 594.3 91.3 589.1 93.4Z" fill="url(#s106)" stroke-opacity="0.8"/><path d="M435.9 122.7 441.8 120.2 436.7 122.8 430.9 125.4Z" fill="#00f" stroke="#00f" stroke-opacity="1"/><path d="M583.9 95.5 589.1 93.4 582.9 89.2 577.6 91.4Z" fill="url(#s107)" stroke-opacity="0.8"/><path d="M532.4 94.2 537.9 91.9 531.9 90.4 526.4 92.8Z" fill="url(#s108)" stroke-opacity="0.64"/><path d="M486.9 103.8 492.6 101.5 486.9 102.0 481.3 104.5Z" fill="url(#s109)" stroke-opacity="0.41"/><path d="M452.9 115.7 458.7 113.2 453.4 115.1 447.6 117.7Z" fill="#0003ff" stroke="#0003ff" stroke-opacity="1"/><path d="M469.9 109.4 475.6 107.0 470.1 108.2 464.4 110.7Z" fill="url(#s110)" stroke-opacity="0.35"/><path d="M624.4 112.0 629.4 110.2 623.2 103.6 618.1 105.5Z" fill="url(#s111)" stroke-opacity="0.8"/><path d="M543.9 94.0 549.4 91.8 543.3 89.6 537.9 91.9Z" fill="url(#s112)" stroke-opacity="0.71"/><path d="M515.4 97.4 520.9 95.1 515.0 94.3 509.5 96.7Z" fill="url(#s113)" stroke-opacity="0.56"/><path d="M613.0 107.4 618.1 105.5 611.9 99.5 606.8 101.5Z" fill="url(#s114)" stroke-opacity="0.8"/><path d="M555.5 94.5 560.9 92.3 554.7 89.5 549.4 91.8Z" fill="url(#s115)" stroke-opacity="0.77"/><path d="M630.7 119.0 635.7 117.3 629.4 110.2 624.4 112.0Z" fill="url(#s116)" stroke-opacity="0.8"/><path d="M601.6 103.4 606.8 101.5 600.5 96.1 595.3 98.2Z" fill="url(#s117)" stroke-opacity="0.8"/><path d="M498.3 101.4 504.0 99.1 498.2 99.0 492.6 101.5Z" fill="url(#s118)" stroke-opacity="0.48"/><path d="M567.0 95.7 572.4 93.6 566.2 90.1 560.9 92.3Z" fill="url(#s119)" stroke-opacity="0.8"/><path d="M430.0 125.1 435.9 122.7 430.9 125.4 425.0 128.0Z" fill="#00f" stroke="#00f" stroke-opacity="1"/><path d="M590.1 100.1 595.3 98.2 589.1 93.4 583.9 95.5Z" fill="url(#s120)" stroke-opacity="0.8"/><path d="M578.6 97.5 583.9 95.5 577.6 91.4 572.4 93.6Z" fill="url(#s121)" stroke-opacity="0.8"/><path d="M526.9 96.4 532.4 94.2 526.4 92.8 520.9 95.1Z" fill="url(#s122)" stroke-opacity="0.63"/><path d="M481.2 106.2 486.9 103.8 481.3 104.5 475.6 107.0Z" fill="url(#s123)" stroke-opacity="0.39"/><path d="M447.1 118.1 452.9 115.7 447.6 117.7 441.8 120.2Z" fill="#0008ff" stroke="#0008ff" stroke-opacity="1"/><path d="M464.1 111.7 469.9 109.4 464.4 110.7 458.7 113.2Z" fill="url(#s124)" stroke="#0056ff" stroke-opacity="1"/><path d="M619.3 113.7 624.4 112.0 618.1 105.5 613.0 107.4Z" fill="url(#s125)" stroke-opacity="0.8"/><path d="M636.9 126.5 641.9 124.9 635.7 117.3 630.7 119.0Z" fill="url(#s126)" stroke-opacity="0.8"/><path d="M538.5 96.2 543.9 94.0 537.9 91.9 532.4 94.2Z" fill="url(#s127)" stroke-opacity="0.69"/><path d="M509.8 99.7 515.4 97.4 509.5 96.7 504.0 99.1Z" fill="url(#s128)" stroke-opacity="0.54"/><path d="M607.9 109.2 613.0 107.4 606.8 101.5 601.6 103.4Z" fill="url(#s129)" stroke-opacity="0.8"/><path d="M643.2 134.6 648.1 133.0 641.9 124.9 636.9 126.5Z" fill="#00f" stroke-opacity="0.8"/><path d="M550.1 96.6 555.5 94.5 549.4 91.8 543.9 94.0Z" fill="url(#s130)" stroke-opacity="0.75"/><path d="M492.7 103.7 498.3 101.4 492.6 101.5 486.9 103.8Z" fill="url(#s131)" stroke-opacity="0.46"/><path d="M596.4 105.3 601.6 103.4 595.3 98.2 590.1 100.1Z" fill="url(#s132)" stroke-opacity="0.8"/><path d="M625.6 120.7 630.7 119.0 624.4 112.0 619.3 113.7Z" fill="url(#s133)" stroke-opacity="0.8"/><path d="M424.1 127.5 430.0 125.1 425.0 128.0 419.1 130.5Z" fill="#00f" stroke="#00f" stroke-opacity="1"/><path d="M561.7 97.7 567.0 95.7 560.9 92.3 555.5 94.5Z" fill="url(#s134)" stroke-opacity="0.8"/><path d="M584.9 102.0 590.1 100.1 583.9 95.5 578.6 97.5Z" fill="url(#s135)" stroke-opacity="0.8"/><path d="M521.4 98.6 526.9 96.4 520.9 95.1 515.4 97.4Z" fill="url(#s136)" stroke-opacity="0.61"/><path d="M475.5 108.5 481.2 106.2 475.6 107.0 469.9 109.4Z" fill="url(#s137)" stroke-opacity="0.37"/><path d="M573.3 99.5 578.6 97.5 572.4 93.6 567.0 95.7Z" fill="url(#s138)" stroke-opacity="0.8"/><path d="M441.2 120.4 447.1 118.1 441.8 120.2 435.9 122.7Z" fill="#000fff" stroke="#000fff" stroke-opacity="1"/><path d="M649.4 143.1 654.3 141.7 648.1 133.0 643.2 134.6Z" fill="#00f" stroke-opacity="0.8"/><path d="M458.3 114.1 464.1 111.7 458.7 113.2 452.9 115.7Z" fill="url(#s139)" stroke="#005dff" stroke-opacity="1"/><path d="M614.2 115.4 619.3 113.7 613.0 107.4 607.9 109.2Z" fill="url(#s140)" stroke-opacity="0.8"/><path d="M655.7 152.1 660.5 150.8 654.3 141.7 649.4 143.1Z" fill="#00f" stroke-opacity="0.8"/><path d="M631.9 128.1 636.9 126.5 630.7 119.0 625.6 120.7Z" fill="url(#s141)" stroke-opacity="0.8"/><path d="M533.0 98.3 538.5 96.2 532.4 94.2 526.9 96.4Z" fill="url(#s142)" stroke-opacity="0.67"/><path d="M504.2 101.9 509.8 99.7 504.0 99.1 498.3 101.4Z" fill="url(#s143)" stroke-opacity="0.52"/><path d="M661.9 161.6 666.7 160.4 660.5 150.8 655.7 152.1Z" fill="#00f" stroke-opacity="0.8"/><path d="M602.7 110.9 607.9 109.2 601.6 103.4 596.4 105.3Z" fill="url(#s144)" stroke-opacity="0.8"/><path d="M668.0 171.6 672.8 170.5 666.7 160.4 661.9 161.6Z" fill="#00f" stroke-opacity="0.8"/><path d="M544.6 98.6 550.1 96.6 543.9 94.0 538.5 96.2Z" fill="url(#s145)" stroke-opacity="0.73"/><path d="M486.9 105.9 492.7 103.7 486.9 103.8 481.2 106.2Z" fill="url(#s146)" stroke-opacity="0.44"/><path d="M638.2 136.0 643.2 134.6 636.9 126.5 631.9 128.1Z" fill="#00f" stroke-opacity="0.8"/><path d="M418.0 129.8 424.1 127.5 419.1 130.5 413.1 132.9Z" fill="#00f" stroke-opacity="0.35"/><path d="M591.2 107.1 596.4 105.3 590.1 100.1 584.9 102.0Z" fill="url(#s147)" stroke-opacity="0.8"/><path d="M556.3 99.7 561.7 97.7 555.5 94.5 550.1 96.6Z" fill="url(#s148)" stroke-opacity="0.79"/><path d="M620.5 122.2 625.6 120.7 619.3 113.7 614.2 115.4Z" fill="url(#s149)" stroke-opacity="0.8"/><path d="M469.7 110.7 475.5 108.5 469.9 109.4 464.1 111.7Z" fill="url(#s150)" stroke-opacity="0.35"/><path d="M515.8 100.8 521.4 98.6 515.4 97.4 509.8 99.7Z" fill="url(#s151)" stroke-opacity="0.59"/><path d="M579.6 103.9 584.9 102.0 578.6 97.5 573.3 99.5Z" fill="url(#s152)" stroke-opacity="0.8"/><path d="M567.9 101.4 573.3 99.5 567.0 95.7 561.7 97.7Z" fill="url(#s153)" stroke-opacity="0.8"/><path d="M435.2 122.7 441.2 120.4 435.9 122.7 430.0 125.1Z" fill="#0017ff" stroke="#0017ff" stroke-opacity="1"/><path d="M452.4 116.3 458.3 114.1 452.9 115.7 447.1 118.1Z" fill="#0065ff" stroke="#0065ff" stroke-opacity="1"/><path d="M644.5 144.4 649.4 143.1 643.2 134.6 638.2 136.0Z" fill="#00f" stroke-opacity="0.8"/><path d="M609.1 117.1 614.2 115.4 607.9 109.2 602.7 110.9Z" fill="url(#s154)" stroke-opacity="0.8"/><path d="M527.4 100.3 533.0 98.3 526.9 96.4 521.4 98.6Z" fill="url(#s155)" stroke-opacity="0.65"/><path d="M498.5 104.0 504.2 101.9 498.3 101.4 492.7 103.7Z" fill="url(#s156)" stroke-opacity="0.5"/><path d="M626.9 129.6 631.9 128.1 625.6 120.7 620.5 122.2Z" fill="url(#s157)" stroke-opacity="0.8"/><path d="M650.7 153.4 655.7 152.1 649.4 143.1 644.5 144.4Z" fill="#00f" stroke-opacity="0.8"/><path d="M597.5 112.6 602.7 110.9 596.4 105.3 591.2 107.1Z" fill="url(#s158)" stroke-opacity="0.8"/><path d="M539.1 100.6 544.6 98.6 538.5 96.2 533.0 98.3Z" fill="url(#s159)" stroke-opacity="0.72"/><path d="M481.2 108.1 486.9 105.9 481.2 106.2 475.5 108.5Z" fill="url(#s160)" stroke-opacity="0.41"/><path d="M657.0 162.8 661.9 161.6 655.7 152.1 650.7 153.4Z" fill="#00f" stroke-opacity="0.8"/><path d="M411.9 132.1 418.0 129.8 413.1 132.9 407.0 135.4Z" fill="url(#s161)" stroke-opacity="0.36"/><path d="M663.2 172.7 668.0 171.6 661.9 161.6 657.0 162.8Z" fill="#00f" stroke-opacity="0.8"/><path d="M585.9 108.8 591.2 107.1 584.9 102.0 579.6 103.9Z" fill="url(#s162)" stroke-opacity="0.8"/><path d="M550.8 101.6 556.3 99.7 550.1 96.6 544.6 98.6Z" fill="url(#s163)" stroke-opacity="0.78"/><path d="M463.8 112.9 469.7 110.7 464.1 111.7 458.3 114.1Z" fill="url(#s164)" stroke-opacity="0.35"/><path d="M633.2 137.4 638.2 136.0 631.9 128.1 626.9 129.6Z" fill="url(#s165)" stroke-opacity="0.8"/><path d="M510.1 102.8 515.8 100.8 509.8 99.7 504.2 101.9Z" fill="url(#s166)" stroke-opacity="0.57"/><path d="M429.2 124.9 435.2 122.7 430.0 125.1 424.1 127.5Z" fill="url(#s167)" stroke="#0020ff" stroke-opacity="1"/><path d="M615.4 123.8 620.5 122.2 614.2 115.4 609.1 117.1Z" fill="url(#s168)" stroke-opacity="0.8"/><path d="M574.2 105.7 579.6 103.9 573.3 99.5 567.9 101.4Z" fill="url(#s169)" stroke-opacity="0.8"/><path d="M446.5 118.5 452.4 116.3 447.1 118.1 441.2 120.4Z" fill="#006eff" stroke="#006eff" stroke-opacity="1"/><path d="M562.5 103.3 567.9 101.4 561.7 97.7 556.3 99.7Z" fill="url(#s170)" stroke-opacity="0.8"/><path d="M639.5 145.7 644.5 144.4 638.2 136.0 633.2 137.4Z" fill="#00f" stroke-opacity="0.8"/><path d="M521.8 102.3 527.4 100.3 521.4 98.6 515.8 100.8Z" fill="url(#s171)" stroke-opacity="0.63"/><path d="M492.8 106.1 498.5 104.0 492.7 103.7 486.9 105.9Z" fill="url(#s172)" stroke-opacity="0.48"/><path d="M603.9 118.7 609.1 117.1 602.7 110.9 597.5 112.6Z" fill="url(#s173)" stroke-opacity="0.8"/><path d="M621.8 131.0 626.9 129.6 620.5 122.2 615.4 123.8Z" fill="url(#s174)" stroke-opacity="0.8"/><path d="M645.8 154.6 650.7 153.4 644.5 144.4 639.5 145.7Z" fill="#00f" stroke-opacity="0.8"/><path d="M475.3 110.2 481.2 108.1 475.5 108.5 469.7 110.7Z" fill="url(#s175)" stroke-opacity="0.39"/><path d="M533.5 102.6 539.1 100.6 533.0 98.3 527.4 100.3Z" fill="url(#s176)" stroke-opacity="0.7"/><path d="M592.2 114.2 597.5 112.6 591.2 107.1 585.9 108.8Z" fill="url(#s177)" stroke-opacity="0.8"/><path d="M405.8 134.3 411.9 132.1 407.0 135.4 400.9 137.7Z" fill="url(#s178)" stroke-opacity="0.38"/><path d="M652.1 163.9 657.0 162.8 650.7 153.4 645.8 154.6Z" fill="#00f" stroke-opacity="0.8"/><path d="M457.9 115.1 463.8 112.9 458.3 114.1 452.4 116.3Z" fill="url(#s179)" stroke="#00b9ff" stroke-opacity="1"/><path d="M545.3 103.5 550.8 101.6 544.6 98.6 539.1 100.6Z" fill="url(#s180)" stroke-opacity="0.76"/><path d="M504.4 104.9 510.1 102.8 504.2 101.9 498.5 104.0Z" fill="url(#s181)" stroke-opacity="0.55"/><path d="M580.5 110.5 585.9 108.8 579.6 103.9 574.2 105.7Z" fill="url(#s182)" stroke-opacity="0.8"/><path d="M423.1 127.1 429.2 124.9 424.1 127.5 418.0 129.8Z" fill="url(#s183)" stroke="#002aff" stroke-opacity="1"/><path d="M440.5 120.7 446.5 118.5 441.2 120.4 435.2 122.7Z" fill="#0078ff" stroke="#0078ff" stroke-opacity="1"/><path d="M557.1 105.1 562.5 103.3 556.3 99.7 550.8 101.6Z" fill="url(#s184)" stroke-opacity="0.8"/><path d="M568.8 107.5 574.2 105.7 567.9 101.4 562.5 103.3Z" fill="url(#s185)" stroke-opacity="0.8"/><path d="M628.1 138.7 633.2 137.4 626.9 129.6 621.8 131.0Z" fill="url(#s186)" stroke-opacity="0.8"/><path d="M658.3 173.8 663.2 172.7 657.0 162.8 652.1 163.9Z" fill="#00f" stroke-opacity="0.8"/><path d="M610.2 125.3 615.4 123.8 609.1 117.1 603.9 118.7Z" fill="url(#s187)" stroke-opacity="0.8"/><path d="M487.0 108.2 492.8 106.1 486.9 105.9 481.2 108.1Z" fill="url(#s188)" stroke-opacity="0.46"/><path d="M516.1 104.3 521.8 102.3 515.8 100.8 510.1 102.8Z" fill="url(#s189)" stroke-opacity="0.62"/><path d="M634.5 147.0 639.5 145.7 633.2 137.4 628.1 138.7Z" fill="#00f" stroke-opacity="0.8"/><path d="M598.6 120.2 603.9 118.7 597.5 112.6 592.2 114.2Z" fill="url(#s190)" stroke-opacity="0.8"/><path d="M616.6 132.4 621.8 131.0 615.4 123.8 610.2 125.3Z" fill="url(#s191)" stroke-opacity="0.8"/><path d="M469.5 112.3 475.3 110.2 469.7 110.7 463.8 112.9Z" fill="url(#s192)" stroke-opacity="0.37"/><path d="M527.9 104.4 533.5 102.6 527.4 100.3 521.8 102.3Z" fill="url(#s193)" stroke-opacity="0.68"/><path d="M399.6 136.5 405.8 134.3 400.9 137.7 394.8 140.0Z" fill="url(#s194)" stroke-opacity="0.41"/><path d="M586.9 115.8 592.2 114.2 585.9 108.8 580.5 110.5Z" fill="url(#s195)" stroke-opacity="0.8"/><path d="M640.8 155.7 645.8 154.6 639.5 145.7 634.5 147.0Z" fill="#00f" stroke-opacity="0.8"/><path d="M451.9 117.2 457.9 115.1 452.4 116.3 446.5 118.5Z" fill="url(#s196)" stroke="#00c4ff" stroke-opacity="1"/><path d="M498.7 106.8 504.4 104.9 498.5 104.0 492.8 106.1Z" fill="url(#s197)" stroke-opacity="0.53"/><path d="M417.0 129.3 423.1 127.1 418.0 129.8 411.9 132.1Z" fill="url(#s198)" stroke="#0035ff" stroke-opacity="1"/><path d="M539.7 105.3 545.3 103.5 539.1 100.6 533.5 102.6Z" fill="url(#s199)" stroke-opacity="0.74"/><path d="M434.4 122.8 440.5 120.7 435.2 122.7 429.2 124.9Z" fill="#0083ff" stroke="#0083ff" stroke-opacity="1"/><path d="M575.2 112.1 580.5 110.5 574.2 105.7 568.8 107.5Z" fill="url(#s200)" stroke-opacity="0.8"/><path d="M551.5 106.9 557.1 105.1 550.8 101.6 545.3 103.5Z" fill="url(#s201)" stroke-opacity="0.8"/><path d="M647.1 165.0 652.1 163.9 645.8 154.6 640.8 155.7Z" fill="#00f" stroke-opacity="0.8"/><path d="M563.4 109.1 568.8 107.5 562.5 103.3 557.1 105.1Z" fill="url(#s202)" stroke-opacity="0.8"/><path d="M605.0 126.7 610.2 125.3 603.9 118.7 598.6 120.2Z" fill="url(#s203)" stroke-opacity="0.8"/><path d="M623.0 140.0 628.1 138.7 621.8 131.0 616.6 132.4Z" fill="url(#s204)" stroke-opacity="0.8"/><path d="M653.4 174.7 658.3 173.8 652.1 163.9 647.1 165.0Z" fill="#00f" stroke-opacity="0.8"/><path d="M481.1 110.1 487.0 108.2 481.2 108.1 475.3 110.2Z" fill="url(#s205)" stroke-opacity="0.44"/><path d="M510.4 106.2 516.1 104.3 510.1 102.8 504.4 104.9Z" fill="url(#s206)" stroke-opacity="0.6"/><path d="M593.3 121.7 598.6 120.2 592.2 114.2 586.9 115.8Z" fill="url(#s207)" stroke-opacity="0.8"/><path d="M629.4 148.2 634.5 147.0 628.1 138.7 623.0 140.0Z" fill="#00f" stroke-opacity="0.8"/><path d="M463.5 114.3 469.5 112.3 463.8 112.9 457.9 115.1Z" fill="url(#s208)" stroke-opacity="0.35"/><path d="M522.3 106.3 527.9 104.4 521.8 102.3 516.1 104.3Z" fill="url(#s209)" stroke-opacity="0.66"/><path d="M611.4 133.7 616.6 132.4 610.2 125.3 605.0 126.7Z" fill="url(#s210)" stroke-opacity="0.8"/><path d="M581.5 117.3 586.9 115.8 580.5 110.5 575.2 112.1Z" fill="url(#s211)" stroke-opacity="0.8"/><path d="M445.9 119.2 451.9 117.2 446.5 118.5 440.5 120.7Z" fill="#00d1ff" stroke="#00d1ff" stroke-opacity="1"/><path d="M492.8 108.7 498.7 106.8 492.8 106.1 487.0 108.2Z" fill="url(#s212)" stroke-opacity="0.51"/><path d="M410.8 131.4 417.0 129.3 411.9 132.1 405.8 134.3Z" fill="url(#s213)" stroke-opacity="0.35"/><path d="M534.1 107.1 539.7 105.3 533.5 102.6 527.9 104.4Z" fill="url(#s214)" stroke-opacity="0.73"/><path d="M428.3 124.9 434.4 122.8 429.2 124.9 423.1 127.1Z" fill="#0090ff" stroke="#0090ff" stroke-opacity="1"/><path d="M635.7 156.8 640.8 155.7 634.5 147.0 629.4 148.2Z" fill="#00f" stroke-opacity="0.8"/><path d="M569.7 113.7 575.2 112.1 568.8 107.5 563.4 109.1Z" fill="url(#s215)" stroke-opacity="0.8"/><path d="M546.0 108.6 551.5 106.9 545.3 103.5 539.7 105.3Z" fill="url(#s216)" stroke-opacity="0.79"/><path d="M557.9 110.8 563.4 109.1 557.1 105.1 551.5 106.9Z" fill="url(#s217)" stroke-opacity="0.8"/><path d="M642.1 166.0 647.1 165.0 640.8 155.7 635.7 156.8Z" fill="#00f" stroke-opacity="0.8"/><path d="M599.7 128.1 605.0 126.7 598.6 120.2 593.3 121.7Z" fill="url(#s218)" stroke-opacity="0.8"/><path d="M617.8 141.3 623.0 140.0 616.6 132.4 611.4 133.7Z" fill="url(#s219)" stroke-opacity="0.8"/><path d="M475.2 112.1 481.1 110.1 475.3 110.2 469.5 112.3Z" fill="url(#s220)" stroke-opacity="0.42"/><path d="M504.7 108.0 510.4 106.2 504.4 104.9 498.7 106.8Z" fill="url(#s221)" stroke-opacity="0.58"/><path d="M648.4 175.7 653.4 174.7 647.1 165.0 642.1 166.0Z" fill="#00f" stroke-opacity="0.8"/><path d="M587.9 123.1 593.3 121.7 586.9 115.8 581.5 117.3Z" fill="url(#s222)" stroke-opacity="0.8"/><path d="M457.5 116.2 463.5 114.3 457.9 115.1 451.9 117.2Z" fill="url(#s223)" stroke-opacity="0.35"/><path d="M516.5 108.0 522.3 106.3 516.1 104.3 510.4 106.2Z" fill="url(#s224)" stroke-opacity="0.64"/><path d="M624.2 149.3 629.4 148.2 623.0 140.0 617.8 141.3Z" fill="url(#s225)" stroke-opacity="0.8"/><path d="M439.8 121.2 445.9 119.2 440.5 120.7 434.4 122.8Z" fill="#00dfff" stroke="#00dfff" stroke-opacity="1"/><path d="M606.1 135.0 611.4 133.7 605.0 126.7 599.7 128.1Z" fill="url(#s226)" stroke-opacity="0.8"/><path d="M404.5 133.4 410.8 131.4 405.8 134.3 399.6 136.5Z" fill="url(#s227)" stroke-opacity="0.37"/><path d="M576.1 118.8 581.5 117.3 575.2 112.1 569.7 113.7Z" fill="url(#s228)" stroke-opacity="0.8"/><path d="M487.0 110.6 492.8 108.7 487.0 108.2 481.1 110.1Z" fill="url(#s229)" stroke-opacity="0.49"/><path d="M422.1 126.9 428.3 124.9 423.1 127.1 417.0 129.3Z" fill="url(#s230)" stroke="#009eff" stroke-opacity="1"/><path d="M528.4 108.8 534.1 107.1 527.9 104.4 522.3 106.3Z" fill="url(#s231)" stroke-opacity="0.71"/><path d="M564.2 115.2 569.7 113.7 563.4 109.1 557.9 110.8Z" fill="url(#s232)" stroke-opacity="0.8"/><path d="M540.4 110.2 546.0 108.6 539.7 105.3 534.1 107.1Z" fill="url(#s233)" stroke-opacity="0.77"/><path d="M630.6 157.9 635.7 156.8 629.4 148.2 624.2 149.3Z" fill="#00f" stroke-opacity="0.8"/><path d="M552.3 112.4 557.9 110.8 551.5 106.9 546.0 108.6Z" fill="url(#s234)" stroke-opacity="0.8"/><path d="M594.4 129.4 599.7 128.1 593.3 121.7 587.9 123.1Z" fill="url(#s235)" stroke-opacity="0.8"/><path d="M469.2 114.0 475.2 112.1 469.5 112.3 463.5 114.3Z" fill="url(#s236)" stroke-opacity="0.39"/><path d="M498.8 109.8 504.7 108.0 498.7 106.8 492.8 108.7Z" fill="url(#s237)" stroke-opacity="0.56"/><path d="M612.6 142.4 617.8 141.3 611.4 133.7 606.1 135.0Z" fill="url(#s238)" stroke-opacity="0.8"/><path d="M637.0 167.0 642.1 166.0 635.7 156.8 630.6 157.9Z" fill="#00f" stroke-opacity="0.8"/><path d="M643.4 176.6 648.4 175.7 642.1 166.0 637.0 167.0Z" fill="#00f" stroke-opacity="0.8"/><path d="M451.4 118.1 457.5 116.2 451.9 117.2 445.9 119.2Z" fill="url(#s239)" stroke="#00ffdc" stroke-opacity="1"/><path d="M582.5 124.5 587.9 123.1 581.5 117.3 576.1 118.8Z" fill="url(#s240)" stroke-opacity="0.8"/><path d="M510.8 109.8 516.5 108.0 510.4 106.2 504.7 108.0Z" fill="url(#s241)" stroke-opacity="0.62"/><path d="M433.7 123.1 439.8 121.2 434.4 122.8 428.3 124.9Z" fill="#0ef" stroke="#0ef" stroke-opacity="1"/><path d="M619.0 150.4 624.2 149.3 617.8 141.3 612.6 142.4Z" fill="url(#s242)" stroke-opacity="0.8"/><path d="M481.1 112.4 487.0 110.6 481.1 110.1 475.2 112.1Z" fill="url(#s243)" stroke-opacity="0.46"/><path d="M415.9 128.9 422.1 126.9 417.0 129.3 410.8 131.4Z" fill="url(#s244)" stroke="#00adff" stroke-opacity="1"/><path d="M570.6 120.2 576.1 118.8 569.7 113.7 564.2 115.2Z" fill="url(#s245)" stroke-opacity="0.8"/><path d="M600.8 136.2 606.1 135.0 599.7 128.1 594.4 129.4Z" fill="url(#s246)" stroke-opacity="0.8"/><path d="M522.7 110.4 528.4 108.8 522.3 106.3 516.5 108.0Z" fill="url(#s247)" stroke-opacity="0.69"/><path d="M558.7 116.7 564.2 115.2 557.9 110.8 552.3 112.4Z" fill="url(#s248)" stroke-opacity="0.8"/><path d="M534.7 111.8 540.4 110.2 534.1 107.1 528.4 108.8Z" fill="url(#s249)" stroke-opacity="0.76"/><path d="M546.7 113.9 552.3 112.4 546.0 108.6 540.4 110.2Z" fill="url(#s250)" stroke-opacity="0.8"/><path d="M625.5 158.9 630.6 157.9 624.2 149.3 619.0 150.4Z" fill="#00f" stroke-opacity="0.8"/><path d="M463.2 115.8 469.2 114.0 463.5 114.3 457.5 116.2Z" fill="url(#s251)" stroke-opacity="0.37"/><path d="M493.0 111.6 498.8 109.8 492.8 108.7 487.0 110.6Z" fill="url(#s252)" stroke-opacity="0.53"/><path d="M589.0 130.6 594.4 129.4 587.9 123.1 582.5 124.5Z" fill="url(#s253)" stroke-opacity="0.8"/><path d="M607.3 143.5 612.6 142.4 606.1 135.0 600.8 136.2Z" fill="url(#s254)" stroke-opacity="0.8"/><path d="M631.9 167.9 637.0 167.0 630.6 157.9 625.5 158.9Z" fill="#00f" stroke-opacity="0.8"/><path d="M445.3 120.0 451.4 118.1 445.9 119.2 439.8 121.2Z" fill="url(#s255)" stroke="#0fc" stroke-opacity="1"/><path d="M504.9 111.4 510.8 109.8 504.7 108.0 498.8 109.8Z" fill="url(#s256)" stroke-opacity="0.6"/><path d="M577.1 125.8 582.5 124.5 576.1 118.8 570.6 120.2Z" fill="url(#s257)" stroke-opacity="0.8"/><path d="M638.3 177.4 643.4 176.6 637.0 167.0 631.9 167.9Z" fill="#00f" stroke-opacity="0.8"/><path d="M427.4 125.0 433.7 123.1 428.3 124.9 422.1 126.9Z" fill="#00feff" stroke="#00feff" stroke-opacity="1"/><path d="M475.1 114.2 481.1 112.4 475.2 112.1 469.2 114.0Z" fill="url(#s258)" stroke-opacity="0.44"/><path d="M409.6 130.8 415.9 128.9 410.8 131.4 404.5 133.4Z" fill="url(#s259)" stroke-opacity="0.35"/><path d="M516.9 112.0 522.7 110.4 516.5 108.0 510.8 109.8Z" fill="url(#s260)" stroke-opacity="0.67"/><path d="M613.8 151.4 619.0 150.4 612.6 142.4 607.3 143.5Z" fill="url(#s261)" stroke-opacity="0.8"/><path d="M565.1 121.6 570.6 120.2 564.2 115.2 558.7 116.7Z" fill="url(#s262)" stroke-opacity="0.8"/><path d="M595.5 137.3 600.8 136.2 594.4 129.4 589.0 130.6Z" fill="url(#s263)" stroke-opacity="0.8"/><path d="M529.0 113.3 534.7 111.8 528.4 108.8 522.7 110.4Z" fill="url(#s264)" stroke-opacity="0.74"/><path d="M553.1 118.1 558.7 116.7 552.3 112.4 546.7 113.9Z" fill="url(#s265)" stroke-opacity="0.8"/><path d="M541.0 115.4 546.7 113.9 540.4 110.2 534.7 111.8Z" fill="url(#s266)" stroke-opacity="0.8"/><path d="M457.1 117.6 463.2 115.8 457.5 116.2 451.4 118.1Z" fill="url(#s267)" stroke-opacity="0.35"/><path d="M487.0 113.2 493.0 111.6 487.0 110.6 481.1 112.4Z" fill="url(#s268)" stroke-opacity="0.51"/><path d="M620.3 159.8 625.5 158.9 619.0 150.4 613.8 151.4Z" fill="url(#s269)" stroke-opacity="0.8"/><path d="M583.6 131.8 589.0 130.6 582.5 124.5 577.1 125.8Z" fill="url(#s270)" stroke-opacity="0.8"/><path d="M439.1 121.8 445.3 120.0 439.8 121.2 433.7 123.1Z" fill="#0fb" stroke="#0fb" stroke-opacity="1"/><path d="M602.0 144.6 607.3 143.5 600.8 136.2 595.5 137.3Z" fill="url(#s271)" stroke-opacity="0.8"/><path d="M626.7 168.7 631.9 167.9 625.5 158.9 620.3 159.8Z" fill="#00f" stroke-opacity="0.8"/><path d="M499.0 113.0 504.9 111.4 498.8 109.8 493.0 111.6Z" fill="url(#s272)" stroke-opacity="0.58"/><path d="M421.1 126.8 427.4 125.0 422.1 126.9 415.9 128.9Z" fill="#00ffef" stroke="#00ffef" stroke-opacity="1"/><path d="M571.6 127.0 577.1 125.8 570.6 120.2 565.1 121.6Z" fill="url(#s273)" stroke-opacity="0.8"/><path d="M469.0 115.8 475.1 114.2 469.2 114.0 463.2 115.8Z" fill="url(#s274)" stroke-opacity="0.42"/><path d="M633.2 178.1 638.3 177.4 631.9 167.9 626.7 168.7Z" fill="#00f" stroke-opacity="0.8"/><path d="M511.1 113.6 516.9 112.0 510.8 109.8 504.9 111.4Z" fill="url(#s275)" stroke-opacity="0.65"/><path d="M559.5 122.9 565.1 121.6 558.7 116.7 553.1 118.1Z" fill="url(#s276)" stroke-opacity="0.8"/><path d="M608.5 152.4 613.8 151.4 607.3 143.5 602.0 144.6Z" fill="url(#s277)" stroke-opacity="0.8"/><path d="M590.1 138.4 595.5 137.3 589.0 130.6 583.6 131.8Z" fill="url(#s278)" stroke-opacity="0.8"/><path d="M523.2 114.8 529.0 113.3 522.7 110.4 516.9 112.0Z" fill="url(#s279)" stroke-opacity="0.72"/><path d="M547.4 119.5 553.1 118.1 546.7 113.9 541.0 115.4Z" fill="url(#s280)" stroke-opacity="0.8"/><path d="M535.3 116.8 541.0 115.4 534.7 111.8 529.0 113.3Z" fill="url(#s281)" stroke-opacity="0.79"/><path d="M451.0 119.3 457.1 117.6 451.4 118.1 445.3 120.0Z" fill="url(#s282)" stroke-opacity="0.35"/><path d="M481.0 114.8 487.0 113.2 481.1 112.4 475.1 114.2Z" fill="url(#s283)" stroke-opacity="0.49"/><path d="M615.0 160.7 620.3 159.8 613.8 151.4 608.5 152.4Z" fill="url(#s284)" stroke-opacity="0.8"/><path d="M578.1 133.0 583.6 131.8 577.1 125.8 571.6 127.0Z" fill="url(#s285)" stroke-opacity="0.8"/><path d="M432.9 123.5 439.1 121.8 433.7 123.1 427.4 125.0Z" fill="#00ffa8" stroke="#00ffa8" stroke-opacity="1"/><path d="M596.6 145.6 602.0 144.6 595.5 137.3 590.1 138.4Z" fill="url(#s286)" stroke-opacity="0.8"/><path d="M493.1 114.6 499.0 113.0 493.0 111.6 487.0 113.2Z" fill="url(#s287)" stroke-opacity="0.56"/><path d="M414.8 128.6 421.1 126.8 415.9 128.9 409.6 130.8Z" fill="url(#s288)" stroke="#00ffdc" stroke-opacity="1"/><path d="M462.9 117.5 469.0 115.8 463.2 115.8 457.1 117.6Z" fill="url(#s289)" stroke-opacity="0.4"/><path d="M621.5 169.5 626.7 168.7 620.3 159.8 615.0 160.7Z" fill="#00f" stroke-opacity="0.8"/><path d="M566.0 128.2 571.6 127.0 565.1 121.6 559.5 122.9Z" fill="url(#s290)" stroke-opacity="0.8"/><path d="M505.2 115.0 511.1 113.6 504.9 111.4 499.0 113.0Z" fill="url(#s291)" stroke-opacity="0.63"/><path d="M553.9 124.1 559.5 122.9 553.1 118.1 547.4 119.5Z" fill="url(#s292)" stroke-opacity="0.8"/><path d="M628.0 178.8 633.2 178.1 626.7 168.7 621.5 169.5Z" fill="#00f" stroke-opacity="0.8"/><path d="M517.3 116.2 523.2 114.8 516.9 112.0 511.1 113.6Z" fill="url(#s293)" stroke-opacity="0.7"/><path d="M603.1 153.3 608.5 152.4 602.0 144.6 596.6 145.6Z" fill="url(#s294)" stroke-opacity="0.8"/><path d="M584.6 139.5 590.1 138.4 583.6 131.8 578.1 133.0Z" fill="url(#s295)" stroke-opacity="0.8"/><path d="M541.7 120.8 547.4 119.5 541.0 115.4 535.3 116.8Z" fill="url(#s296)" stroke-opacity="0.8"/><path d="M529.5 118.1 535.3 116.8 529.0 113.3 523.2 114.8Z" fill="url(#s297)" stroke-opacity="0.77"/><path d="M444.7 120.9 451.0 119.3 445.3 120.0 439.1 121.8Z" fill="url(#s298)" stroke="#00ff6d" stroke-opacity="1"/><path d="M474.9 116.4 481.0 114.8 475.1 114.2 469.0 115.8Z" fill="url(#s299)" stroke-opacity="0.47"/><path d="M426.5 125.2 432.9 123.5 427.4 125.0 421.1 126.8Z" fill="#00ff94" stroke="#00ff94" stroke-opacity="1"/><path d="M572.5 134.0 578.1 133.0 571.6 127.0 566.0 128.2Z" fill="url(#s300)" stroke-opacity="0.8"/><path d="M609.7 161.5 615.0 160.7 608.5 152.4 603.1 153.3Z" fill="url(#s301)" stroke-opacity="0.8"/><path d="M487.0 116.1 493.1 114.6 487.0 113.2 481.0 114.8Z" fill="url(#s302)" stroke-opacity="0.54"/><path d="M591.1 146.5 596.6 145.6 590.1 138.4 584.6 139.5Z" fill="url(#s303)" stroke-opacity="0.8"/><path d="M456.7 119.1 462.9 117.5 457.1 117.6 451.0 119.3Z" fill="url(#s304)" stroke-opacity="0.37"/><path d="M560.3 129.3 566.0 128.2 559.5 122.9 553.9 124.1Z" fill="url(#s305)" stroke-opacity="0.8"/><path d="M499.2 116.5 505.2 115.0 499.0 113.0 493.1 114.6Z" fill="url(#s306)" stroke-opacity="0.61"/><path d="M616.2 170.2 621.5 169.5 615.0 160.7 609.7 161.5Z" fill="url(#s307)" stroke-opacity="0.8"/><path d="M548.1 125.3 553.9 124.1 547.4 119.5 541.7 120.8Z" fill="url(#s308)" stroke-opacity="0.8"/><path d="M511.4 117.6 517.3 116.2 511.1 113.6 505.2 115.0Z" fill="url(#s309)" stroke-opacity="0.68"/><path d="M535.9 122.0 541.7 120.8 535.3 116.8 529.5 118.1Z" fill="url(#s310)" stroke-opacity="0.8"/><path d="M438.4 122.5 444.7 120.9 439.1 121.8 432.9 123.5Z" fill="url(#s311)" stroke="#00ff58" stroke-opacity="1"/><path d="M523.7 119.4 529.5 118.1 523.2 114.8 517.3 116.2Z" fill="url(#s312)" stroke-opacity="0.75"/><path d="M579.1 140.4 584.6 139.5 578.1 133.0 572.5 134.0Z" fill="url(#s313)" stroke-opacity="0.8"/><path d="M622.7 179.4 628.0 178.8 621.5 169.5 616.2 170.2Z" fill="#00f" stroke-opacity="0.8"/><path d="M597.7 154.1 603.1 153.3 596.6 145.6 591.1 146.5Z" fill="url(#s314)" stroke-opacity="0.8"/><path d="M468.8 117.9 474.9 116.4 469.0 115.8 462.9 117.5Z" fill="url(#s315)" stroke-opacity="0.45"/><path d="M420.1 126.8 426.5 125.2 421.1 126.8 414.8 128.6Z" fill="#00ff80" stroke="#00ff80" stroke-opacity="1"/><path d="M566.9 135.1 572.5 134.0 566.0 128.2 560.3 129.3Z" fill="url(#s316)" stroke-opacity="0.8"/><path d="M480.9 117.5 487.0 116.1 481.0 114.8 474.9 116.4Z" fill="url(#s317)" stroke-opacity="0.52"/><path d="M604.3 162.2 609.7 161.5 603.1 153.3 597.7 154.1Z" fill="url(#s318)" stroke-opacity="0.8"/><path d="M450.5 120.6 456.7 119.1 451.0 119.3 444.7 120.9Z" fill="url(#s319)" stroke-opacity="0.35"/><path d="M585.6 147.4 591.1 146.5 584.6 139.5 579.1 140.4Z" fill="url(#s320)" stroke-opacity="0.8"/><path d="M554.7 130.4 560.3 129.3 553.9 124.1 548.1 125.3Z" fill="url(#s321)" stroke-opacity="0.8"/><path d="M493.2 117.8 499.2 116.5 493.1 114.6 487.0 116.1Z" fill="url(#s322)" stroke-opacity="0.59"/><path d="M610.9 170.8 616.2 170.2 609.7 161.5 604.3 162.2Z" fill="url(#s323)" stroke-opacity="0.8"/><path d="M542.4 126.4 548.1 125.3 541.7 120.8 535.9 122.0Z" fill="url(#s324)" stroke-opacity="0.8"/><path d="M505.5 118.9 511.4 117.6 505.2 115.0 499.2 116.5Z" fill="url(#s325)" stroke-opacity="0.66"/><path d="M432.1 124.1 438.4 122.5 432.9 123.5 426.5 125.2Z" fill="#00ff42" stroke="#00ff42" stroke-opacity="1"/><path d="M530.1 123.2 535.9 122.0 529.5 118.1 523.7 119.4Z" fill="url(#s326)" stroke-opacity="0.8"/><path d="M517.8 120.6 523.7 119.4 517.3 116.2 511.4 117.6Z" fill="url(#s327)" stroke-opacity="0.73"/><path d="M462.6 119.4 468.8 117.9 462.9 117.5 456.7 119.1Z" fill="url(#s328)" stroke-opacity="0.42"/><path d="M573.5 141.3 579.1 140.4 572.5 134.0 566.9 135.1Z" fill="url(#s329)" stroke-opacity="0.8"/><path d="M592.2 154.9 597.7 154.1 591.1 146.5 585.6 147.4Z" fill="url(#s330)" stroke-opacity="0.8"/><path d="M617.4 180.0 622.7 179.4 616.2 170.2 610.9 170.8Z" fill="#00f" stroke-opacity="0.8"/><path d="M474.8 118.9 480.9 117.5 474.9 116.4 468.8 117.9Z" fill="url(#s331)" stroke-opacity="0.5"/><path d="M561.2 136.0 566.9 135.1 560.3 129.3 554.7 130.4Z" fill="url(#s332)" stroke-opacity="0.8"/><path d="M444.1 122.0 450.5 120.6 444.7 120.9 438.4 122.5Z" fill="url(#s333)" stroke-opacity="0.35"/><path d="M598.8 162.9 604.3 162.2 597.7 154.1 592.2 154.9Z" fill="url(#s334)" stroke-opacity="0.8"/><path d="M580.1 148.2 585.6 147.4 579.1 140.4 573.5 141.3Z" fill="url(#s335)" stroke-opacity="0.8"/><path d="M487.1 119.1 493.2 117.8 487.0 116.1 480.9 117.5Z" fill="url(#s336)" stroke-opacity="0.57"/><path d="M548.9 131.4 554.7 130.4 548.1 125.3 542.4 126.4Z" fill="url(#s337)" stroke-opacity="0.8"/><path d="M499.4 120.1 505.5 118.9 499.2 116.5 493.2 117.8Z" fill="url(#s338)" stroke-opacity="0.65"/><path d="M425.6 125.6 432.1 124.1 426.5 125.2 420.1 126.8Z" fill="#00ff2b" stroke="#00ff2b" stroke-opacity="1"/><path d="M536.5 127.5 542.4 126.4 535.9 122.0 530.1 123.2Z" fill="url(#s339)" stroke-opacity="0.8"/><path d="M605.5 171.4 610.9 170.8 604.3 162.2 598.8 162.9Z" fill="url(#s340)" stroke-opacity="0.8"/><path d="M511.8 121.8 517.8 120.6 511.4 117.6 505.5 118.9Z" fill="url(#s341)" stroke-opacity="0.72"/><path d="M524.2 124.3 530.1 123.2 523.7 119.4 517.8 120.6Z" fill="url(#s342)" stroke-opacity="0.79"/><path d="M456.3 120.7 462.6 119.4 456.7 119.1 450.5 120.6Z" fill="url(#s343)" stroke-opacity="0.4"/><path d="M567.8 142.2 573.5 141.3 566.9 135.1 561.2 136.0Z" fill="url(#s344)" stroke-opacity="0.8"/><path d="M586.7 155.6 592.2 154.9 585.6 147.4 580.1 148.2Z" fill="url(#s345)" stroke-opacity="0.8"/><path d="M612.1 180.5 617.4 180.0 610.9 170.8 605.5 171.4Z" fill="url(#s346)" stroke-opacity="0.8"/><path d="M468.6 120.2 474.8 118.9 468.8 117.9 462.6 119.4Z" fill="url(#s347)" stroke-opacity="0.48"/><path d="M437.7 123.5 444.1 122.0 438.4 122.5 432.1 124.1Z" fill="url(#s348)" stroke="#08ff00" stroke-opacity="1"/><path d="M555.5 136.9 561.2 136.0 554.7 130.4 548.9 131.4Z" fill="url(#s349)" stroke-opacity="0.8"/><path d="M480.9 120.4 487.1 119.1 480.9 117.5 474.8 118.9Z" fill="url(#s350)" stroke-opacity="0.55"/><path d="M593.3 163.5 598.8 162.9 592.2 154.9 586.7 155.6Z" fill="url(#s351)" stroke-opacity="0.8"/><path d="M574.4 148.9 580.1 148.2 573.5 141.3 567.8 142.2Z" fill="url(#s352)" stroke-opacity="0.8"/><path d="M543.1 132.3 548.9 131.4 542.4 126.4 536.5 127.5Z" fill="url(#s353)" stroke-opacity="0.8"/><path d="M493.3 121.3 499.4 120.1 493.2 117.8 487.1 119.1Z" fill="url(#s354)" stroke-opacity="0.62"/><path d="M530.6 128.4 536.5 127.5 530.1 123.2 524.2 124.3Z" fill="url(#s355)" stroke-opacity="0.8"/><path d="M449.9 122.1 456.3 120.7 450.5 120.6 444.1 122.0Z" fill="url(#s356)" stroke-opacity="0.37"/><path d="M505.7 122.9 511.8 121.8 505.5 118.9 499.4 120.1Z" fill="url(#s357)" stroke-opacity="0.7"/><path d="M518.2 125.3 524.2 124.3 517.8 120.6 511.8 121.8Z" fill="url(#s358)" stroke-opacity="0.77"/><path d="M600.0 171.9 605.5 171.4 598.8 162.9 593.3 163.5Z" fill="url(#s359)" stroke-opacity="0.8"/><path d="M562.1 143.0 567.8 142.2 561.2 136.0 555.5 136.9Z" fill="url(#s360)" stroke-opacity="0.8"/><path d="M581.1 156.2 586.7 155.6 580.1 148.2 574.4 148.9Z" fill="url(#s361)" stroke-opacity="0.8"/><path d="M462.3 121.4 468.6 120.2 462.6 119.4 456.3 120.7Z" fill="url(#s362)" stroke-opacity="0.45"/><path d="M606.6 180.9 612.1 180.5 605.5 171.4 600.0 171.9Z" fill="url(#s363)" stroke-opacity="0.8"/><path d="M431.3 124.8 437.7 123.5 432.1 124.1 425.6 125.6Z" fill="url(#s364)" stroke="#2f0" stroke-opacity="1"/><path d="M549.7 137.7 555.5 136.9 548.9 131.4 543.1 132.3Z" fill="url(#s365)" stroke-opacity="0.8"/><path d="M474.7 121.5 480.9 120.4 474.8 118.9 468.6 120.2Z" fill="url(#s366)" stroke-opacity="0.53"/><path d="M587.8 164.0 593.3 163.5 586.7 155.6 581.1 156.2Z" fill="url(#s367)" stroke-opacity="0.8"/><path d="M537.2 133.2 543.1 132.3 536.5 127.5 530.6 128.4Z" fill="url(#s368)" stroke-opacity="0.8"/><path d="M568.7 149.6 574.4 148.9 567.8 142.2 562.1 143.0Z" fill="url(#s369)" stroke-opacity="0.8"/><path d="M487.1 122.4 493.3 121.3 487.1 119.1 480.9 120.4Z" fill="url(#s370)" stroke-opacity="0.6"/><path d="M443.5 123.3 449.9 122.1 444.1 122.0 437.7 123.5Z" fill="url(#s371)" stroke-opacity="0.35"/><path d="M524.7 129.4 530.6 128.4 524.2 124.3 518.2 125.3Z" fill="url(#s372)" stroke-opacity="0.8"/><path d="M499.6 124.0 505.7 122.9 499.4 120.1 493.3 121.3Z" fill="url(#s373)" stroke-opacity="0.68"/><path d="M512.1 126.3 518.2 125.3 511.8 121.8 505.7 122.9Z" fill="url(#s374)" stroke-opacity="0.75"/><path d="M594.5 172.4 600.0 171.9 593.3 163.5 587.8 164.0Z" fill="url(#s375)" stroke-opacity="0.8"/><path d="M556.3 143.7 562.1 143.0 555.5 136.9 549.7 137.7Z" fill="url(#s376)" stroke-opacity="0.8"/><path d="M455.9 122.6 462.3 121.4 456.3 120.7 449.9 122.1Z" fill="url(#s377)" stroke-opacity="0.43"/><path d="M575.4 156.8 581.1 156.2 574.4 148.9 568.7 149.6Z" fill="url(#s378)" stroke-opacity="0.8"/><path d="M601.1 181.3 606.6 180.9 600.0 171.9 594.5 172.4Z" fill="url(#s379)" stroke-opacity="0.8"/><path d="M543.8 138.5 549.7 137.7 543.1 132.3 537.2 133.2Z" fill="url(#s380)" stroke-opacity="0.8"/><path d="M468.3 122.6 474.7 121.5 468.6 120.2 462.3 121.4Z" fill="url(#s381)" stroke-opacity="0.51"/><path d="M531.2 134.0 537.2 133.2 530.6 128.4 524.7 129.4Z" fill="url(#s382)" stroke-opacity="0.8"/><path d="M480.9 123.4 487.1 122.4 480.9 120.4 474.7 121.5Z" fill="url(#s383)" stroke-opacity="0.58"/><path d="M582.1 164.5 587.8 164.0 581.1 156.2 575.4 156.8Z" fill="url(#s384)" stroke-opacity="0.8"/><path d="M563.0 150.2 568.7 149.6 562.1 143.0 556.3 143.7Z" fill="url(#s385)" stroke-opacity="0.8"/><path d="M437.0 124.5 443.5 123.3 437.7 123.5 431.3 124.8Z" fill="url(#s386)" stroke-opacity="0.35"/><path d="M518.6 130.2 524.7 129.4 518.2 125.3 512.1 126.3Z" fill="url(#s387)" stroke-opacity="0.8"/><path d="M493.4 124.9 499.6 124.0 493.3 121.3 487.1 122.4Z" fill="url(#s388)" stroke-opacity="0.66"/><path d="M506.0 127.2 512.1 126.3 505.7 122.9 499.6 124.0Z" fill="url(#s389)" stroke-opacity="0.73"/><path d="M550.4 144.3 556.3 143.7 549.7 137.7 543.8 138.5Z" fill="url(#s390)" stroke-opacity="0.8"/><path d="M588.8 172.8 594.5 172.4 587.8 164.0 582.1 164.5Z" fill="url(#s391)" stroke-opacity="0.8"/><path d="M449.4 123.7 455.9 122.6 449.9 122.1 443.5 123.3Z" fill="url(#s392)" stroke-opacity="0.4"/><path d="M569.7 157.3 575.4 156.8 568.7 149.6 563.0 150.2Z" fill="url(#s393)" stroke-opacity="0.8"/><path d="M537.8 139.2 543.8 138.5 537.2 133.2 531.2 134.0Z" fill="url(#s394)" stroke-opacity="0.8"/><path d="M461.9 123.7 468.3 122.6 462.3 121.4 455.9 122.6Z" fill="url(#s395)" stroke-opacity="0.48"/><path d="M595.6 181.6 601.1 181.3 594.5 172.4 588.8 172.8Z" fill="url(#s396)" stroke-opacity="0.8"/><path d="M525.2 134.7 531.2 134.0 524.7 129.4 518.6 130.2Z" fill="url(#s397)" stroke-opacity="0.8"/><path d="M474.5 124.4 480.9 123.4 474.7 121.5 468.3 122.6Z" fill="url(#s398)" stroke-opacity="0.56"/><path d="M557.1 150.7 563.0 150.2 556.3 143.7 550.4 144.3Z" fill="url(#s399)" stroke-opacity="0.8"/><path d="M576.4 164.9 582.1 164.5 575.4 156.8 569.7 157.3Z" fill="url(#s400)" stroke-opacity="0.8"/><path d="M512.5 131.0 518.6 130.2 512.1 126.3 506.0 127.2Z" fill="url(#s401)" stroke-opacity="0.78"/><path d="M487.2 125.9 493.4 124.9 487.1 122.4 480.9 123.4Z" fill="url(#s402)" stroke-opacity="0.64"/><path d="M499.8 128.1 506.0 127.2 499.6 124.0 493.4 124.9Z" fill="url(#s403)" stroke-opacity="0.71"/><path d="M442.9 124.8 449.4 123.7 443.5 123.3 437.0 124.5Z" fill="url(#s404)" stroke-opacity="0.38"/><path d="M544.5 144.9 550.4 144.3 543.8 138.5 537.8 139.2Z" fill="url(#s405)" stroke-opacity="0.8"/><path d="M583.2 173.1 588.8 172.8 582.1 164.5 576.4 164.9Z" fill="url(#s406)" stroke-opacity="0.8"/><path d="M563.9 157.7 569.7 157.3 563.0 150.2 557.1 150.7Z" fill="url(#s407)" stroke-opacity="0.8"/><path d="M455.5 124.7 461.9 123.7 455.9 122.6 449.4 123.7Z" fill="url(#s408)" stroke-opacity="0.46"/><path d="M531.8 139.8 537.8 139.2 531.2 134.0 525.2 134.7Z" fill="url(#s409)" stroke-opacity="0.8"/><path d="M589.9 181.8 595.6 181.6 588.8 172.8 583.2 173.1Z" fill="url(#s410)" stroke-opacity="0.8"/><path d="M468.1 125.3 474.5 124.4 468.3 122.6 461.9 123.7Z" fill="url(#s411)" stroke-opacity="0.54"/><path d="M519.1 135.4 525.2 134.7 518.6 130.2 512.5 131.0Z" fill="url(#s412)" stroke-opacity="0.8"/><path d="M480.8 126.7 487.2 125.9 480.9 123.4 474.5 124.4Z" fill="url(#s413)" stroke-opacity="0.62"/><path d="M506.3 131.8 512.5 131.0 506.0 127.2 499.8 128.1Z" fill="url(#s414)" stroke-opacity="0.77"/><path d="M551.2 151.2 557.1 150.7 550.4 144.3 544.5 144.9Z" fill="url(#s415)" stroke-opacity="0.8"/><path d="M493.6 128.9 499.8 128.1 493.4 124.9 487.2 125.9Z" fill="url(#s416)" stroke-opacity="0.69"/><path d="M570.6 165.2 576.4 164.9 569.7 157.3 563.9 157.7Z" fill="url(#s417)" stroke-opacity="0.8"/><path d="M538.5 145.4 544.5 144.9 537.8 139.2 531.8 139.8Z" fill="url(#s418)" stroke-opacity="0.8"/><path d="M577.4 173.3 583.2 173.1 576.4 164.9 570.6 165.2Z" fill="url(#s419)" stroke-opacity="0.8"/><path d="M448.9 125.6 455.5 124.7 449.4 123.7 442.9 124.8Z" fill="url(#s420)" stroke-opacity="0.43"/><path d="M558.0 158.1 563.9 157.7 557.1 150.7 551.2 151.2Z" fill="url(#s421)" stroke-opacity="0.8"/><path d="M525.7 140.3 531.8 139.8 525.2 134.7 519.1 135.4Z" fill="url(#s422)" stroke-opacity="0.8"/><path d="M461.6 126.2 468.1 125.3 461.9 123.7 455.5 124.7Z" fill="url(#s423)" stroke-opacity="0.51"/><path d="M512.9 136.0 519.1 135.4 512.5 131.0 506.3 131.8Z" fill="url(#s424)" stroke-opacity="0.8"/><path d="M584.2 182.0 589.9 181.8 583.2 173.1 577.4 173.3Z" fill="url(#s425)" stroke-opacity="0.8"/><path d="M474.4 127.5 480.8 126.7 474.5 124.4 468.1 125.3Z" fill="url(#s426)" stroke-opacity="0.59"/><path d="M500.1 132.4 506.3 131.8 499.8 128.1 493.6 128.9Z" fill="url(#s427)" stroke-opacity="0.75"/><path d="M487.2 129.6 493.6 128.9 487.2 125.9 480.8 126.7Z" fill="url(#s428)" stroke-opacity="0.67"/><path d="M545.2 151.6 551.2 151.2 544.5 144.9 538.5 145.4Z" fill="url(#s429)" stroke-opacity="0.8"/><path d="M564.8 165.5 570.6 165.2 563.9 157.7 558.0 158.1Z" fill="url(#s430)" stroke-opacity="0.8"/><path d="M532.4 145.9 538.5 145.4 531.8 139.8 525.7 140.3Z" fill="url(#s431)" stroke-opacity="0.8"/><path d="M571.6 173.5 577.4 173.3 570.6 165.2 564.8 165.5Z" fill="url(#s432)" stroke-opacity="0.8"/><path d="M552.0 158.4 558.0 158.1 551.2 151.2 545.2 151.6Z" fill="url(#s433)" stroke-opacity="0.8"/><path d="M519.5 140.8 525.7 140.3 519.1 135.4 512.9 136.0Z" fill="url(#s434)" stroke-opacity="0.8"/><path d="M455.1 127.0 461.6 126.2 455.5 124.7 448.9 125.6Z" fill="url(#s435)" stroke-opacity="0.49"/><path d="M506.6 136.5 512.9 136.0 506.3 131.8 500.1 132.4Z" fill="url(#s436)" stroke-opacity="0.8"/><path d="M467.9 128.2 474.4 127.5 468.1 125.3 461.6 126.2Z" fill="url(#s437)" stroke-opacity="0.57"/><path d="M578.5 182.1 584.2 182.0 577.4 173.3 571.6 173.5Z" fill="url(#s438)" stroke-opacity="0.8"/><path d="M493.7 133.0 500.1 132.4 493.6 128.9 487.2 129.6Z" fill="url(#s439)" stroke-opacity="0.73"/><path d="M480.8 130.2 487.2 129.6 480.8 126.7 474.4 127.5Z" fill="url(#s440)" stroke-opacity="0.65"/><path d="M539.2 152.0 545.2 151.6 538.5 145.4 532.4 145.9Z" fill="url(#s441)" stroke-opacity="0.8"/><path d="M558.8 165.7 564.8 165.5 558.0 158.1 552.0 158.4Z" fill="url(#s442)" stroke-opacity="0.8"/><path d="M526.3 146.2 532.4 145.9 525.7 140.3 519.5 140.8Z" fill="url(#s443)" stroke-opacity="0.8"/><path d="M565.7 173.6 571.6 173.5 564.8 165.5 558.8 165.7Z" fill="url(#s444)" stroke-opacity="0.8"/><path d="M546.0 158.6 552.0 158.4 545.2 151.6 539.2 152.0Z" fill="url(#s445)" stroke-opacity="0.8"/><path d="M513.3 141.3 519.5 140.8 512.9 136.0 506.6 136.5Z" fill="url(#s446)" stroke-opacity="0.8"/><path d="M500.3 137.0 506.6 136.5 500.1 132.4 493.7 133.0Z" fill="url(#s447)" stroke-opacity="0.79"/><path d="M461.3 128.9 467.9 128.2 461.6 126.2 455.1 127.0Z" fill="url(#s448)" stroke-opacity="0.55"/><path d="M487.3 133.5 493.7 133.0 487.2 129.6 480.8 130.2Z" fill="url(#s449)" stroke-opacity="0.71"/><path d="M474.3 130.8 480.8 130.2 474.4 127.5 467.9 128.2Z" fill="url(#s450)" stroke-opacity="0.63"/><path d="M572.6 182.1 578.5 182.1 571.6 173.5 565.7 173.6Z" fill="url(#s451)" stroke-opacity="0.8"/><path d="M533.0 152.2 539.2 152.0 532.4 145.9 526.3 146.2Z" fill="url(#s452)" stroke-opacity="0.8"/><path d="M552.8 165.8 558.8 165.7 552.0 158.4 546.0 158.6Z" fill="url(#s453)" stroke-opacity="0.8"/><path d="M520.0 146.5 526.3 146.2 519.5 140.8 513.3 141.3Z" fill="url(#s454)" stroke-opacity="0.8"/><path d="M507.0 141.6 513.3 141.3 506.6 136.5 500.3 137.0Z" fill="url(#s455)" stroke-opacity="0.8"/><path d="M559.7 173.6 565.7 173.6 558.8 165.7 552.8 165.8Z" fill="url(#s456)" stroke-opacity="0.8"/><path d="M539.9 158.8 546.0 158.6 539.2 152.0 533.0 152.2Z" fill="url(#s457)" stroke-opacity="0.8"/><path d="M493.9 137.4 500.3 137.0 493.7 133.0 487.3 133.5Z" fill="url(#s458)" stroke-opacity="0.77"/><path d="M480.8 134.0 487.3 133.5 480.8 130.2 474.3 130.8Z" fill="url(#s459)" stroke-opacity="0.69"/><path d="M467.7 131.3 474.3 130.8 467.9 128.2 461.3 128.9Z" fill="url(#s460)" stroke-opacity="0.61"/><path d="M566.7 182.0 572.6 182.1 565.7 173.6 559.7 173.6Z" fill="url(#s461)" stroke-opacity="0.8"/><path d="M526.8 152.4 533.0 152.2 526.3 146.2 520.0 146.5Z" fill="url(#s462)" stroke-opacity="0.8"/><path d="M546.8 165.9 552.8 165.8 546.0 158.6 539.9 158.8Z" fill="url(#s463)" stroke-opacity="0.8"/><path d="M513.7 146.8 520.0 146.5 513.3 141.3 507.0 141.6Z" fill="url(#s464)" stroke-opacity="0.8"/><path d="M500.5 141.9 507.0 141.6 500.3 137.0 493.9 137.4Z" fill="url(#s465)" stroke-opacity="0.8"/><path d="M533.7 158.8 539.9 158.8 533.0 152.2 526.8 152.4Z" fill="url(#s466)" stroke-opacity="0.8"/><path d="M553.7 173.6 559.7 173.6 552.8 165.8 546.8 165.9Z" fill="url(#s467)" stroke-opacity="0.8"/><path d="M487.3 137.7 493.9 137.4 487.3 133.5 480.8 134.0Z" fill="url(#s468)" stroke-opacity="0.75"/><path d="M474.2 134.4 480.8 134.0 474.3 130.8 467.7 131.3Z" fill="url(#s469)" stroke-opacity="0.67"/><path d="M520.5 152.5 526.8 152.4 520.0 146.5 513.7 146.8Z" fill="url(#s470)" stroke-opacity="0.8"/><path d="M560.6 181.9 566.7 182.0 559.7 173.6 553.7 173.6Z" fill="url(#s471)" stroke-opacity="0.8"/><path d="M540.6 165.9 546.8 165.9 539.9 158.8 533.7 158.8Z" fill="url(#s472)" stroke-opacity="0.8"/><path d="M507.3 146.9 513.7 146.8 507.0 141.6 500.5 141.9Z" fill="url(#s473)" stroke-opacity="0.8"/><path d="M494.0 142.1 500.5 141.9 493.9 137.4 487.3 137.7Z" fill="url(#s474)" stroke-opacity="0.8"/><path d="M527.4 158.8 533.7 158.8 526.8 152.4 520.5 152.5Z" fill="url(#s475)" stroke-opacity="0.8"/><path d="M547.5 173.5 553.7 173.6 546.8 165.9 540.6 165.9Z" fill="url(#s476)" stroke-opacity="0.8"/><path d="M480.7 138.0 487.3 137.7 480.8 134.0 474.2 134.4Z" fill="url(#s477)" stroke-opacity="0.73"/><path d="M514.1 152.5 520.5 152.5 513.7 146.8 507.3 146.9Z" fill="url(#s478)" stroke-opacity="0.8"/><path d="M554.5 181.6 560.6 181.9 553.7 173.6 547.5 173.5Z" fill="url(#s479)" stroke-opacity="0.8"/><path d="M534.3 165.8 540.6 165.9 533.7 158.8 527.4 158.8Z" fill="url(#s480)" stroke-opacity="0.8"/><path d="M500.8 147.0 507.3 146.9 500.5 141.9 494.0 142.1Z" fill="url(#s481)" stroke-opacity="0.8"/><path d="M487.4 142.2 494.0 142.1 487.3 137.7 480.7 138.0Z" fill="url(#s482)" stroke-opacity="0.79"/><path d="M521.0 158.8 527.4 158.8 520.5 152.5 514.1 152.5Z" fill="url(#s483)" stroke-opacity="0.8"/><path d="M541.3 173.3 547.5 173.5 540.6 165.9 534.3 165.8Z" fill="url(#s484)" stroke-opacity="0.8"/><path d="M507.6 152.5 514.1 152.5 507.3 146.9 500.8 147.0Z" fill="url(#s485)" stroke-opacity="0.8"/><path d="M548.3 181.3 554.5 181.6 547.5 173.5 541.3 173.3Z" fill="url(#s486)" stroke-opacity="0.8"/><path d="M528.0 165.6 534.3 165.8 527.4 158.8 521.0 158.8Z" fill="url(#s487)" stroke-opacity="0.8"/><path d="M494.2 147.0 500.8 147.0 494.0 142.1 487.4 142.2Z" fill="url(#s488)" stroke-opacity="0.8"/><path d="M514.5 158.6 521.0 158.8 514.1 152.5 507.6 152.5Z" fill="url(#s489)" stroke-opacity="0.8"/><path d="M535.0 173.0 541.3 173.3 534.3 165.8 528.0 165.6Z" fill="url(#s490)" stroke-opacity="0.8"/><path d="M501.0 152.4 507.6 152.5 500.8 147.0 494.2 147.0Z" fill="url(#s491)" stroke-opacity="0.8"/><path d="M542.0 181.0 548.3 181.3 541.3 173.3 535.0 173.0Z" fill="url(#s492)" stroke-opacity="0.8"/><path d="M521.5 165.3 528.0 165.6 521.0 158.8 514.5 158.6Z" fill="url(#s493)" stroke-opacity="0.8"/><path d="M508.0 158.4 514.5 158.6 507.6 152.5 501.0 152.4Z" fill="url(#s494)" stroke-opacity="0.8"/><path d="M528.6 172.6 535.0 173.0 528.0 165.6 521.5 165.3Z" fill="url(#s495)" stroke-opacity="0.8"/><path d="M535.7 180.5 542.0 181.0 535.0 173.0 528.6 172.6Z" fill="url(#s496)" stroke-opacity="0.8"/><path d="M515.0 165.0 521.5 165.3 514.5 158.6 508.0 158.4Z" fill="url(#s497)" stroke-opacity="0.8"/><path d="M522.0 172.2 528.6 172.6 521.5 165.3 515.0 165.0Z" fill="url(#s498)" stroke-opacity="0.8"/><path d="M529.2 179.9 535.7 180.5 528.6 172.6 522.0 172.2Z" fill="url(#s499)" stroke-opacity="0.8"/></g>
<circle cx="465" cy="132.5" r="2.7" fill="#ffc4c4" stroke="#733" stroke-width="0.7"/>
<circle cx="465" cy="138" r="2.7" fill="#ffc4c4" stroke="#733" stroke-width="0.7"/>
<circle cx="485.5" cy="146.5" r="2.7" fill="#ffc4c4" stroke="#733" stroke-width="0.7"/>
<circle cx="506.7" cy="160.5" r="2.7" fill="#ffc4c4" stroke="#733" stroke-width="0.7"/>
<circle cx="529" cy="183.5" r="2.7" fill="#ffc4c4" stroke="#733" stroke-width="0.7"/>
<circle cx="529.5" cy="188.3" r="2.7" fill="#ffc4c4" stroke="#733" stroke-width="0.7"/>
<circle cx="556.5" cy="64" r="2.7" fill="#c40000" stroke="#2a0000" stroke-width="0.7"/>
<circle cx="574.5" cy="66.5" r="2.7" fill="#c40000" stroke="#2a0000" stroke-width="0.7"/>
<circle cx="594" cy="78.5" r="2.7" fill="#c40000" stroke="#2a0000" stroke-width="0.7"/>
<circle cx="594" cy="75" r="2.7" fill="#c40000" stroke="#2a0000" stroke-width="0.7"/>
<circle cx="505.5" cy="101" r="2.7" fill="#c40000" stroke="#2a0000" stroke-width="0.7"/>
<circle cx="505.5" cy="97.5" r="2.7" fill="#c40000" stroke="#2a0000" stroke-width="0.7"/>
<circle cx="524" cy="105" r="2.7" fill="#c40000" stroke="#2a0000" stroke-width="0.7"/>
<circle cx="544" cy="117" r="2.7" fill="#c40000" stroke="#2a0000" stroke-width="0.7"/>
<circle cx="544" cy="112.5" r="2.7" fill="#c40000" stroke="#2a0000" stroke-width="0.7"/>
<circle cx="564.5" cy="131.5" r="2.7" fill="#c40000" stroke="#2a0000" stroke-width="0.7"/>
<circle cx="564.5" cy="129" r="2.7" fill="#c40000" stroke="#2a0000" stroke-width="0.7"/>
<circle cx="464.5" cy="126" r="2.7" fill="#c40000" stroke="#2a0000" stroke-width="0.7"/>
<circle cx="485" cy="136" r="2.7" fill="#c40000" stroke="#2a0000" stroke-width="0.7"/>
<circle cx="485" cy="132.5" r="2.7" fill="#c40000" stroke="#2a0000" stroke-width="0.7"/>
<circle cx="506.7" cy="156" r="2.7" fill="#c40000" stroke="#2a0000" stroke-width="0.7"/>
<circle cx="506.7" cy="150.7" r="2.7" fill="#c40000" stroke="#2a0000" stroke-width="0.7"/>
<circle cx="529" cy="178.7" r="2.7" fill="#c40000" stroke="#2a0000" stroke-width="0.7"/>
<circle cx="538.4" cy="57.6" r="4.2" fill="#fff" stroke="#a00000" stroke-width="1.7"/>
<circle cx="538.4" cy="57.6" r="2" fill="#c00000"/>
<text transform="translate(354.8 148.7) rotate(-90)" class="b" font-size="15.6" text-anchor="middle">14D Compressive Strength (MPa)</text>
<text x="415.5" y="312.5" class="b" font-size="15.4" text-anchor="middle">B: RHA (%)</text>
<text x="646" y="319" class="b" font-size="15.4" text-anchor="middle">A: EMS (%)</text>
</svg>
</body></html>
